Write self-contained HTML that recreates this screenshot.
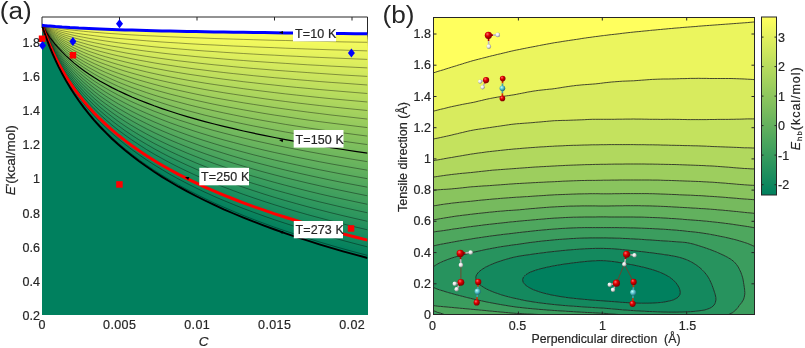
<!DOCTYPE html>
<html><head><meta charset="utf-8"><style>
html,body{margin:0;padding:0;background:#fff;width:805px;height:348px;overflow:hidden;position:relative}
text{font-family:"Liberation Sans",sans-serif;stroke:#262626;stroke-width:0.2px}
</style></head><body>
<svg width="805" height="348" viewBox="0 0 805 348" style="position:absolute;left:0;top:0;will-change:transform">
<rect width="805" height="348" fill="#fff"/>
<defs><clipPath id="ca"><rect x="42" y="17.0" width="325.5" height="297.6"/></clipPath>
<clipPath id="cb"><rect x="433" y="17" width="322" height="298"/></clipPath></defs>
<path d="M42.0 28 L42.0 17.0 L367.5 17.0 L367.5 314.6" fill="none" stroke="#262626" stroke-width="1"/>
<line x1="119.5" y1="17.0" x2="119.5" y2="20.5" stroke="#262626" stroke-width="1"/>
<line x1="197" y1="17.0" x2="197" y2="20.5" stroke="#262626" stroke-width="1"/>
<line x1="274.5" y1="17.0" x2="274.5" y2="20.5" stroke="#262626" stroke-width="1"/>
<line x1="352" y1="17.0" x2="352" y2="20.5" stroke="#262626" stroke-width="1"/>
<g clip-path="url(#ca)">
<path d="M42 25.3 L42.3 26.3 L43.1 28.7 L44.3 32.3 L45.9 36.7 L47.8 41.9 L50 47.6 L52.6 53.8 L55.4 60.2 L58.6 66.9 L62.1 73.6 L65.8 80.4 L69.9 87.3 L74.2 94 L78.8 100.7 L83.7 107.4 L88.8 113.9 L94.2 120.3 L99.8 126.5 L105.8 132.7 L111.9 138.7 L118.3 144.5 L125 150.2 L131.9 155.8 L139.1 161.3 L146.5 166.6 L154.1 171.8 L162 176.9 L170.1 181.8 L178.5 186.7 L187.1 191.4 L195.9 196 L204.9 200.5 L214.2 204.9 L223.7 209.3 L233.5 213.5 L243.4 217.6 L253.6 221.7 L264 225.6 L274.6 229.5 L285.5 233.3 L296.6 237.1 L307.8 240.7 L319.3 244.3 L331.1 247.8 L343 251.3 L355.1 254.6 L367.5 258 L372.5 319.6 L42 319.6 Z" fill="#00805e"/>
<path d="M42 25.3 L42.3 25.3 L43.1 25.4 L44.3 25.6 L45.9 25.7 L47.8 25.9 L50 26.1 L52.6 26.3 L55.4 26.6 L58.6 26.8 L62.1 27.1 L65.8 27.3 L69.9 27.6 L74.2 27.8 L78.8 28.1 L83.7 28.3 L88.8 28.5 L94.2 28.8 L99.8 29 L105.8 29.2 L111.9 29.5 L118.3 29.7 L125 29.9 L131.9 30.1 L139.1 30.3 L146.5 30.5 L154.1 30.7 L162 30.9 L170.1 31 L178.5 31.2 L187.1 31.4 L195.9 31.6 L204.9 31.7 L214.2 31.9 L223.7 32 L233.5 32.2 L243.4 32.3 L253.6 32.5 L264 32.6 L274.6 32.8 L285.5 32.9 L296.6 33.1 L307.8 33.2 L319.3 33.3 L331.1 33.5 L343 33.6 L355.1 33.7 L367.5 33.8 L372.5 319.6 L40 319.6 L40 25.3Z" fill="#feff5e"/>
<path d="M42 25.3 L42.3 25.3 L43.1 25.5 L44.3 25.6 L45.9 25.8 L47.8 26 L50 26.3 L52.6 26.6 L55.4 26.8 L58.6 27.1 L62.1 27.4 L65.8 27.7 L69.9 28 L74.2 28.3 L78.8 28.6 L83.7 28.9 L88.8 29.2 L94.2 29.5 L99.8 29.7 L105.8 30 L111.9 30.3 L118.3 30.5 L125 30.8 L131.9 31 L139.1 31.3 L146.5 31.5 L154.1 31.7 L162 32 L170.1 32.2 L178.5 32.4 L187.1 32.6 L195.9 32.8 L204.9 33 L214.2 33.2 L223.7 33.4 L233.5 33.6 L243.4 33.8 L253.6 33.9 L264 34.1 L274.6 34.3 L285.5 34.4 L296.6 34.6 L307.8 34.8 L319.3 34.9 L331.1 35.1 L343 35.2 L355.1 35.4 L367.5 35.5 L372.5 319.6 L40 319.6 L40 25.3Z" fill="#fcfe5e"/>
<path d="M42 25.3 L42.3 25.4 L43.1 25.5 L44.3 25.7 L45.9 25.9 L47.8 26.2 L50 26.4 L52.6 26.8 L55.4 27.1 L58.6 27.4 L62.1 27.8 L65.8 28.1 L69.9 28.5 L74.2 28.8 L78.8 29.2 L83.7 29.5 L88.8 29.8 L94.2 30.2 L99.8 30.5 L105.8 30.8 L111.9 31.1 L118.3 31.4 L125 31.7 L131.9 32 L139.1 32.3 L146.5 32.5 L154.1 32.8 L162 33.1 L170.1 33.3 L178.5 33.6 L187.1 33.8 L195.9 34.1 L204.9 34.3 L214.2 34.5 L223.7 34.7 L233.5 35 L243.4 35.2 L253.6 35.4 L264 35.6 L274.6 35.8 L285.5 36 L296.6 36.2 L307.8 36.3 L319.3 36.5 L331.1 36.7 L343 36.9 L355.1 37.1 L367.5 37.2 L372.5 319.6 L40 319.6 L40 25.3Z" fill="#fafd5e"/>
<path d="M42 25.3 L42.3 25.4 L43.1 25.5 L44.3 25.7 L45.9 26 L47.8 26.3 L50 26.6 L52.6 27 L55.4 27.3 L58.6 27.7 L62.1 28.1 L65.8 28.5 L69.9 28.9 L74.2 29.3 L78.8 29.7 L83.7 30.1 L88.8 30.5 L94.2 30.9 L99.8 31.2 L105.8 31.6 L111.9 31.9 L118.3 32.3 L125 32.6 L131.9 32.9 L139.1 33.3 L146.5 33.6 L154.1 33.9 L162 34.2 L170.1 34.5 L178.5 34.8 L187.1 35 L195.9 35.3 L204.9 35.6 L214.2 35.8 L223.7 36.1 L233.5 36.3 L243.4 36.6 L253.6 36.8 L264 37 L274.6 37.3 L285.5 37.5 L296.6 37.7 L307.8 37.9 L319.3 38.1 L331.1 38.3 L343 38.5 L355.1 38.7 L367.5 38.9 L372.5 319.6 L40 319.6 L40 25.3Z" fill="#f8fc5e"/>
<path d="M42 25.3 L42.3 25.4 L43.1 25.5 L44.3 25.8 L45.9 26.1 L47.8 26.4 L50 26.8 L52.6 27.2 L55.4 27.6 L58.6 28 L62.1 28.5 L65.8 28.9 L69.9 29.4 L74.2 29.8 L78.8 30.3 L83.7 30.7 L88.8 31.1 L94.2 31.6 L99.8 32 L105.8 32.4 L111.9 32.8 L118.3 33.2 L125 33.5 L131.9 33.9 L139.1 34.3 L146.5 34.6 L154.1 35 L162 35.3 L170.1 35.6 L178.5 35.9 L187.1 36.3 L195.9 36.6 L204.9 36.9 L214.2 37.1 L223.7 37.4 L233.5 37.7 L243.4 38 L253.6 38.2 L264 38.5 L274.6 38.8 L285.5 39 L296.6 39.3 L307.8 39.5 L319.3 39.7 L331.1 40 L343 40.2 L355.1 40.4 L367.5 40.6 L372.5 319.6 L40 319.6 L40 25.3Z" fill="#f6fb5e"/>
<path d="M42 25.3 L42.3 25.4 L43.1 25.6 L44.3 25.8 L45.9 26.1 L47.8 26.5 L50 26.9 L52.6 27.4 L55.4 27.9 L58.6 28.3 L62.1 28.8 L65.8 29.3 L69.9 29.8 L74.2 30.3 L78.8 30.8 L83.7 31.3 L88.8 31.8 L94.2 32.3 L99.8 32.7 L105.8 33.2 L111.9 33.6 L118.3 34 L125 34.5 L131.9 34.9 L139.1 35.3 L146.5 35.7 L154.1 36 L162 36.4 L170.1 36.8 L178.5 37.1 L187.1 37.5 L195.9 37.8 L204.9 38.1 L214.2 38.5 L223.7 38.8 L233.5 39.1 L243.4 39.4 L253.6 39.7 L264 40 L274.6 40.3 L285.5 40.5 L296.6 40.8 L307.8 41.1 L319.3 41.3 L331.1 41.6 L343 41.9 L355.1 42.1 L367.5 42.3 L372.5 319.6 L40 319.6 L40 25.3Z" fill="#f4fa5e"/>
<path d="M42 25.3 L42.3 25.4 L43.1 25.6 L44.3 25.9 L45.9 26.2 L47.8 26.6 L50 27.1 L52.6 27.6 L55.4 28.1 L58.6 28.6 L62.1 29.2 L65.8 29.7 L69.9 30.3 L74.2 30.8 L78.8 31.4 L83.7 31.9 L88.8 32.4 L94.2 33 L99.8 33.5 L105.8 34 L111.9 34.4 L118.3 34.9 L125 35.4 L131.9 35.8 L139.1 36.3 L146.5 36.7 L154.1 37.1 L162 37.5 L170.1 37.9 L178.5 38.3 L187.1 38.7 L195.9 39.1 L204.9 39.4 L214.2 39.8 L223.7 40.1 L233.5 40.5 L243.4 40.8 L253.6 41.1 L264 41.4 L274.6 41.8 L285.5 42.1 L296.6 42.4 L307.8 42.7 L319.3 42.9 L331.1 43.2 L343 43.5 L355.1 43.8 L367.5 44.1 L372.5 319.6 L40 319.6 L40 25.3Z" fill="#f2f95e"/>
<path d="M42 25.3 L42.3 25.4 L43.1 25.6 L44.3 25.9 L45.9 26.3 L47.8 26.8 L50 27.3 L52.6 27.8 L55.4 28.4 L58.6 29 L62.1 29.5 L65.8 30.1 L69.9 30.7 L74.2 31.3 L78.8 31.9 L83.7 32.5 L88.8 33.1 L94.2 33.6 L99.8 34.2 L105.8 34.7 L111.9 35.3 L118.3 35.8 L125 36.3 L131.9 36.8 L139.1 37.3 L146.5 37.7 L154.1 38.2 L162 38.6 L170.1 39.1 L178.5 39.5 L187.1 39.9 L195.9 40.3 L204.9 40.7 L214.2 41.1 L223.7 41.5 L233.5 41.8 L243.4 42.2 L253.6 42.6 L264 42.9 L274.6 43.3 L285.5 43.6 L296.6 43.9 L307.8 44.2 L319.3 44.6 L331.1 44.9 L343 45.2 L355.1 45.5 L367.5 45.8 L372.5 319.6 L40 319.6 L40 25.3Z" fill="#f0f85e"/>
<path d="M42 25.3 L42.3 25.4 L43.1 25.6 L44.3 26 L45.9 26.4 L47.8 26.9 L50 27.4 L52.6 28 L55.4 28.6 L58.6 29.3 L62.1 29.9 L65.8 30.6 L69.9 31.2 L74.2 31.8 L78.8 32.5 L83.7 33.1 L88.8 33.7 L94.2 34.3 L99.8 34.9 L105.8 35.5 L111.9 36.1 L118.3 36.7 L125 37.2 L131.9 37.7 L139.1 38.2 L146.5 38.8 L154.1 39.3 L162 39.7 L170.1 40.2 L178.5 40.7 L187.1 41.1 L195.9 41.6 L204.9 42 L214.2 42.4 L223.7 42.8 L233.5 43.2 L243.4 43.6 L253.6 44 L264 44.4 L274.6 44.7 L285.5 45.1 L296.6 45.5 L307.8 45.8 L319.3 46.2 L331.1 46.5 L343 46.8 L355.1 47.1 L367.5 47.5 L372.5 319.6 L40 319.6 L40 25.3Z" fill="#eff75e"/>
<path d="M42 25.3 L42.3 25.4 L43.1 25.7 L44.3 26 L45.9 26.5 L47.8 27 L50 27.6 L52.6 28.2 L55.4 28.9 L58.6 29.6 L62.1 30.3 L65.8 31 L69.9 31.7 L74.2 32.4 L78.8 33 L83.7 33.7 L88.8 34.4 L94.2 35 L99.8 35.7 L105.8 36.3 L111.9 36.9 L118.3 37.5 L125 38.1 L131.9 38.7 L139.1 39.2 L146.5 39.8 L154.1 40.3 L162 40.8 L170.1 41.4 L178.5 41.9 L187.1 42.3 L195.9 42.8 L204.9 43.3 L214.2 43.7 L223.7 44.2 L233.5 44.6 L243.4 45 L253.6 45.4 L264 45.8 L274.6 46.2 L285.5 46.6 L296.6 47 L307.8 47.4 L319.3 47.8 L331.1 48.1 L343 48.5 L355.1 48.8 L367.5 49.2 L372.5 319.6 L40 319.6 L40 25.3Z" fill="#edf65e"/>
<path d="M42 25.3 L42.3 25.4 L43.1 25.7 L44.3 26.1 L45.9 26.6 L47.8 27.1 L50 27.8 L52.6 28.4 L55.4 29.1 L58.6 29.9 L62.1 30.6 L65.8 31.4 L69.9 32.1 L74.2 32.9 L78.8 33.6 L83.7 34.3 L88.8 35 L94.2 35.7 L99.8 36.4 L105.8 37.1 L111.9 37.8 L118.3 38.4 L125 39 L131.9 39.6 L139.1 40.2 L146.5 40.8 L154.1 41.4 L162 42 L170.1 42.5 L178.5 43 L187.1 43.6 L195.9 44.1 L204.9 44.6 L214.2 45 L223.7 45.5 L233.5 46 L243.4 46.4 L253.6 46.9 L264 47.3 L274.6 47.7 L285.5 48.2 L296.6 48.6 L307.8 49 L319.3 49.4 L331.1 49.8 L343 50.1 L355.1 50.5 L367.5 50.9 L372.5 319.6 L40 319.6 L40 25.3Z" fill="#ebf55e"/>
<path d="M42 25.3 L42.3 25.4 L43.1 25.7 L44.3 26.1 L45.9 26.6 L47.8 27.2 L50 27.9 L52.6 28.6 L55.4 29.4 L58.6 30.2 L62.1 31 L65.8 31.8 L69.9 32.6 L74.2 33.4 L78.8 34.1 L83.7 34.9 L88.8 35.7 L94.2 36.4 L99.8 37.2 L105.8 37.9 L111.9 38.6 L118.3 39.3 L125 39.9 L131.9 40.6 L139.1 41.2 L146.5 41.9 L154.1 42.5 L162 43.1 L170.1 43.6 L178.5 44.2 L187.1 44.8 L195.9 45.3 L204.9 45.8 L214.2 46.4 L223.7 46.9 L233.5 47.4 L243.4 47.8 L253.6 48.3 L264 48.8 L274.6 49.2 L285.5 49.7 L296.6 50.1 L307.8 50.5 L319.3 51 L331.1 51.4 L343 51.8 L355.1 52.2 L367.5 52.6 L372.5 319.6 L40 319.6 L40 25.3Z" fill="#e9f45e"/>
<path d="M42 25.3 L42.3 25.4 L43.1 25.7 L44.3 26.2 L45.9 26.7 L47.8 27.4 L50 28.1 L52.6 28.8 L55.4 29.6 L58.6 30.5 L62.1 31.3 L65.8 32.2 L69.9 33 L74.2 33.9 L78.8 34.7 L83.7 35.5 L88.8 36.3 L94.2 37.1 L99.8 37.9 L105.8 38.7 L111.9 39.4 L118.3 40.1 L125 40.9 L131.9 41.6 L139.1 42.2 L146.5 42.9 L154.1 43.5 L162 44.2 L170.1 44.8 L178.5 45.4 L187.1 46 L195.9 46.6 L204.9 47.1 L214.2 47.7 L223.7 48.2 L233.5 48.7 L243.4 49.3 L253.6 49.8 L264 50.3 L274.6 50.7 L285.5 51.2 L296.6 51.7 L307.8 52.1 L319.3 52.6 L331.1 53 L343 53.4 L355.1 53.9 L367.5 54.3 L372.5 319.6 L40 319.6 L40 25.3Z" fill="#e7f35e"/>
<path d="M42 25.3 L42.3 25.4 L43.1 25.8 L44.3 26.2 L45.9 26.8 L47.8 27.5 L50 28.2 L52.6 29.1 L55.4 29.9 L58.6 30.8 L62.1 31.7 L65.8 32.6 L69.9 33.5 L74.2 34.4 L78.8 35.2 L83.7 36.1 L88.8 37 L94.2 37.8 L99.8 38.6 L105.8 39.5 L111.9 40.2 L118.3 41 L125 41.8 L131.9 42.5 L139.1 43.2 L146.5 43.9 L154.1 44.6 L162 45.3 L170.1 45.9 L178.5 46.6 L187.1 47.2 L195.9 47.8 L204.9 48.4 L214.2 49 L223.7 49.6 L233.5 50.1 L243.4 50.7 L253.6 51.2 L264 51.7 L274.6 52.2 L285.5 52.7 L296.6 53.2 L307.8 53.7 L319.3 54.2 L331.1 54.6 L343 55.1 L355.1 55.5 L367.5 56 L372.5 319.6 L40 319.6 L40 25.3Z" fill="#e5f25e"/>
<path d="M42 25.3 L42.3 25.4 L43.1 25.8 L44.3 26.3 L45.9 26.9 L47.8 27.6 L50 28.4 L52.6 29.3 L55.4 30.2 L58.6 31.1 L62.1 32 L65.8 33 L69.9 33.9 L74.2 34.9 L78.8 35.8 L83.7 36.7 L88.8 37.6 L94.2 38.5 L99.8 39.4 L105.8 40.2 L111.9 41.1 L118.3 41.9 L125 42.7 L131.9 43.5 L139.1 44.2 L146.5 45 L154.1 45.7 L162 46.4 L170.1 47.1 L178.5 47.8 L187.1 48.4 L195.9 49.1 L204.9 49.7 L214.2 50.3 L223.7 50.9 L233.5 51.5 L243.4 52.1 L253.6 52.6 L264 53.2 L274.6 53.7 L285.5 54.3 L296.6 54.8 L307.8 55.3 L319.3 55.8 L331.1 56.3 L343 56.8 L355.1 57.2 L367.5 57.7 L372.5 319.6 L40 319.6 L40 25.3Z" fill="#e3f15e"/>
<path d="M42 25.3 L42.3 25.4 L43.1 25.8 L44.3 26.3 L45.9 27 L47.8 27.7 L50 28.6 L52.6 29.5 L55.4 30.4 L58.6 31.4 L62.1 32.4 L65.8 33.4 L69.9 34.4 L74.2 35.4 L78.8 36.4 L83.7 37.3 L88.8 38.3 L94.2 39.2 L99.8 40.1 L105.8 41 L111.9 41.9 L118.3 42.8 L125 43.6 L131.9 44.4 L139.1 45.2 L146.5 46 L154.1 46.8 L162 47.5 L170.1 48.2 L178.5 48.9 L187.1 49.6 L195.9 50.3 L204.9 51 L214.2 51.6 L223.7 52.3 L233.5 52.9 L243.4 53.5 L253.6 54.1 L264 54.7 L274.6 55.2 L285.5 55.8 L296.6 56.3 L307.8 56.9 L319.3 57.4 L331.1 57.9 L343 58.4 L355.1 58.9 L367.5 59.4 L372.5 319.6 L40 319.6 L40 25.3Z" fill="#e1f05e"/>
<path d="M42 25.3 L42.3 25.5 L43.1 25.8 L44.3 26.4 L45.9 27.1 L47.8 27.9 L50 28.7 L52.6 29.7 L55.4 30.7 L58.6 31.7 L62.1 32.7 L65.8 33.8 L69.9 34.8 L74.2 35.9 L78.8 36.9 L83.7 37.9 L88.8 38.9 L94.2 39.9 L99.8 40.9 L105.8 41.8 L111.9 42.7 L118.3 43.6 L125 44.5 L131.9 45.4 L139.1 46.2 L146.5 47 L154.1 47.8 L162 48.6 L170.1 49.4 L178.5 50.1 L187.1 50.9 L195.9 51.6 L204.9 52.3 L214.2 52.9 L223.7 53.6 L233.5 54.3 L243.4 54.9 L253.6 55.5 L264 56.1 L274.6 56.7 L285.5 57.3 L296.6 57.9 L307.8 58.4 L319.3 59 L331.1 59.5 L343 60.1 L355.1 60.6 L367.5 61.1 L372.5 319.6 L40 319.6 L40 25.3Z" fill="#dfef5e"/>
<path d="M42 25.3 L42.3 25.5 L43.1 25.9 L44.3 26.4 L45.9 27.1 L47.8 28 L50 28.9 L52.6 29.9 L55.4 30.9 L58.6 32 L62.1 33.1 L65.8 34.2 L69.9 35.3 L74.2 36.4 L78.8 37.5 L83.7 38.5 L88.8 39.6 L94.2 40.6 L99.8 41.6 L105.8 42.6 L111.9 43.6 L118.3 44.5 L125 45.4 L131.9 46.3 L139.1 47.2 L146.5 48.1 L154.1 48.9 L162 49.7 L170.1 50.5 L178.5 51.3 L187.1 52.1 L195.9 52.8 L204.9 53.5 L214.2 54.3 L223.7 55 L233.5 55.6 L243.4 56.3 L253.6 57 L264 57.6 L274.6 58.2 L285.5 58.8 L296.6 59.4 L307.8 60 L319.3 60.6 L331.1 61.2 L343 61.7 L355.1 62.3 L367.5 62.8 L372.5 319.6 L40 319.6 L40 25.3Z" fill="#ddee5e"/>
<path d="M42 25.3 L42.3 25.5 L43.1 25.9 L44.3 26.5 L45.9 27.2 L47.8 28.1 L50 29.1 L52.6 30.1 L55.4 31.2 L58.6 32.3 L62.1 33.4 L65.8 34.6 L69.9 35.7 L74.2 36.9 L78.8 38 L83.7 39.1 L88.8 40.2 L94.2 41.3 L99.8 42.4 L105.8 43.4 L111.9 44.4 L118.3 45.4 L125 46.4 L131.9 47.3 L139.1 48.2 L146.5 49.1 L154.1 50 L162 50.8 L170.1 51.7 L178.5 52.5 L187.1 53.3 L195.9 54.1 L204.9 54.8 L214.2 55.6 L223.7 56.3 L233.5 57 L243.4 57.7 L253.6 58.4 L264 59.1 L274.6 59.7 L285.5 60.4 L296.6 61 L307.8 61.6 L319.3 62.2 L331.1 62.8 L343 63.4 L355.1 63.9 L367.5 64.5 L372.5 319.6 L40 319.6 L40 25.3Z" fill="#dbed5e"/>
<path d="M42 25.3 L42.3 25.5 L43.1 25.9 L44.3 26.5 L45.9 27.3 L47.8 28.2 L50 29.2 L52.6 30.3 L55.4 31.4 L58.6 32.6 L62.1 33.8 L65.8 35 L69.9 36.2 L74.2 37.4 L78.8 38.6 L83.7 39.7 L88.8 40.9 L94.2 42 L99.8 43.1 L105.8 44.2 L111.9 45.2 L118.3 46.3 L125 47.3 L131.9 48.2 L139.1 49.2 L146.5 50.1 L154.1 51.1 L162 51.9 L170.1 52.8 L178.5 53.7 L187.1 54.5 L195.9 55.3 L204.9 56.1 L214.2 56.9 L223.7 57.6 L233.5 58.4 L243.4 59.1 L253.6 59.8 L264 60.5 L274.6 61.2 L285.5 61.9 L296.6 62.5 L307.8 63.2 L319.3 63.8 L331.1 64.4 L343 65 L355.1 65.6 L367.5 66.2 L372.5 319.6 L40 319.6 L40 25.3Z" fill="#d9ec5e"/>
<path d="M42 25.3 L42.3 25.5 L43.1 25.9 L44.3 26.6 L45.9 27.4 L47.8 28.3 L50 29.4 L52.6 30.5 L55.4 31.7 L58.6 32.9 L62.1 34.2 L65.8 35.4 L69.9 36.6 L74.2 37.9 L78.8 39.1 L83.7 40.3 L88.8 41.5 L94.2 42.7 L99.8 43.8 L105.8 45 L111.9 46.1 L118.3 47.1 L125 48.2 L131.9 49.2 L139.1 50.2 L146.5 51.2 L154.1 52.1 L162 53.1 L170.1 54 L178.5 54.9 L187.1 55.7 L195.9 56.6 L204.9 57.4 L214.2 58.2 L223.7 59 L233.5 59.8 L243.4 60.5 L253.6 61.3 L264 62 L274.6 62.7 L285.5 63.4 L296.6 64.1 L307.8 64.8 L319.3 65.4 L331.1 66.1 L343 66.7 L355.1 67.3 L367.5 67.9 L372.5 319.6 L40 319.6 L40 25.3Z" fill="#d7eb5e"/>
<path d="M42 25.3 L42.3 25.5 L43.1 26 L44.3 26.6 L45.9 27.5 L47.8 28.5 L50 29.6 L52.6 30.7 L55.4 32 L58.6 33.2 L62.1 34.5 L65.8 35.8 L69.9 37.1 L74.2 38.4 L78.8 39.7 L83.7 40.9 L88.8 42.2 L94.2 43.4 L99.8 44.6 L105.8 45.7 L111.9 46.9 L118.3 48 L125 49.1 L131.9 50.2 L139.1 51.2 L146.5 52.2 L154.1 53.2 L162 54.2 L170.1 55.1 L178.5 56 L187.1 56.9 L195.9 57.8 L204.9 58.7 L214.2 59.5 L223.7 60.3 L233.5 61.1 L243.4 61.9 L253.6 62.7 L264 63.5 L274.6 64.2 L285.5 64.9 L296.6 65.6 L307.8 66.3 L319.3 67 L331.1 67.7 L343 68.3 L355.1 69 L367.5 69.6 L372.5 319.6 L40 319.6 L40 25.3Z" fill="#d5ea5e"/>
<path d="M42 25.3 L42.3 25.5 L43.1 26 L44.3 26.7 L45.9 27.6 L47.8 28.6 L50 29.7 L52.6 30.9 L55.4 32.2 L58.6 33.5 L62.1 34.9 L65.8 36.2 L69.9 37.6 L74.2 38.9 L78.8 40.2 L83.7 41.5 L88.8 42.8 L94.2 44.1 L99.8 45.3 L105.8 46.5 L111.9 47.7 L118.3 48.9 L125 50 L131.9 51.1 L139.1 52.2 L146.5 53.2 L154.1 54.3 L162 55.3 L170.1 56.3 L178.5 57.2 L187.1 58.2 L195.9 59.1 L204.9 60 L214.2 60.8 L223.7 61.7 L233.5 62.5 L243.4 63.3 L253.6 64.1 L264 64.9 L274.6 65.7 L285.5 66.4 L296.6 67.2 L307.8 67.9 L319.3 68.6 L331.1 69.3 L343 70 L355.1 70.7 L367.5 71.3 L372.5 319.6 L40 319.6 L40 25.3Z" fill="#d3e95e"/>
<path d="M42 25.3 L42.3 25.5 L43.1 26 L44.3 26.7 L45.9 27.6 L47.8 28.7 L50 29.9 L52.6 31.1 L55.4 32.5 L58.6 33.8 L62.1 35.2 L65.8 36.6 L69.9 38 L74.2 39.4 L78.8 40.8 L83.7 42.1 L88.8 43.5 L94.2 44.8 L99.8 46.1 L105.8 47.3 L111.9 48.6 L118.3 49.8 L125 50.9 L131.9 52.1 L139.1 53.2 L146.5 54.3 L154.1 55.3 L162 56.4 L170.1 57.4 L178.5 58.4 L187.1 59.4 L195.9 60.3 L204.9 61.2 L214.2 62.2 L223.7 63 L233.5 63.9 L243.4 64.8 L253.6 65.6 L264 66.4 L274.6 67.2 L285.5 68 L296.6 68.7 L307.8 69.5 L319.3 70.2 L331.1 70.9 L343 71.7 L355.1 72.3 L367.5 73 L372.5 319.6 L40 319.6 L40 25.3Z" fill="#d1e85e"/>
<path d="M42 25.3 L42.3 25.5 L43.1 26 L44.3 26.8 L45.9 27.7 L47.8 28.8 L50 30 L52.6 31.3 L55.4 32.7 L58.6 34.1 L62.1 35.6 L65.8 37 L69.9 38.5 L74.2 39.9 L78.8 41.3 L83.7 42.7 L88.8 44.1 L94.2 45.5 L99.8 46.8 L105.8 48.1 L111.9 49.4 L118.3 50.6 L125 51.8 L131.9 53 L139.1 54.2 L146.5 55.3 L154.1 56.4 L162 57.5 L170.1 58.6 L178.5 59.6 L187.1 60.6 L195.9 61.6 L204.9 62.5 L214.2 63.5 L223.7 64.4 L233.5 65.3 L243.4 66.2 L253.6 67 L264 67.9 L274.6 68.7 L285.5 69.5 L296.6 70.3 L307.8 71.1 L319.3 71.8 L331.1 72.6 L343 73.3 L355.1 74 L367.5 74.7 L372.5 319.6 L40 319.6 L40 25.3Z" fill="#cfe75e"/>
<path d="M42 25.3 L42.3 25.5 L43.1 26.1 L44.3 26.8 L45.9 27.8 L47.8 28.9 L50 30.2 L52.6 31.6 L55.4 33 L58.6 34.4 L62.1 35.9 L65.8 37.4 L69.9 38.9 L74.2 40.4 L78.8 41.9 L83.7 43.3 L88.8 44.8 L94.2 46.2 L99.8 47.5 L105.8 48.9 L111.9 50.2 L118.3 51.5 L125 52.8 L131.9 54 L139.1 55.2 L146.5 56.4 L154.1 57.5 L162 58.6 L170.1 59.7 L178.5 60.8 L187.1 61.8 L195.9 62.8 L204.9 63.8 L214.2 64.8 L223.7 65.7 L233.5 66.7 L243.4 67.6 L253.6 68.5 L264 69.3 L274.6 70.2 L285.5 71 L296.6 71.8 L307.8 72.6 L319.3 73.4 L331.1 74.2 L343 75 L355.1 75.7 L367.5 76.4 L372.5 319.6 L40 319.6 L40 25.3Z" fill="#cee65e"/>
<path d="M42 25.3 L42.3 25.5 L43.1 26.1 L44.3 26.9 L45.9 27.9 L47.8 29.1 L50 30.4 L52.6 31.8 L55.4 33.2 L58.6 34.7 L62.1 36.3 L65.8 37.8 L69.9 39.4 L74.2 40.9 L78.8 42.4 L83.7 43.9 L88.8 45.4 L94.2 46.9 L99.8 48.3 L105.8 49.7 L111.9 51 L118.3 52.4 L125 53.7 L131.9 54.9 L139.1 56.2 L146.5 57.4 L154.1 58.6 L162 59.7 L170.1 60.8 L178.5 61.9 L187.1 63 L195.9 64.1 L204.9 65.1 L214.2 66.1 L223.7 67.1 L233.5 68 L243.4 69 L253.6 69.9 L264 70.8 L274.6 71.7 L285.5 72.5 L296.6 73.4 L307.8 74.2 L319.3 75 L331.1 75.8 L343 76.6 L355.1 77.4 L367.5 78.1 L372.5 319.6 L40 319.6 L40 25.3Z" fill="#cce55e"/>
<path d="M42 25.3 L42.3 25.5 L43.1 26.1 L44.3 26.9 L45.9 28 L47.8 29.2 L50 30.5 L52.6 32 L55.4 33.5 L58.6 35 L62.1 36.6 L65.8 38.2 L69.9 39.8 L74.2 41.4 L78.8 43 L83.7 44.5 L88.8 46.1 L94.2 47.6 L99.8 49 L105.8 50.5 L111.9 51.9 L118.3 53.2 L125 54.6 L131.9 55.9 L139.1 57.2 L146.5 58.4 L154.1 59.6 L162 60.8 L170.1 62 L178.5 63.1 L187.1 64.2 L195.9 65.3 L204.9 66.4 L214.2 67.4 L223.7 68.4 L233.5 69.4 L243.4 70.4 L253.6 71.3 L264 72.3 L274.6 73.2 L285.5 74.1 L296.6 74.9 L307.8 75.8 L319.3 76.6 L331.1 77.5 L343 78.3 L355.1 79.1 L367.5 79.8 L372.5 319.6 L40 319.6 L40 25.3Z" fill="#cae45e"/>
<path d="M42 25.3 L42.3 25.5 L43.1 26.1 L44.3 27 L45.9 28.1 L47.8 29.3 L50 30.7 L52.6 32.2 L55.4 33.7 L58.6 35.3 L62.1 37 L65.8 38.6 L69.9 40.3 L74.2 41.9 L78.8 43.5 L83.7 45.1 L88.8 46.7 L94.2 48.3 L99.8 49.8 L105.8 51.3 L111.9 52.7 L118.3 54.1 L125 55.5 L131.9 56.9 L139.1 58.2 L146.5 59.5 L154.1 60.7 L162 61.9 L170.1 63.1 L178.5 64.3 L187.1 65.5 L195.9 66.6 L204.9 67.7 L214.2 68.7 L223.7 69.8 L233.5 70.8 L243.4 71.8 L253.6 72.8 L264 73.7 L274.6 74.7 L285.5 75.6 L296.6 76.5 L307.8 77.4 L319.3 78.2 L331.1 79.1 L343 79.9 L355.1 80.7 L367.5 81.6 L372.5 319.6 L40 319.6 L40 25.3Z" fill="#c8e35e"/>
<path d="M42 25.3 L42.3 25.5 L43.1 26.2 L44.3 27 L45.9 28.1 L47.8 29.4 L50 30.9 L52.6 32.4 L55.4 34 L58.6 35.7 L62.1 37.3 L65.8 39 L69.9 40.7 L74.2 42.4 L78.8 44.1 L83.7 45.7 L88.8 47.4 L94.2 49 L99.8 50.5 L105.8 52 L111.9 53.5 L118.3 55 L125 56.4 L131.9 57.8 L139.1 59.2 L146.5 60.5 L154.1 61.8 L162 63.1 L170.1 64.3 L178.5 65.5 L187.1 66.7 L195.9 67.8 L204.9 68.9 L214.2 70 L223.7 71.1 L233.5 72.2 L243.4 73.2 L253.6 74.2 L264 75.2 L274.6 76.2 L285.5 77.1 L296.6 78 L307.8 79 L319.3 79.8 L331.1 80.7 L343 81.6 L355.1 82.4 L367.5 83.3 L372.5 319.6 L40 319.6 L40 25.3Z" fill="#c6e25e"/>
<path d="M42 25.3 L42.3 25.6 L43.1 26.2 L44.3 27.1 L45.9 28.2 L47.8 29.6 L50 31 L52.6 32.6 L55.4 34.3 L58.6 36 L62.1 37.7 L65.8 39.4 L69.9 41.2 L74.2 42.9 L78.8 44.6 L83.7 46.3 L88.8 48 L94.2 49.7 L99.8 51.3 L105.8 52.8 L111.9 54.4 L118.3 55.9 L125 57.3 L131.9 58.8 L139.1 60.2 L146.5 61.5 L154.1 62.9 L162 64.2 L170.1 65.4 L178.5 66.7 L187.1 67.9 L195.9 69.1 L204.9 70.2 L214.2 71.4 L223.7 72.5 L233.5 73.6 L243.4 74.6 L253.6 75.7 L264 76.7 L274.6 77.7 L285.5 78.6 L296.6 79.6 L307.8 80.5 L319.3 81.5 L331.1 82.4 L343 83.2 L355.1 84.1 L367.5 85 L372.5 319.6 L40 319.6 L40 25.3Z" fill="#c4e15e"/>
<path d="M42 25.3 L42.3 25.6 L43.1 26.2 L44.3 27.1 L45.9 28.3 L47.8 29.7 L50 31.2 L52.6 32.8 L55.4 34.5 L58.6 36.3 L62.1 38 L65.8 39.8 L69.9 41.6 L74.2 43.4 L78.8 45.2 L83.7 46.9 L88.8 48.7 L94.2 50.3 L99.8 52 L105.8 53.6 L111.9 55.2 L118.3 56.7 L125 58.2 L131.9 59.7 L139.1 61.2 L146.5 62.6 L154.1 63.9 L162 65.3 L170.1 66.6 L178.5 67.9 L187.1 69.1 L195.9 70.3 L204.9 71.5 L214.2 72.7 L223.7 73.8 L233.5 74.9 L243.4 76 L253.6 77.1 L264 78.1 L274.6 79.2 L285.5 80.2 L296.6 81.1 L307.8 82.1 L319.3 83.1 L331.1 84 L343 84.9 L355.1 85.8 L367.5 86.7 L372.5 319.6 L40 319.6 L40 25.3Z" fill="#c2e05e"/>
<path d="M42 25.3 L42.3 25.6 L43.1 26.2 L44.3 27.2 L45.9 28.4 L47.8 29.8 L50 31.4 L52.6 33 L55.4 34.8 L58.6 36.6 L62.1 38.4 L65.8 40.2 L69.9 42.1 L74.2 43.9 L78.8 45.8 L83.7 47.5 L88.8 49.3 L94.2 51 L99.8 52.7 L105.8 54.4 L111.9 56 L118.3 57.6 L125 59.2 L131.9 60.7 L139.1 62.2 L146.5 63.6 L154.1 65 L162 66.4 L170.1 67.7 L178.5 69 L187.1 70.3 L195.9 71.6 L204.9 72.8 L214.2 74 L223.7 75.2 L233.5 76.3 L243.4 77.4 L253.6 78.5 L264 79.6 L274.6 80.7 L285.5 81.7 L296.6 82.7 L307.8 83.7 L319.3 84.7 L331.1 85.6 L343 86.5 L355.1 87.5 L367.5 88.4 L372.5 319.6 L40 319.6 L40 25.3Z" fill="#c0df5e"/>
<path d="M42 25.3 L42.3 25.6 L43.1 26.3 L44.3 27.2 L45.9 28.5 L47.8 29.9 L50 31.5 L52.6 33.2 L55.4 35 L58.6 36.9 L62.1 38.8 L65.8 40.7 L69.9 42.5 L74.2 44.4 L78.8 46.3 L83.7 48.1 L88.8 50 L94.2 51.7 L99.8 53.5 L105.8 55.2 L111.9 56.9 L118.3 58.5 L125 60.1 L131.9 61.6 L139.1 63.2 L146.5 64.6 L154.1 66.1 L162 67.5 L170.1 68.9 L178.5 70.2 L187.1 71.5 L195.9 72.8 L204.9 74.1 L214.2 75.3 L223.7 76.5 L233.5 77.7 L243.4 78.8 L253.6 80 L264 81.1 L274.6 82.2 L285.5 83.2 L296.6 84.2 L307.8 85.3 L319.3 86.3 L331.1 87.2 L343 88.2 L355.1 89.1 L367.5 90.1 L372.5 319.6 L40 319.6 L40 25.3Z" fill="#bedf5e"/>
<path d="M42 25.3 L42.3 25.6 L43.1 26.3 L44.3 27.3 L45.9 28.6 L47.8 30 L50 31.7 L52.6 33.4 L55.4 35.3 L58.6 37.2 L62.1 39.1 L65.8 41.1 L69.9 43 L74.2 44.9 L78.8 46.9 L83.7 48.7 L88.8 50.6 L94.2 52.4 L99.8 54.2 L105.8 56 L111.9 57.7 L118.3 59.4 L125 61 L131.9 62.6 L139.1 64.1 L146.5 65.7 L154.1 67.2 L162 68.6 L170.1 70 L178.5 71.4 L187.1 72.8 L195.9 74.1 L204.9 75.4 L214.2 76.6 L223.7 77.9 L233.5 79.1 L243.4 80.3 L253.6 81.4 L264 82.5 L274.6 83.6 L285.5 84.7 L296.6 85.8 L307.8 86.8 L319.3 87.9 L331.1 88.9 L343 89.9 L355.1 90.8 L367.5 91.8 L372.5 319.6 L40 319.6 L40 25.3Z" fill="#bcde5e"/>
<path d="M42 25.3 L42.3 25.6 L43.1 26.3 L44.3 27.3 L45.9 28.6 L47.8 30.2 L50 31.8 L52.6 33.6 L55.4 35.5 L58.6 37.5 L62.1 39.5 L65.8 41.5 L69.9 43.5 L74.2 45.4 L78.8 47.4 L83.7 49.3 L88.8 51.3 L94.2 53.1 L99.8 55 L105.8 56.8 L111.9 58.5 L118.3 60.2 L125 61.9 L131.9 63.5 L139.1 65.1 L146.5 66.7 L154.1 68.2 L162 69.7 L170.1 71.2 L178.5 72.6 L187.1 74 L195.9 75.3 L204.9 76.6 L214.2 77.9 L223.7 79.2 L233.5 80.4 L243.4 81.7 L253.6 82.8 L264 84 L274.6 85.1 L285.5 86.3 L296.6 87.4 L307.8 88.4 L319.3 89.5 L331.1 90.5 L343 91.5 L355.1 92.5 L367.5 93.5 L372.5 319.6 L40 319.6 L40 25.3Z" fill="#badd5e"/>
<path d="M42 25.3 L42.3 25.6 L43.1 26.3 L44.3 27.4 L45.9 28.7 L47.8 30.3 L50 32 L52.6 33.9 L55.4 35.8 L58.6 37.8 L62.1 39.8 L65.8 41.9 L69.9 43.9 L74.2 45.9 L78.8 48 L83.7 50 L88.8 51.9 L94.2 53.8 L99.8 55.7 L105.8 57.5 L111.9 59.3 L118.3 61.1 L125 62.8 L131.9 64.5 L139.1 66.1 L146.5 67.7 L154.1 69.3 L162 70.8 L170.1 72.3 L178.5 73.8 L187.1 75.2 L195.9 76.6 L204.9 77.9 L214.2 79.3 L223.7 80.6 L233.5 81.8 L243.4 83.1 L253.6 84.3 L264 85.5 L274.6 86.6 L285.5 87.8 L296.6 88.9 L307.8 90 L319.3 91.1 L331.1 92.1 L343 93.2 L355.1 94.2 L367.5 95.2 L372.5 319.6 L40 319.6 L40 25.3Z" fill="#b8dc5e"/>
<path d="M42 25.3 L42.3 25.6 L43.1 26.4 L44.3 27.4 L45.9 28.8 L47.8 30.4 L50 32.2 L52.6 34.1 L55.4 36 L58.6 38.1 L62.1 40.2 L65.8 42.3 L69.9 44.4 L74.2 46.5 L78.8 48.5 L83.7 50.6 L88.8 52.6 L94.2 54.5 L99.8 56.4 L105.8 58.3 L111.9 60.2 L118.3 62 L125 63.7 L131.9 65.5 L139.1 67.1 L146.5 68.8 L154.1 70.4 L162 71.9 L170.1 73.5 L178.5 75 L187.1 76.4 L195.9 77.8 L204.9 79.2 L214.2 80.6 L223.7 81.9 L233.5 83.2 L243.4 84.5 L253.6 85.7 L264 86.9 L274.6 88.1 L285.5 89.3 L296.6 90.5 L307.8 91.6 L319.3 92.7 L331.1 93.8 L343 94.8 L355.1 95.9 L367.5 96.9 L372.5 319.6 L40 319.6 L40 25.3Z" fill="#b6db5e"/>
<path d="M42 25.3 L42.3 25.6 L43.1 26.4 L44.3 27.5 L45.9 28.9 L47.8 30.5 L50 32.3 L52.6 34.3 L55.4 36.3 L58.6 38.4 L62.1 40.5 L65.8 42.7 L69.9 44.8 L74.2 47 L78.8 49.1 L83.7 51.2 L88.8 53.2 L94.2 55.2 L99.8 57.2 L105.8 59.1 L111.9 61 L118.3 62.9 L125 64.7 L131.9 66.4 L139.1 68.1 L146.5 69.8 L154.1 71.4 L162 73 L170.1 74.6 L178.5 76.1 L187.1 77.6 L195.9 79.1 L204.9 80.5 L214.2 81.9 L223.7 83.3 L233.5 84.6 L243.4 85.9 L253.6 87.2 L264 88.4 L274.6 89.6 L285.5 90.8 L296.6 92 L307.8 93.2 L319.3 94.3 L331.1 95.4 L343 96.5 L355.1 97.5 L367.5 98.6 L372.5 319.6 L40 319.6 L40 25.3Z" fill="#b4da5e"/>
<path d="M42 25.3 L42.3 25.6 L43.1 26.4 L44.3 27.5 L45.9 29 L47.8 30.6 L50 32.5 L52.6 34.5 L55.4 36.6 L58.6 38.7 L62.1 40.9 L65.8 43.1 L69.9 45.3 L74.2 47.5 L78.8 49.6 L83.7 51.8 L88.8 53.9 L94.2 55.9 L99.8 57.9 L105.8 59.9 L111.9 61.8 L118.3 63.7 L125 65.6 L131.9 67.4 L139.1 69.1 L146.5 70.8 L154.1 72.5 L162 74.2 L170.1 75.8 L178.5 77.3 L187.1 78.8 L195.9 80.3 L204.9 81.8 L214.2 83.2 L223.7 84.6 L233.5 86 L243.4 87.3 L253.6 88.6 L264 89.9 L274.6 91.1 L285.5 92.4 L296.6 93.6 L307.8 94.7 L319.3 95.9 L331.1 97 L343 98.1 L355.1 99.2 L367.5 100.3 L372.5 319.6 L40 319.6 L40 25.3Z" fill="#b2d95e"/>
<path d="M42 25.3 L42.3 25.6 L43.1 26.4 L44.3 27.6 L45.9 29.1 L47.8 30.8 L50 32.7 L52.6 34.7 L55.4 36.8 L58.6 39 L62.1 41.2 L65.8 43.5 L69.9 45.7 L74.2 48 L78.8 50.2 L83.7 52.4 L88.8 54.5 L94.2 56.6 L99.8 58.7 L105.8 60.7 L111.9 62.7 L118.3 64.6 L125 66.5 L131.9 68.3 L139.1 70.1 L146.5 71.9 L154.1 73.6 L162 75.3 L170.1 76.9 L178.5 78.5 L187.1 80.1 L195.9 81.6 L204.9 83.1 L214.2 84.5 L223.7 85.9 L233.5 87.3 L243.4 88.7 L253.6 90 L264 91.3 L274.6 92.6 L285.5 93.9 L296.6 95.1 L307.8 96.3 L319.3 97.5 L331.1 98.7 L343 99.8 L355.1 100.9 L367.5 102 L372.5 319.6 L40 319.6 L40 25.3Z" fill="#b0d85e"/>
<path d="M42 25.3 L42.3 25.6 L43.1 26.5 L44.3 27.6 L45.9 29.1 L47.8 30.9 L50 32.8 L52.6 34.9 L55.4 37.1 L58.6 39.3 L62.1 41.6 L65.8 43.9 L69.9 46.2 L74.2 48.5 L78.8 50.7 L83.7 53 L88.8 55.2 L94.2 57.3 L99.8 59.4 L105.8 61.5 L111.9 63.5 L118.3 65.5 L125 67.4 L131.9 69.3 L139.1 71.1 L146.5 72.9 L154.1 74.7 L162 76.4 L170.1 78 L178.5 79.7 L187.1 81.3 L195.9 82.8 L204.9 84.4 L214.2 85.8 L223.7 87.3 L233.5 88.7 L243.4 90.1 L253.6 91.5 L264 92.8 L274.6 94.1 L285.5 95.4 L296.6 96.7 L307.8 97.9 L319.3 99.1 L331.1 100.3 L343 101.4 L355.1 102.6 L367.5 103.7 L372.5 319.6 L40 319.6 L40 25.3Z" fill="#afd75e"/>
<path d="M42 25.3 L42.3 25.6 L43.1 26.5 L44.3 27.7 L45.9 29.2 L47.8 31 L50 33 L52.6 35.1 L55.4 37.3 L58.6 39.6 L62.1 41.9 L65.8 44.3 L69.9 46.6 L74.2 49 L78.8 51.3 L83.7 53.6 L88.8 55.8 L94.2 58 L99.8 60.2 L105.8 62.3 L111.9 64.3 L118.3 66.3 L125 68.3 L131.9 70.2 L139.1 72.1 L146.5 74 L154.1 75.7 L162 77.5 L170.1 79.2 L178.5 80.9 L187.1 82.5 L195.9 84.1 L204.9 85.6 L214.2 87.2 L223.7 88.6 L233.5 90.1 L243.4 91.5 L253.6 92.9 L264 94.3 L274.6 95.6 L285.5 96.9 L296.6 98.2 L307.8 99.5 L319.3 100.7 L331.1 101.9 L343 103.1 L355.1 104.3 L367.5 105.4 L372.5 319.6 L40 319.6 L40 25.3Z" fill="#add65e"/>
<path d="M42 25.3 L42.3 25.7 L43.1 26.5 L44.3 27.8 L45.9 29.3 L47.8 31.1 L50 33.1 L52.6 35.3 L55.4 37.6 L58.6 39.9 L62.1 42.3 L65.8 44.7 L69.9 47.1 L74.2 49.5 L78.8 51.8 L83.7 54.2 L88.8 56.4 L94.2 58.7 L99.8 60.9 L105.8 63.1 L111.9 65.2 L118.3 67.2 L125 69.2 L131.9 71.2 L139.1 73.1 L146.5 75 L154.1 76.8 L162 78.6 L170.1 80.3 L178.5 82 L187.1 83.7 L195.9 85.3 L204.9 86.9 L214.2 88.5 L223.7 90 L233.5 91.5 L243.4 92.9 L253.6 94.4 L264 95.7 L274.6 97.1 L285.5 98.5 L296.6 99.8 L307.8 101 L319.3 102.3 L331.1 103.5 L343 104.8 L355.1 105.9 L367.5 107.1 L372.5 319.6 L40 319.6 L40 25.3Z" fill="#abd55e"/>
<path d="M42 25.3 L42.3 25.7 L43.1 26.5 L44.3 27.8 L45.9 29.4 L47.8 31.3 L50 33.3 L52.6 35.5 L55.4 37.8 L58.6 40.2 L62.1 42.6 L65.8 45.1 L69.9 47.5 L74.2 50 L78.8 52.4 L83.7 54.8 L88.8 57.1 L94.2 59.4 L99.8 61.6 L105.8 63.8 L111.9 66 L118.3 68.1 L125 70.1 L131.9 72.2 L139.1 74.1 L146.5 76 L154.1 77.9 L162 79.7 L170.1 81.5 L178.5 83.2 L187.1 84.9 L195.9 86.6 L204.9 88.2 L214.2 89.8 L223.7 91.3 L233.5 92.9 L243.4 94.3 L253.6 95.8 L264 97.2 L274.6 98.6 L285.5 100 L296.6 101.3 L307.8 102.6 L319.3 103.9 L331.1 105.2 L343 106.4 L355.1 107.6 L367.5 108.8 L372.5 319.6 L40 319.6 L40 25.3Z" fill="#a9d45e"/>
<path d="M42 25.3 L42.3 25.7 L43.1 26.6 L44.3 27.9 L45.9 29.5 L47.8 31.4 L50 33.5 L52.6 35.7 L55.4 38.1 L58.6 40.5 L62.1 43 L65.8 45.5 L69.9 48 L74.2 50.5 L78.8 52.9 L83.7 55.4 L88.8 57.7 L94.2 60.1 L99.8 62.4 L105.8 64.6 L111.9 66.8 L118.3 69 L125 71.1 L131.9 73.1 L139.1 75.1 L146.5 77.1 L154.1 79 L162 80.8 L170.1 82.6 L178.5 84.4 L187.1 86.1 L195.9 87.8 L204.9 89.5 L214.2 91.1 L223.7 92.7 L233.5 94.2 L243.4 95.7 L253.6 97.2 L264 98.7 L274.6 100.1 L285.5 101.5 L296.6 102.9 L307.8 104.2 L319.3 105.5 L331.1 106.8 L343 108.1 L355.1 109.3 L367.5 110.5 L372.5 319.6 L40 319.6 L40 25.3Z" fill="#a7d35e"/>
<path d="M42 25.3 L42.3 25.7 L43.1 26.6 L44.3 27.9 L45.9 29.6 L47.8 31.5 L50 33.6 L52.6 35.9 L55.4 38.3 L58.6 40.8 L62.1 43.4 L65.8 45.9 L69.9 48.4 L74.2 51 L78.8 53.5 L83.7 56 L88.8 58.4 L94.2 60.8 L99.8 63.1 L105.8 65.4 L111.9 67.7 L118.3 69.8 L125 72 L131.9 74.1 L139.1 76.1 L146.5 78.1 L154.1 80 L162 81.9 L170.1 83.8 L178.5 85.6 L187.1 87.4 L195.9 89.1 L204.9 90.8 L214.2 92.4 L223.7 94 L233.5 95.6 L243.4 97.2 L253.6 98.7 L264 100.2 L274.6 101.6 L285.5 103 L296.6 104.4 L307.8 105.8 L319.3 107.1 L331.1 108.4 L343 109.7 L355.1 111 L367.5 112.2 L372.5 319.6 L40 319.6 L40 25.3Z" fill="#a5d25e"/>
<path d="M42 25.3 L42.3 25.7 L43.1 26.6 L44.3 28 L45.9 29.7 L47.8 31.6 L50 33.8 L52.6 36.1 L55.4 38.6 L58.6 41.1 L62.1 43.7 L65.8 46.3 L69.9 48.9 L74.2 51.5 L78.8 54 L83.7 56.6 L88.8 59 L94.2 61.5 L99.8 63.9 L105.8 66.2 L111.9 68.5 L118.3 70.7 L125 72.9 L131.9 75 L139.1 77.1 L146.5 79.1 L154.1 81.1 L162 83 L170.1 84.9 L178.5 86.8 L187.1 88.6 L195.9 90.3 L204.9 92.1 L214.2 93.7 L223.7 95.4 L233.5 97 L243.4 98.6 L253.6 100.1 L264 101.6 L274.6 103.1 L285.5 104.5 L296.6 106 L307.8 107.4 L319.3 108.7 L331.1 110.1 L343 111.4 L355.1 112.7 L367.5 113.9 L372.5 319.6 L40 319.6 L40 25.3Z" fill="#a3d15e"/>
<path d="M42 25.3 L42.3 25.7 L43.1 26.6 L44.3 28 L45.9 29.7 L47.8 31.7 L50 34 L52.6 36.4 L55.4 38.9 L58.6 41.4 L62.1 44.1 L65.8 46.7 L69.9 49.4 L74.2 52 L78.8 54.6 L83.7 57.2 L88.8 59.7 L94.2 62.2 L99.8 64.6 L105.8 67 L111.9 69.3 L118.3 71.6 L125 73.8 L131.9 76 L139.1 78.1 L146.5 80.2 L154.1 82.2 L162 84.2 L170.1 86.1 L178.5 88 L187.1 89.8 L195.9 91.6 L204.9 93.3 L214.2 95.1 L223.7 96.7 L233.5 98.4 L243.4 100 L253.6 101.5 L264 103.1 L274.6 104.6 L285.5 106.1 L296.6 107.5 L307.8 108.9 L319.3 110.3 L331.1 111.7 L343 113 L355.1 114.4 L367.5 115.6 L372.5 319.6 L40 319.6 L40 25.3Z" fill="#a1d05e"/>
<path d="M42 25.3 L42.3 25.7 L43.1 26.7 L44.3 28.1 L45.9 29.8 L47.8 31.9 L50 34.1 L52.6 36.6 L55.4 39.1 L58.6 41.7 L62.1 44.4 L65.8 47.1 L69.9 49.8 L74.2 52.5 L78.8 55.1 L83.7 57.8 L88.8 60.3 L94.2 62.9 L99.8 65.3 L105.8 67.8 L111.9 70.1 L118.3 72.5 L125 74.7 L131.9 76.9 L139.1 79.1 L146.5 81.2 L154.1 83.3 L162 85.3 L170.1 87.2 L178.5 89.1 L187.1 91 L195.9 92.8 L204.9 94.6 L214.2 96.4 L223.7 98.1 L233.5 99.7 L243.4 101.4 L253.6 103 L264 104.6 L274.6 106.1 L285.5 107.6 L296.6 109.1 L307.8 110.5 L319.3 111.9 L331.1 113.3 L343 114.7 L355.1 116 L367.5 117.3 L372.5 319.6 L40 319.6 L40 25.3Z" fill="#9fcf5e"/>
<path d="M42 25.3 L42.3 25.7 L43.1 26.7 L44.3 28.1 L45.9 29.9 L47.8 32 L50 34.3 L52.6 36.8 L55.4 39.4 L58.6 42 L62.1 44.8 L65.8 47.5 L69.9 50.3 L74.2 53 L78.8 55.7 L83.7 58.4 L88.8 61 L94.2 63.6 L99.8 66.1 L105.8 68.6 L111.9 71 L118.3 73.3 L125 75.6 L131.9 77.9 L139.1 80.1 L146.5 82.2 L154.1 84.3 L162 86.4 L170.1 88.4 L178.5 90.3 L187.1 92.2 L195.9 94.1 L204.9 95.9 L214.2 97.7 L223.7 99.4 L233.5 101.1 L243.4 102.8 L253.6 104.4 L264 106 L274.6 107.6 L285.5 109.1 L296.6 110.6 L307.8 112.1 L319.3 113.5 L331.1 115 L343 116.3 L355.1 117.7 L367.5 119.1 L372.5 319.6 L40 319.6 L40 25.3Z" fill="#9dce5e"/>
<path d="M42 25.3 L42.3 25.7 L43.1 26.7 L44.3 28.2 L45.9 30 L47.8 32.1 L50 34.5 L52.6 37 L55.4 39.6 L58.6 42.3 L62.1 45.1 L65.8 47.9 L69.9 50.7 L74.2 53.5 L78.8 56.3 L83.7 59 L88.8 61.6 L94.2 64.3 L99.8 66.8 L105.8 69.3 L111.9 71.8 L118.3 74.2 L125 76.6 L131.9 78.8 L139.1 81.1 L146.5 83.3 L154.1 85.4 L162 87.5 L170.1 89.5 L178.5 91.5 L187.1 93.4 L195.9 95.3 L204.9 97.2 L214.2 99 L223.7 100.8 L233.5 102.5 L243.4 104.2 L253.6 105.9 L264 107.5 L274.6 109.1 L285.5 110.6 L296.6 112.2 L307.8 113.7 L319.3 115.1 L331.1 116.6 L343 118 L355.1 119.4 L367.5 120.8 L372.5 319.6 L40 319.6 L40 25.3Z" fill="#9bcd5e"/>
<path d="M42 25.3 L42.3 25.7 L43.1 26.7 L44.3 28.2 L45.9 30.1 L47.8 32.2 L50 34.6 L52.6 37.2 L55.4 39.9 L58.6 42.7 L62.1 45.5 L65.8 48.3 L69.9 51.2 L74.2 54 L78.8 56.8 L83.7 59.6 L88.8 62.3 L94.2 65 L99.8 67.6 L105.8 70.1 L111.9 72.6 L118.3 75.1 L125 77.5 L131.9 79.8 L139.1 82.1 L146.5 84.3 L154.1 86.5 L162 88.6 L170.1 90.7 L178.5 92.7 L187.1 94.7 L195.9 96.6 L204.9 98.5 L214.2 100.3 L223.7 102.1 L233.5 103.9 L243.4 105.6 L253.6 107.3 L264 109 L274.6 110.6 L285.5 112.2 L296.6 113.7 L307.8 115.3 L319.3 116.7 L331.1 118.2 L343 119.7 L355.1 121.1 L367.5 122.5 L372.5 319.6 L40 319.6 L40 25.3Z" fill="#99cc5e"/>
<path d="M42 25.3 L42.3 25.7 L43.1 26.8 L44.3 28.3 L45.9 30.2 L47.8 32.3 L50 34.8 L52.6 37.4 L55.4 40.1 L58.6 43 L62.1 45.8 L65.8 48.7 L69.9 51.6 L74.2 54.5 L78.8 57.4 L83.7 60.2 L88.8 62.9 L94.2 65.7 L99.8 68.3 L105.8 70.9 L111.9 73.5 L118.3 76 L125 78.4 L131.9 80.8 L139.1 83.1 L146.5 85.3 L154.1 87.5 L162 89.7 L170.1 91.8 L178.5 93.9 L187.1 95.9 L195.9 97.8 L204.9 99.8 L214.2 101.6 L223.7 103.5 L233.5 105.3 L243.4 107 L253.6 108.7 L264 110.4 L274.6 112.1 L285.5 113.7 L296.6 115.3 L307.8 116.8 L319.3 118.4 L331.1 119.8 L343 121.3 L355.1 122.8 L367.5 124.2 L372.5 319.6 L40 319.6 L40 25.3Z" fill="#97cb5e"/>
<path d="M42 25.3 L42.3 25.7 L43.1 26.8 L44.3 28.3 L45.9 30.2 L47.8 32.5 L50 34.9 L52.6 37.6 L55.4 40.4 L58.6 43.3 L62.1 46.2 L65.8 49.1 L69.9 52.1 L74.2 55 L78.8 57.9 L83.7 60.8 L88.8 63.6 L94.2 66.3 L99.8 69.1 L105.8 71.7 L111.9 74.3 L118.3 76.8 L125 79.3 L131.9 81.7 L139.1 84.1 L146.5 86.4 L154.1 88.6 L162 90.8 L170.1 93 L178.5 95 L187.1 97.1 L195.9 99.1 L204.9 101 L214.2 102.9 L223.7 104.8 L233.5 106.6 L243.4 108.4 L253.6 110.2 L264 111.9 L274.6 113.6 L285.5 115.2 L296.6 116.8 L307.8 118.4 L319.3 120 L331.1 121.5 L343 123 L355.1 124.4 L367.5 125.9 L372.5 319.6 L40 319.6 L40 25.3Z" fill="#95ca5e"/>
<path d="M42 25.3 L42.3 25.7 L43.1 26.8 L44.3 28.4 L45.9 30.3 L47.8 32.6 L50 35.1 L52.6 37.8 L55.4 40.6 L58.6 43.6 L62.1 46.5 L65.8 49.5 L69.9 52.5 L74.2 55.5 L78.8 58.5 L83.7 61.4 L88.8 64.2 L94.2 67 L99.8 69.8 L105.8 72.5 L111.9 75.1 L118.3 77.7 L125 80.2 L131.9 82.7 L139.1 85.1 L146.5 87.4 L154.1 89.7 L162 91.9 L170.1 94.1 L178.5 96.2 L187.1 98.3 L195.9 100.3 L204.9 102.3 L214.2 104.3 L223.7 106.2 L233.5 108 L243.4 109.8 L253.6 111.6 L264 113.4 L274.6 115.1 L285.5 116.7 L296.6 118.4 L307.8 120 L319.3 121.6 L331.1 123.1 L343 124.6 L355.1 126.1 L367.5 127.6 L372.5 319.6 L40 319.6 L40 25.3Z" fill="#93c95e"/>
<path d="M42 25.3 L42.3 25.7 L43.1 26.8 L44.3 28.4 L45.9 30.4 L47.8 32.7 L50 35.3 L52.6 38 L55.4 40.9 L58.6 43.9 L62.1 46.9 L65.8 49.9 L69.9 53 L74.2 56 L78.8 59 L83.7 62 L88.8 64.9 L94.2 67.7 L99.8 70.5 L105.8 73.3 L111.9 76 L118.3 78.6 L125 81.1 L131.9 83.6 L139.1 86.1 L146.5 88.4 L154.1 90.8 L162 93 L170.1 95.2 L178.5 97.4 L187.1 99.5 L195.9 101.6 L204.9 103.6 L214.2 105.6 L223.7 107.5 L233.5 109.4 L243.4 111.2 L253.6 113.1 L264 114.8 L274.6 116.6 L285.5 118.3 L296.6 119.9 L307.8 121.6 L319.3 123.2 L331.1 124.7 L343 126.3 L355.1 127.8 L367.5 129.3 L372.5 319.6 L40 319.6 L40 25.3Z" fill="#91c85e"/>
<path d="M42 25.3 L42.3 25.8 L43.1 26.9 L44.3 28.5 L45.9 30.5 L47.8 32.8 L50 35.4 L52.6 38.2 L55.4 41.2 L58.6 44.2 L62.1 47.2 L65.8 50.3 L69.9 53.4 L74.2 56.5 L78.8 59.6 L83.7 62.6 L88.8 65.5 L94.2 68.4 L99.8 71.3 L105.8 74.1 L111.9 76.8 L118.3 79.4 L125 82 L131.9 84.6 L139.1 87.1 L146.5 89.5 L154.1 91.8 L162 94.1 L170.1 96.4 L178.5 98.6 L187.1 100.7 L195.9 102.8 L204.9 104.9 L214.2 106.9 L223.7 108.9 L233.5 110.8 L243.4 112.7 L253.6 114.5 L264 116.3 L274.6 118.1 L285.5 119.8 L296.6 121.5 L307.8 123.1 L319.3 124.8 L331.1 126.4 L343 127.9 L355.1 129.5 L367.5 131 L372.5 319.6 L40 319.6 L40 25.3Z" fill="#8fc75e"/>
<path d="M42 25.3 L42.3 25.8 L43.1 26.9 L44.3 28.5 L45.9 30.6 L47.8 33 L50 35.6 L52.6 38.4 L55.4 41.4 L58.6 44.5 L62.1 47.6 L65.8 50.7 L69.9 53.9 L74.2 57 L78.8 60.1 L83.7 63.2 L88.8 66.2 L94.2 69.1 L99.8 72 L105.8 74.9 L111.9 77.6 L118.3 80.3 L125 83 L131.9 85.5 L139.1 88.1 L146.5 90.5 L154.1 92.9 L162 95.3 L170.1 97.5 L178.5 99.8 L187.1 102 L195.9 104.1 L204.9 106.2 L214.2 108.2 L223.7 110.2 L233.5 112.2 L243.4 114.1 L253.6 115.9 L264 117.8 L274.6 119.6 L285.5 121.3 L296.6 123 L307.8 124.7 L319.3 126.4 L331.1 128 L343 129.6 L355.1 131.2 L367.5 132.7 L372.5 319.6 L40 319.6 L40 25.3Z" fill="#8ec65e"/>
<path d="M42 25.3 L42.3 25.8 L43.1 26.9 L44.3 28.6 L45.9 30.7 L47.8 33.1 L50 35.8 L52.6 38.6 L55.4 41.7 L58.6 44.8 L62.1 48 L65.8 51.2 L69.9 54.3 L74.2 57.5 L78.8 60.7 L83.7 63.8 L88.8 66.8 L94.2 69.8 L99.8 72.8 L105.8 75.6 L111.9 78.4 L118.3 81.2 L125 83.9 L131.9 86.5 L139.1 89.1 L146.5 91.5 L154.1 94 L162 96.4 L170.1 98.7 L178.5 101 L187.1 103.2 L195.9 105.3 L204.9 107.5 L214.2 109.5 L223.7 111.6 L233.5 113.5 L243.4 115.5 L253.6 117.4 L264 119.2 L274.6 121.1 L285.5 122.8 L296.6 124.6 L307.8 126.3 L319.3 128 L331.1 129.6 L343 131.2 L355.1 132.8 L367.5 134.4 L372.5 319.6 L40 319.6 L40 25.3Z" fill="#8cc55e"/>
<path d="M42 25.3 L42.3 25.8 L43.1 26.9 L44.3 28.6 L45.9 30.7 L47.8 33.2 L50 35.9 L52.6 38.9 L55.4 41.9 L58.6 45.1 L62.1 48.3 L65.8 51.6 L69.9 54.8 L74.2 58 L78.8 61.2 L83.7 64.4 L88.8 67.5 L94.2 70.5 L99.8 73.5 L105.8 76.4 L111.9 79.3 L118.3 82.1 L125 84.8 L131.9 87.5 L139.1 90 L146.5 92.6 L154.1 95.1 L162 97.5 L170.1 99.8 L178.5 102.1 L187.1 104.4 L195.9 106.6 L204.9 108.7 L214.2 110.8 L223.7 112.9 L233.5 114.9 L243.4 116.9 L253.6 118.8 L264 120.7 L274.6 122.5 L285.5 124.4 L296.6 126.1 L307.8 127.9 L319.3 129.6 L331.1 131.3 L343 132.9 L355.1 134.5 L367.5 136.1 L372.5 319.6 L40 319.6 L40 25.3Z" fill="#8ac45e"/>
<path d="M42 25.3 L42.3 25.8 L43.1 27 L44.3 28.7 L45.9 30.8 L47.8 33.3 L50 36.1 L52.6 39.1 L55.4 42.2 L58.6 45.4 L62.1 48.7 L65.8 52 L69.9 55.3 L74.2 58.5 L78.8 61.8 L83.7 65 L88.8 68.1 L94.2 71.2 L99.8 74.2 L105.8 77.2 L111.9 80.1 L118.3 82.9 L125 85.7 L131.9 88.4 L139.1 91 L146.5 93.6 L154.1 96.1 L162 98.6 L170.1 101 L178.5 103.3 L187.1 105.6 L195.9 107.8 L204.9 110 L214.2 112.2 L223.7 114.3 L233.5 116.3 L243.4 118.3 L253.6 120.3 L264 122.2 L274.6 124 L285.5 125.9 L296.6 127.7 L307.8 129.5 L319.3 131.2 L331.1 132.9 L343 134.6 L355.1 136.2 L367.5 137.8 L372.5 319.6 L40 319.6 L40 25.3Z" fill="#88c35e"/>
<path d="M42 25.3 L42.3 25.8 L43.1 27 L44.3 28.7 L45.9 30.9 L47.8 33.4 L50 36.3 L52.6 39.3 L55.4 42.4 L58.6 45.7 L62.1 49 L65.8 52.4 L69.9 55.7 L74.2 59 L78.8 62.3 L83.7 65.6 L88.8 68.8 L94.2 71.9 L99.8 75 L105.8 78 L111.9 80.9 L118.3 83.8 L125 86.6 L131.9 89.4 L139.1 92 L146.5 94.7 L154.1 97.2 L162 99.7 L170.1 102.1 L178.5 104.5 L187.1 106.8 L195.9 109.1 L204.9 111.3 L214.2 113.5 L223.7 115.6 L233.5 117.7 L243.4 119.7 L253.6 121.7 L264 123.6 L274.6 125.5 L285.5 127.4 L296.6 129.2 L307.8 131 L319.3 132.8 L331.1 134.5 L343 136.2 L355.1 137.9 L367.5 139.5 L372.5 319.6 L40 319.6 L40 25.3Z" fill="#86c25e"/>
<path d="M42 25.3 L42.3 25.8 L43.1 27 L44.3 28.8 L45.9 31 L47.8 33.6 L50 36.4 L52.6 39.5 L55.4 42.7 L58.6 46 L62.1 49.4 L65.8 52.8 L69.9 56.2 L74.2 59.5 L78.8 62.9 L83.7 66.2 L88.8 69.4 L94.2 72.6 L99.8 75.7 L105.8 78.8 L111.9 81.8 L118.3 84.7 L125 87.5 L131.9 90.3 L139.1 93 L146.5 95.7 L154.1 98.3 L162 100.8 L170.1 103.3 L178.5 105.7 L187.1 108 L195.9 110.3 L204.9 112.6 L214.2 114.8 L223.7 116.9 L233.5 119.1 L243.4 121.1 L253.6 123.1 L264 125.1 L274.6 127 L285.5 128.9 L296.6 130.8 L307.8 132.6 L319.3 134.4 L331.1 136.1 L343 137.9 L355.1 139.6 L367.5 141.2 L372.5 319.6 L40 319.6 L40 25.3Z" fill="#84c15e"/>
<path d="M42 25.3 L42.3 25.8 L43.1 27 L44.3 28.8 L45.9 31.1 L47.8 33.7 L50 36.6 L52.6 39.7 L55.4 42.9 L58.6 46.3 L62.1 49.7 L65.8 53.2 L69.9 56.6 L74.2 60 L78.8 63.4 L83.7 66.8 L88.8 70.1 L94.2 73.3 L99.8 76.5 L105.8 79.6 L111.9 82.6 L118.3 85.6 L125 88.5 L131.9 91.3 L139.1 94 L146.5 96.7 L154.1 99.4 L162 101.9 L170.1 104.4 L178.5 106.9 L187.1 109.3 L195.9 111.6 L204.9 113.9 L214.2 116.1 L223.7 118.3 L233.5 120.4 L243.4 122.5 L253.6 124.6 L264 126.6 L274.6 128.5 L285.5 130.5 L296.6 132.3 L307.8 134.2 L319.3 136 L331.1 137.8 L343 139.5 L355.1 141.2 L367.5 142.9 L372.5 319.6 L40 319.6 L40 25.3Z" fill="#82c05e"/>
<path d="M42 25.3 L42.3 25.8 L43.1 27.1 L44.3 28.9 L45.9 31.2 L47.8 33.8 L50 36.7 L52.6 39.9 L55.4 43.2 L58.6 46.6 L62.1 50.1 L65.8 53.6 L69.9 57.1 L74.2 60.6 L78.8 64 L83.7 67.4 L88.8 70.7 L94.2 74 L99.8 77.2 L105.8 80.4 L111.9 83.4 L118.3 86.4 L125 89.4 L131.9 92.2 L139.1 95 L146.5 97.8 L154.1 100.4 L162 103 L170.1 105.6 L178.5 108.1 L187.1 110.5 L195.9 112.8 L204.9 115.2 L214.2 117.4 L223.7 119.6 L233.5 121.8 L243.4 123.9 L253.6 126 L264 128 L274.6 130 L285.5 132 L296.6 133.9 L307.8 135.8 L319.3 137.6 L331.1 139.4 L343 141.2 L355.1 142.9 L367.5 144.6 L372.5 319.6 L40 319.6 L40 25.3Z" fill="#80bf5e"/>
<path d="M42 25.3 L42.3 25.8 L43.1 27.1 L44.3 28.9 L45.9 31.2 L47.8 33.9 L50 36.9 L52.6 40.1 L55.4 43.5 L58.6 46.9 L62.1 50.4 L65.8 54 L69.9 57.5 L74.2 61.1 L78.8 64.5 L83.7 68 L88.8 71.4 L94.2 74.7 L99.8 78 L105.8 81.1 L111.9 84.3 L118.3 87.3 L125 90.3 L131.9 93.2 L139.1 96 L146.5 98.8 L154.1 101.5 L162 104.1 L170.1 106.7 L178.5 109.2 L187.1 111.7 L195.9 114.1 L204.9 116.4 L214.2 118.7 L223.7 121 L233.5 123.2 L243.4 125.3 L253.6 127.4 L264 129.5 L274.6 131.5 L285.5 133.5 L296.6 135.4 L307.8 137.3 L319.3 139.2 L331.1 141 L343 142.8 L355.1 144.6 L367.5 146.3 L372.5 319.6 L40 319.6 L40 25.3Z" fill="#7ebf5e"/>
<path d="M42 25.3 L42.3 25.8 L43.1 27.1 L44.3 29 L45.9 31.3 L47.8 34.1 L50 37.1 L52.6 40.3 L55.4 43.7 L58.6 47.2 L62.1 50.8 L65.8 54.4 L69.9 58 L74.2 61.6 L78.8 65.1 L83.7 68.6 L88.8 72 L94.2 75.4 L99.8 78.7 L105.8 81.9 L111.9 85.1 L118.3 88.2 L125 91.2 L131.9 94.1 L139.1 97 L146.5 99.8 L154.1 102.6 L162 105.2 L170.1 107.9 L178.5 110.4 L187.1 112.9 L195.9 115.3 L204.9 117.7 L214.2 120.1 L223.7 122.3 L233.5 124.6 L243.4 126.7 L253.6 128.9 L264 131 L274.6 133 L285.5 135 L296.6 137 L307.8 138.9 L319.3 140.8 L331.1 142.7 L343 144.5 L355.1 146.3 L367.5 148 L372.5 319.6 L40 319.6 L40 25.3Z" fill="#7cbe5e"/>
<path d="M42 25.3 L42.3 25.8 L43.1 27.1 L44.3 29 L45.9 31.4 L47.8 34.2 L50 37.2 L52.6 40.5 L55.4 44 L58.6 47.5 L62.1 51.1 L65.8 54.8 L69.9 58.4 L74.2 62.1 L78.8 65.6 L83.7 69.2 L88.8 72.7 L94.2 76.1 L99.8 79.4 L105.8 82.7 L111.9 85.9 L118.3 89.1 L125 92.1 L131.9 95.1 L139.1 98 L146.5 100.9 L154.1 103.6 L162 106.4 L170.1 109 L178.5 111.6 L187.1 114.1 L195.9 116.6 L204.9 119 L214.2 121.4 L223.7 123.7 L233.5 125.9 L243.4 128.2 L253.6 130.3 L264 132.4 L274.6 134.5 L285.5 136.6 L296.6 138.5 L307.8 140.5 L319.3 142.4 L331.1 144.3 L343 146.1 L355.1 148 L367.5 149.7 L372.5 319.6 L40 319.6 L40 25.3Z" fill="#7abd5e"/>
<path d="M42 25.3 L42.3 25.8 L43.1 27.2 L44.3 29.1 L45.9 31.5 L47.8 34.3 L50 37.4 L52.6 40.7 L55.4 44.2 L58.6 47.8 L62.1 51.5 L65.8 55.2 L69.9 58.9 L74.2 62.6 L78.8 66.2 L83.7 69.8 L88.8 73.3 L94.2 76.8 L99.8 80.2 L105.8 83.5 L111.9 86.8 L118.3 89.9 L125 93 L131.9 96.1 L139.1 99 L146.5 101.9 L154.1 104.7 L162 107.5 L170.1 110.2 L178.5 112.8 L187.1 115.3 L195.9 117.8 L204.9 120.3 L214.2 122.7 L223.7 125 L233.5 127.3 L243.4 129.6 L253.6 131.8 L264 133.9 L274.6 136 L285.5 138.1 L296.6 140.1 L307.8 142.1 L319.3 144 L331.1 145.9 L343 147.8 L355.1 149.6 L367.5 151.4 L372.5 319.6 L40 319.6 L40 25.3Z" fill="#78bc5e"/>
<path d="M42 25.3 L42.3 25.8 L43.1 27.2 L44.3 29.1 L45.9 31.6 L47.8 34.4 L50 37.6 L52.6 40.9 L55.4 44.5 L58.6 48.1 L62.1 51.9 L65.8 55.6 L69.9 59.3 L74.2 63.1 L78.8 66.8 L83.7 70.4 L88.8 74 L94.2 77.5 L99.8 80.9 L105.8 84.3 L111.9 87.6 L118.3 90.8 L125 93.9 L131.9 97 L139.1 100 L146.5 102.9 L154.1 105.8 L162 108.6 L170.1 111.3 L178.5 114 L187.1 116.6 L195.9 119.1 L204.9 121.6 L214.2 124 L223.7 126.4 L233.5 128.7 L243.4 131 L253.6 133.2 L264 135.4 L274.6 137.5 L285.5 139.6 L296.6 141.6 L307.8 143.7 L319.3 145.6 L331.1 147.6 L343 149.5 L355.1 151.3 L367.5 153.1 L372.5 319.6 L40 319.6 L40 25.3Z" fill="#76bb5e"/>
<path d="M42 25.3 L42.3 25.9 L43.1 27.2 L44.3 29.2 L45.9 31.7 L47.8 34.5 L50 37.7 L52.6 41.1 L55.4 44.7 L58.6 48.4 L62.1 52.2 L65.8 56 L69.9 59.8 L74.2 63.6 L78.8 67.3 L83.7 71 L88.8 74.6 L94.2 78.2 L99.8 81.7 L105.8 85.1 L111.9 88.4 L118.3 91.7 L125 94.9 L131.9 98 L139.1 101 L146.5 104 L154.1 106.9 L162 109.7 L170.1 112.4 L178.5 115.1 L187.1 117.8 L195.9 120.3 L204.9 122.9 L214.2 125.3 L223.7 127.7 L233.5 130.1 L243.4 132.4 L253.6 134.6 L264 136.8 L274.6 139 L285.5 141.1 L296.6 143.2 L307.8 145.2 L319.3 147.2 L331.1 149.2 L343 151.1 L355.1 153 L367.5 154.8 L372.5 319.6 L40 319.6 L40 25.3Z" fill="#74ba5e"/>
<path d="M42 25.3 L42.3 25.9 L43.1 27.2 L44.3 29.2 L45.9 31.7 L47.8 34.7 L50 37.9 L52.6 41.4 L55.4 45 L58.6 48.7 L62.1 52.6 L65.8 56.4 L69.9 60.3 L74.2 64.1 L78.8 67.9 L83.7 71.6 L88.8 75.3 L94.2 78.9 L99.8 82.4 L105.8 85.9 L111.9 89.2 L118.3 92.5 L125 95.8 L131.9 98.9 L139.1 102 L146.5 105 L154.1 107.9 L162 110.8 L170.1 113.6 L178.5 116.3 L187.1 119 L195.9 121.6 L204.9 124.1 L214.2 126.6 L223.7 129.1 L233.5 131.5 L243.4 133.8 L253.6 136.1 L264 138.3 L274.6 140.5 L285.5 142.6 L296.6 144.7 L307.8 146.8 L319.3 148.8 L331.1 150.8 L343 152.8 L355.1 154.7 L367.5 156.6 L372.5 319.6 L40 319.6 L40 25.3Z" fill="#72b95e"/>
<path d="M42 25.3 L42.3 25.9 L43.1 27.3 L44.3 29.3 L45.9 31.8 L47.8 34.8 L50 38.1 L52.6 41.6 L55.4 45.3 L58.6 49 L62.1 52.9 L65.8 56.8 L69.9 60.7 L74.2 64.6 L78.8 68.4 L83.7 72.2 L88.8 75.9 L94.2 79.6 L99.8 83.1 L105.8 86.6 L111.9 90.1 L118.3 93.4 L125 96.7 L131.9 99.9 L139.1 103 L146.5 106 L154.1 109 L162 111.9 L170.1 114.7 L178.5 117.5 L187.1 120.2 L195.9 122.9 L204.9 125.4 L214.2 128 L223.7 130.4 L233.5 132.8 L243.4 135.2 L253.6 137.5 L264 139.8 L274.6 142 L285.5 144.2 L296.6 146.3 L307.8 148.4 L319.3 150.4 L331.1 152.4 L343 154.4 L355.1 156.4 L367.5 158.3 L372.5 319.6 L40 319.6 L40 25.3Z" fill="#70b85e"/>
<path d="M42 25.3 L42.3 25.9 L43.1 27.3 L44.3 29.3 L45.9 31.9 L47.8 34.9 L50 38.2 L52.6 41.8 L55.4 45.5 L58.6 49.4 L62.1 53.3 L65.8 57.2 L69.9 61.2 L74.2 65.1 L78.8 69 L83.7 72.8 L88.8 76.6 L94.2 80.3 L99.8 83.9 L105.8 87.4 L111.9 90.9 L118.3 94.3 L125 97.6 L131.9 100.8 L139.1 104 L146.5 107.1 L154.1 110.1 L162 113 L170.1 115.9 L178.5 118.7 L187.1 121.4 L195.9 124.1 L204.9 126.7 L214.2 129.3 L223.7 131.8 L233.5 134.2 L243.4 136.6 L253.6 139 L264 141.2 L274.6 143.5 L285.5 145.7 L296.6 147.9 L307.8 150 L319.3 152 L331.1 154.1 L343 156.1 L355.1 158 L367.5 160 L372.5 319.6 L40 319.6 L40 25.3Z" fill="#6fb75e"/>
<path d="M42 25.3 L42.3 25.9 L43.1 27.3 L44.3 29.4 L45.9 32 L47.8 35 L50 38.4 L52.6 42 L55.4 45.8 L58.6 49.7 L62.1 53.6 L65.8 57.6 L69.9 61.6 L74.2 65.6 L78.8 69.5 L83.7 73.4 L88.8 77.2 L94.2 81 L99.8 84.6 L105.8 88.2 L111.9 91.7 L118.3 95.2 L125 98.5 L131.9 101.8 L139.1 105 L146.5 108.1 L154.1 111.2 L162 114.1 L170.1 117 L178.5 119.9 L187.1 122.6 L195.9 125.4 L204.9 128 L214.2 130.6 L223.7 133.1 L233.5 135.6 L243.4 138 L253.6 140.4 L264 142.7 L274.6 145 L285.5 147.2 L296.6 149.4 L307.8 151.5 L319.3 153.6 L331.1 155.7 L343 157.7 L355.1 159.7 L367.5 161.7 L372.5 319.6 L40 319.6 L40 25.3Z" fill="#6db65e"/>
<path d="M42 25.3 L42.3 25.9 L43.1 27.3 L44.3 29.4 L45.9 32.1 L47.8 35.1 L50 38.5 L52.6 42.2 L55.4 46 L58.6 50 L62.1 54 L65.8 58 L69.9 62.1 L74.2 66.1 L78.8 70.1 L83.7 74 L88.8 77.9 L94.2 81.7 L99.8 85.4 L105.8 89 L111.9 92.6 L118.3 96 L125 99.4 L131.9 102.7 L139.1 106 L146.5 109.1 L154.1 112.2 L162 115.2 L170.1 118.2 L178.5 121.1 L187.1 123.9 L195.9 126.6 L204.9 129.3 L214.2 131.9 L223.7 134.5 L233.5 137 L243.4 139.4 L253.6 141.8 L264 144.2 L274.6 146.5 L285.5 148.7 L296.6 151 L307.8 153.1 L319.3 155.3 L331.1 157.3 L343 159.4 L355.1 161.4 L367.5 163.4 L372.5 319.6 L40 319.6 L40 25.3Z" fill="#6bb55e"/>
<path d="M42 25.3 L42.3 25.9 L43.1 27.4 L44.3 29.5 L45.9 32.2 L47.8 35.3 L50 38.7 L52.6 42.4 L55.4 46.3 L58.6 50.3 L62.1 54.3 L65.8 58.4 L69.9 62.5 L74.2 66.6 L78.8 70.6 L83.7 74.6 L88.8 78.5 L94.2 82.4 L99.8 86.1 L105.8 89.8 L111.9 93.4 L118.3 96.9 L125 100.3 L131.9 103.7 L139.1 107 L146.5 110.2 L154.1 113.3 L162 116.4 L170.1 119.3 L178.5 122.2 L187.1 125.1 L195.9 127.9 L204.9 130.6 L214.2 133.2 L223.7 135.8 L233.5 138.4 L243.4 140.8 L253.6 143.3 L264 145.6 L274.6 148 L285.5 150.3 L296.6 152.5 L307.8 154.7 L319.3 156.9 L331.1 159 L343 161 L355.1 163.1 L367.5 165.1 L372.5 319.6 L40 319.6 L40 25.3Z" fill="#69b45e"/>
<path d="M42 25.3 L42.3 25.9 L43.1 27.4 L44.3 29.5 L45.9 32.2 L47.8 35.4 L50 38.9 L52.6 42.6 L55.4 46.5 L58.6 50.6 L62.1 54.7 L65.8 58.8 L69.9 63 L74.2 67.1 L78.8 71.2 L83.7 75.2 L88.8 79.2 L94.2 83 L99.8 86.9 L105.8 90.6 L111.9 94.2 L118.3 97.8 L125 101.3 L131.9 104.7 L139.1 108 L146.5 111.2 L154.1 114.4 L162 117.5 L170.1 120.5 L178.5 123.4 L187.1 126.3 L195.9 129.1 L204.9 131.9 L214.2 134.5 L223.7 137.2 L233.5 139.7 L243.4 142.2 L253.6 144.7 L264 147.1 L274.6 149.5 L285.5 151.8 L296.6 154.1 L307.8 156.3 L319.3 158.5 L331.1 160.6 L343 162.7 L355.1 164.8 L367.5 166.8 L372.5 319.6 L40 319.6 L40 25.3Z" fill="#67b35e"/>
<path d="M42 25.3 L42.3 25.9 L43.1 27.4 L44.3 29.6 L45.9 32.3 L47.8 35.5 L50 39 L52.6 42.8 L55.4 46.8 L58.6 50.9 L62.1 55 L65.8 59.2 L69.9 63.4 L74.2 67.6 L78.8 71.7 L83.7 75.8 L88.8 79.8 L94.2 83.7 L99.8 87.6 L105.8 91.4 L111.9 95.1 L118.3 98.7 L125 102.2 L131.9 105.6 L139.1 109 L146.5 112.3 L154.1 115.4 L162 118.6 L170.1 121.6 L178.5 124.6 L187.1 127.5 L195.9 130.4 L204.9 133.1 L214.2 135.9 L223.7 138.5 L233.5 141.1 L243.4 143.7 L253.6 146.1 L264 148.6 L274.6 151 L285.5 153.3 L296.6 155.6 L307.8 157.9 L319.3 160.1 L331.1 162.2 L343 164.4 L355.1 166.4 L367.5 168.5 L372.5 319.6 L40 319.6 L40 25.3Z" fill="#65b25e"/>
<path d="M42 25.3 L42.3 25.9 L43.1 27.4 L44.3 29.6 L45.9 32.4 L47.8 35.6 L50 39.2 L52.6 43 L55.4 47 L58.6 51.2 L62.1 55.4 L65.8 59.6 L69.9 63.9 L74.2 68.1 L78.8 72.3 L83.7 76.4 L88.8 80.5 L94.2 84.4 L99.8 88.3 L105.8 92.2 L111.9 95.9 L118.3 99.5 L125 103.1 L131.9 106.6 L139.1 110 L146.5 113.3 L154.1 116.5 L162 119.7 L170.1 122.8 L178.5 125.8 L187.1 128.7 L195.9 131.6 L204.9 134.4 L214.2 137.2 L223.7 139.9 L233.5 142.5 L243.4 145.1 L253.6 147.6 L264 150.1 L274.6 152.5 L285.5 154.8 L296.6 157.2 L307.8 159.4 L319.3 161.7 L331.1 163.9 L343 166 L355.1 168.1 L367.5 170.2 L372.5 319.6 L40 319.6 L40 25.3Z" fill="#63b15e"/>
<path d="M42 25.3 L42.3 25.9 L43.1 27.5 L44.3 29.7 L45.9 32.5 L47.8 35.8 L50 39.4 L52.6 43.2 L55.4 47.3 L58.6 51.5 L62.1 55.7 L65.8 60 L69.9 64.3 L74.2 68.6 L78.8 72.8 L83.7 77 L88.8 81.1 L94.2 85.1 L99.8 89.1 L105.8 92.9 L111.9 96.7 L118.3 100.4 L125 104 L131.9 107.5 L139.1 111 L146.5 114.3 L154.1 117.6 L162 120.8 L170.1 123.9 L178.5 127 L187.1 129.9 L195.9 132.9 L204.9 135.7 L214.2 138.5 L223.7 141.2 L233.5 143.9 L243.4 146.5 L253.6 149 L264 151.5 L274.6 154 L285.5 156.4 L296.6 158.7 L307.8 161 L319.3 163.3 L331.1 165.5 L343 167.7 L355.1 169.8 L367.5 171.9 L372.5 319.6 L40 319.6 L40 25.3Z" fill="#61b05e"/>
<path d="M42 25.3 L42.3 25.9 L43.1 27.5 L44.3 29.7 L45.9 32.6 L47.8 35.9 L50 39.5 L52.6 43.4 L55.4 47.6 L58.6 51.8 L62.1 56.1 L65.8 60.4 L69.9 64.8 L74.2 69.1 L78.8 73.4 L83.7 77.6 L88.8 81.8 L94.2 85.8 L99.8 89.8 L105.8 93.7 L111.9 97.5 L118.3 101.3 L125 104.9 L131.9 108.5 L139.1 112 L146.5 115.4 L154.1 118.7 L162 121.9 L170.1 125.1 L178.5 128.1 L187.1 131.2 L195.9 134.1 L204.9 137 L214.2 139.8 L223.7 142.6 L233.5 145.2 L243.4 147.9 L253.6 150.5 L264 153 L274.6 155.5 L285.5 157.9 L296.6 160.3 L307.8 162.6 L319.3 164.9 L331.1 167.1 L343 169.3 L355.1 171.5 L367.5 173.6 L372.5 319.6 L40 319.6 L40 25.3Z" fill="#5faf5e"/>
<path d="M42 25.3 L42.3 25.9 L43.1 27.5 L44.3 29.8 L45.9 32.7 L47.8 36 L50 39.7 L52.6 43.7 L55.4 47.8 L58.6 52.1 L62.1 56.5 L65.8 60.8 L69.9 65.2 L74.2 69.6 L78.8 73.9 L83.7 78.2 L88.8 82.4 L94.2 86.5 L99.8 90.6 L105.8 94.5 L111.9 98.4 L118.3 102.2 L125 105.8 L131.9 109.4 L139.1 113 L146.5 116.4 L154.1 119.7 L162 123 L170.1 126.2 L178.5 129.3 L187.1 132.4 L195.9 135.4 L204.9 138.3 L214.2 141.1 L223.7 143.9 L233.5 146.6 L243.4 149.3 L253.6 151.9 L264 154.5 L274.6 157 L285.5 159.4 L296.6 161.8 L307.8 164.2 L319.3 166.5 L331.1 168.7 L343 171 L355.1 173.2 L367.5 175.3 L372.5 319.6 L40 319.6 L40 25.3Z" fill="#5dae5e"/>
<path d="M42 25.3 L42.3 25.9 L43.1 27.5 L44.3 29.8 L45.9 32.7 L47.8 36.1 L50 39.9 L52.6 43.9 L55.4 48.1 L58.6 52.4 L62.1 56.8 L65.8 61.3 L69.9 65.7 L74.2 70.1 L78.8 74.5 L83.7 78.8 L88.8 83.1 L94.2 87.2 L99.8 91.3 L105.8 95.3 L111.9 99.2 L118.3 103 L125 106.8 L131.9 110.4 L139.1 114 L146.5 117.4 L154.1 120.8 L162 124.1 L170.1 127.4 L178.5 130.5 L187.1 133.6 L195.9 136.6 L204.9 139.6 L214.2 142.4 L223.7 145.2 L233.5 148 L243.4 150.7 L253.6 153.3 L264 155.9 L274.6 158.5 L285.5 160.9 L296.6 163.4 L307.8 165.7 L319.3 168.1 L331.1 170.4 L343 172.6 L355.1 174.8 L367.5 177 L372.5 319.6 L40 319.6 L40 25.3Z" fill="#5bad5e"/>
<path d="M42 25.3 L42.3 26 L43.1 27.6 L44.3 29.9 L45.9 32.8 L47.8 36.2 L50 40 L52.6 44.1 L55.4 48.3 L58.6 52.7 L62.1 57.2 L65.8 61.7 L69.9 66.2 L74.2 70.6 L78.8 75 L83.7 79.4 L88.8 83.7 L94.2 87.9 L99.8 92 L105.8 96.1 L111.9 100 L118.3 103.9 L125 107.7 L131.9 111.4 L139.1 115 L146.5 118.5 L154.1 121.9 L162 125.2 L170.1 128.5 L178.5 131.7 L187.1 134.8 L195.9 137.9 L204.9 140.8 L214.2 143.7 L223.7 146.6 L233.5 149.4 L243.4 152.1 L253.6 154.8 L264 157.4 L274.6 160 L285.5 162.5 L296.6 164.9 L307.8 167.3 L319.3 169.7 L331.1 172 L343 174.3 L355.1 176.5 L367.5 178.7 L372.5 319.6 L40 319.6 L40 25.3Z" fill="#59ac5e"/>
<path d="M42 25.3 L42.3 26 L43.1 27.6 L44.3 29.9 L45.9 32.9 L47.8 36.4 L50 40.2 L52.6 44.3 L55.4 48.6 L58.6 53 L62.1 57.5 L65.8 62.1 L69.9 66.6 L74.2 71.1 L78.8 75.6 L83.7 80 L88.8 84.4 L94.2 88.6 L99.8 92.8 L105.8 96.9 L111.9 100.9 L118.3 104.8 L125 108.6 L131.9 112.3 L139.1 115.9 L146.5 119.5 L154.1 123 L162 126.3 L170.1 129.6 L178.5 132.9 L187.1 136 L195.9 139.1 L204.9 142.1 L214.2 145.1 L223.7 147.9 L233.5 150.8 L243.4 153.5 L253.6 156.2 L264 158.9 L274.6 161.4 L285.5 164 L296.6 166.5 L307.8 168.9 L319.3 171.3 L331.1 173.6 L343 175.9 L355.1 178.2 L367.5 180.4 L372.5 319.6 L40 319.6 L40 25.3Z" fill="#57ab5e"/>
<path d="M42 25.3 L42.3 26 L43.1 27.6 L44.3 30 L45.9 33 L47.8 36.5 L50 40.3 L52.6 44.5 L55.4 48.8 L58.6 53.3 L62.1 57.9 L65.8 62.5 L69.9 67.1 L74.2 71.6 L78.8 76.2 L83.7 80.6 L88.8 85 L94.2 89.3 L99.8 93.5 L105.8 97.7 L111.9 101.7 L118.3 105.6 L125 109.5 L131.9 113.3 L139.1 116.9 L146.5 120.5 L154.1 124 L162 127.5 L170.1 130.8 L178.5 134.1 L187.1 137.2 L195.9 140.4 L204.9 143.4 L214.2 146.4 L223.7 149.3 L233.5 152.1 L243.4 154.9 L253.6 157.7 L264 160.3 L274.6 162.9 L285.5 165.5 L296.6 168 L307.8 170.5 L319.3 172.9 L331.1 175.3 L343 177.6 L355.1 179.9 L367.5 182.1 L372.5 319.6 L40 319.6 L40 25.3Z" fill="#55aa5e"/>
<path d="M42 25.3 L42.3 26 L43.1 27.6 L44.3 30 L45.9 33.1 L47.8 36.6 L50 40.5 L52.6 44.7 L55.4 49.1 L58.6 53.6 L62.1 58.2 L65.8 62.9 L69.9 67.5 L74.2 72.1 L78.8 76.7 L83.7 81.2 L88.8 85.6 L94.2 90 L99.8 94.3 L105.8 98.4 L111.9 102.5 L118.3 106.5 L125 110.4 L131.9 114.2 L139.1 117.9 L146.5 121.6 L154.1 125.1 L162 128.6 L170.1 131.9 L178.5 135.2 L187.1 138.5 L195.9 141.6 L204.9 144.7 L214.2 147.7 L223.7 150.6 L233.5 153.5 L243.4 156.3 L253.6 159.1 L264 161.8 L274.6 164.4 L285.5 167 L296.6 169.6 L307.8 172.1 L319.3 174.5 L331.1 176.9 L343 179.2 L355.1 181.6 L367.5 183.8 L372.5 319.6 L40 319.6 L40 25.3Z" fill="#53a95e"/>
<path d="M42 25.3 L42.3 26 L43.1 27.7 L44.3 30.1 L45.9 33.2 L47.8 36.7 L50 40.7 L52.6 44.9 L55.4 49.3 L58.6 53.9 L62.1 58.6 L65.8 63.3 L69.9 68 L74.2 72.6 L78.8 77.3 L83.7 81.8 L88.8 86.3 L94.2 90.7 L99.8 95 L105.8 99.2 L111.9 103.4 L118.3 107.4 L125 111.3 L131.9 115.2 L139.1 118.9 L146.5 122.6 L154.1 126.2 L162 129.7 L170.1 133.1 L178.5 136.4 L187.1 139.7 L195.9 142.9 L204.9 146 L214.2 149 L223.7 152 L233.5 154.9 L243.4 157.7 L253.6 160.5 L264 163.3 L274.6 165.9 L285.5 168.6 L296.6 171.1 L307.8 173.6 L319.3 176.1 L331.1 178.5 L343 180.9 L355.1 183.2 L367.5 185.5 L372.5 319.6 L40 319.6 L40 25.3Z" fill="#51a85e"/>
<path d="M42 25.3 L42.3 26 L43.1 27.7 L44.3 30.2 L45.9 33.2 L47.8 36.8 L50 40.8 L52.6 45.1 L55.4 49.6 L58.6 54.2 L62.1 58.9 L65.8 63.7 L69.9 68.4 L74.2 73.1 L78.8 77.8 L83.7 82.4 L88.8 86.9 L94.2 91.4 L99.8 95.8 L105.8 100 L111.9 104.2 L118.3 108.3 L125 112.2 L131.9 116.1 L139.1 119.9 L146.5 123.6 L154.1 127.3 L162 130.8 L170.1 134.2 L178.5 137.6 L187.1 140.9 L195.9 144.1 L204.9 147.3 L214.2 150.3 L223.7 153.3 L233.5 156.3 L243.4 159.2 L253.6 162 L264 164.7 L274.6 167.4 L285.5 170.1 L296.6 172.7 L307.8 175.2 L319.3 177.7 L331.1 180.2 L343 182.6 L355.1 184.9 L367.5 187.2 L372.5 319.6 L40 319.6 L40 25.3Z" fill="#50a75e"/>
<path d="M42 25.3 L42.3 26 L43.1 27.7 L44.3 30.2 L45.9 33.3 L47.8 37 L50 41 L52.6 45.3 L55.4 49.9 L58.6 54.5 L62.1 59.3 L65.8 64.1 L69.9 68.9 L74.2 73.6 L78.8 78.4 L83.7 83 L88.8 87.6 L94.2 92.1 L99.8 96.5 L105.8 100.8 L111.9 105 L118.3 109.1 L125 113.2 L131.9 117.1 L139.1 120.9 L146.5 124.7 L154.1 128.3 L162 131.9 L170.1 135.4 L178.5 138.8 L187.1 142.1 L195.9 145.4 L204.9 148.5 L214.2 151.6 L223.7 154.7 L233.5 157.7 L243.4 160.6 L253.6 163.4 L264 166.2 L274.6 168.9 L285.5 171.6 L296.6 174.2 L307.8 176.8 L319.3 179.3 L331.1 181.8 L343 184.2 L355.1 186.6 L367.5 188.9 L372.5 319.6 L40 319.6 L40 25.3Z" fill="#4ea65e"/>
<path d="M42 25.3 L42.3 26 L43.1 27.7 L44.3 30.3 L45.9 33.4 L47.8 37.1 L50 41.2 L52.6 45.5 L55.4 50.1 L58.6 54.8 L62.1 59.6 L65.8 64.5 L69.9 69.3 L74.2 74.1 L78.8 78.9 L83.7 83.6 L88.8 88.2 L94.2 92.8 L99.8 97.2 L105.8 101.6 L111.9 105.9 L118.3 110 L125 114.1 L131.9 118 L139.1 121.9 L146.5 125.7 L154.1 129.4 L162 133 L170.1 136.5 L178.5 140 L187.1 143.3 L195.9 146.6 L204.9 149.8 L214.2 153 L223.7 156 L233.5 159 L243.4 162 L253.6 164.8 L264 167.7 L274.6 170.4 L285.5 173.1 L296.6 175.8 L307.8 178.4 L319.3 180.9 L331.1 183.4 L343 185.9 L355.1 188.3 L367.5 190.6 L372.5 319.6 L40 319.6 L40 25.3Z" fill="#4ca55e"/>
<path d="M42 25.3 L42.3 26 L43.1 27.8 L44.3 30.3 L45.9 33.5 L47.8 37.2 L50 41.3 L52.6 45.7 L55.4 50.4 L58.6 55.1 L62.1 60 L65.8 64.9 L69.9 69.8 L74.2 74.7 L78.8 79.5 L83.7 84.2 L88.8 88.9 L94.2 93.5 L99.8 98 L105.8 102.4 L111.9 106.7 L118.3 110.9 L125 115 L131.9 119 L139.1 122.9 L146.5 126.7 L154.1 130.5 L162 134.1 L170.1 137.7 L178.5 141.2 L187.1 144.5 L195.9 147.9 L204.9 151.1 L214.2 154.3 L223.7 157.4 L233.5 160.4 L243.4 163.4 L253.6 166.3 L264 169.1 L274.6 171.9 L285.5 174.7 L296.6 177.3 L307.8 180 L319.3 182.5 L331.1 185 L343 187.5 L355.1 190 L367.5 192.3 L372.5 319.6 L40 319.6 L40 25.3Z" fill="#4aa45e"/>
<path d="M42 25.3 L42.3 26 L43.1 27.8 L44.3 30.4 L45.9 33.6 L47.8 37.3 L50 41.5 L52.6 45.9 L55.4 50.6 L58.6 55.4 L62.1 60.3 L65.8 65.3 L69.9 70.2 L74.2 75.2 L78.8 80 L83.7 84.8 L88.8 89.5 L94.2 94.2 L99.8 98.7 L105.8 103.2 L111.9 107.5 L118.3 111.8 L125 115.9 L131.9 120 L139.1 123.9 L146.5 127.8 L154.1 131.5 L162 135.2 L170.1 138.8 L178.5 142.3 L187.1 145.8 L195.9 149.1 L204.9 152.4 L214.2 155.6 L223.7 158.7 L233.5 161.8 L243.4 164.8 L253.6 167.7 L264 170.6 L274.6 173.4 L285.5 176.2 L296.6 178.9 L307.8 181.5 L319.3 184.1 L331.1 186.7 L343 189.2 L355.1 191.6 L367.5 194.1 L372.5 319.6 L40 319.6 L40 25.3Z" fill="#48a35e"/>
<path d="M42 25.3 L42.3 26 L43.1 27.8 L44.3 30.4 L45.9 33.7 L47.8 37.5 L50 41.7 L52.6 46.2 L55.4 50.9 L58.6 55.7 L62.1 60.7 L65.8 65.7 L69.9 70.7 L74.2 75.7 L78.8 80.6 L83.7 85.4 L88.8 90.2 L94.2 94.9 L99.8 99.5 L105.8 104 L111.9 108.3 L118.3 112.6 L125 116.8 L131.9 120.9 L139.1 124.9 L146.5 128.8 L154.1 132.6 L162 136.3 L170.1 140 L178.5 143.5 L187.1 147 L195.9 150.4 L204.9 153.7 L214.2 156.9 L223.7 160.1 L233.5 163.2 L243.4 166.2 L253.6 169.2 L264 172.1 L274.6 174.9 L285.5 177.7 L296.6 180.4 L307.8 183.1 L319.3 185.7 L331.1 188.3 L343 190.8 L355.1 193.3 L367.5 195.8 L372.5 319.6 L40 319.6 L40 25.3Z" fill="#46a25e"/>
<path d="M42 25.3 L42.3 26 L43.1 27.8 L44.3 30.5 L45.9 33.8 L47.8 37.6 L50 41.8 L52.6 46.4 L55.4 51.1 L58.6 56.1 L62.1 61.1 L65.8 66.1 L69.9 71.1 L74.2 76.2 L78.8 81.1 L83.7 86 L88.8 90.8 L94.2 95.6 L99.8 100.2 L105.8 104.7 L111.9 109.2 L118.3 113.5 L125 117.7 L131.9 121.9 L139.1 125.9 L146.5 129.8 L154.1 133.7 L162 137.4 L170.1 141.1 L178.5 144.7 L187.1 148.2 L195.9 151.6 L204.9 155 L214.2 158.2 L223.7 161.4 L233.5 164.5 L243.4 167.6 L253.6 170.6 L264 173.5 L274.6 176.4 L285.5 179.2 L296.6 182 L307.8 184.7 L319.3 187.3 L331.1 189.9 L343 192.5 L355.1 195 L367.5 197.5 L372.5 319.6 L40 319.6 L40 25.3Z" fill="#44a15e"/>
<path d="M42 25.3 L42.3 26 L43.1 27.9 L44.3 30.5 L45.9 33.8 L47.8 37.7 L50 42 L52.6 46.6 L55.4 51.4 L58.6 56.4 L62.1 61.4 L65.8 66.5 L69.9 71.6 L74.2 76.7 L78.8 81.7 L83.7 86.6 L88.8 91.5 L94.2 96.3 L99.8 100.9 L105.8 105.5 L111.9 110 L118.3 114.4 L125 118.7 L131.9 122.8 L139.1 126.9 L146.5 130.9 L154.1 134.8 L162 138.6 L170.1 142.3 L178.5 145.9 L187.1 149.4 L195.9 152.9 L204.9 156.2 L214.2 159.5 L223.7 162.8 L233.5 165.9 L243.4 169 L253.6 172 L264 175 L274.6 177.9 L285.5 180.7 L296.6 183.5 L307.8 186.3 L319.3 188.9 L331.1 191.6 L343 194.1 L355.1 196.7 L367.5 199.2 L372.5 319.6 L40 319.6 L40 25.3Z" fill="#42a05e"/>
<path d="M42 25.3 L42.3 26.1 L43.1 27.9 L44.3 30.6 L45.9 33.9 L47.8 37.8 L50 42.1 L52.6 46.8 L55.4 51.6 L58.6 56.7 L62.1 61.8 L65.8 66.9 L69.9 72.1 L74.2 77.2 L78.8 82.2 L83.7 87.2 L88.8 92.1 L94.2 97 L99.8 101.7 L105.8 106.3 L111.9 110.8 L118.3 115.3 L125 119.6 L131.9 123.8 L139.1 127.9 L146.5 131.9 L154.1 135.8 L162 139.7 L170.1 143.4 L178.5 147.1 L187.1 150.6 L195.9 154.1 L204.9 157.5 L214.2 160.9 L223.7 164.1 L233.5 167.3 L243.4 170.4 L253.6 173.5 L264 176.5 L274.6 179.4 L285.5 182.3 L296.6 185.1 L307.8 187.8 L319.3 190.5 L331.1 193.2 L343 195.8 L355.1 198.4 L367.5 200.9 L372.5 319.6 L40 319.6 L40 25.3Z" fill="#409f5e"/>
<path d="M42 25.3 L42.3 26.1 L43.1 27.9 L44.3 30.6 L45.9 34 L47.8 37.9 L50 42.3 L52.6 47 L55.4 51.9 L58.6 57 L62.1 62.1 L65.8 67.3 L69.9 72.5 L74.2 77.7 L78.8 82.8 L83.7 87.8 L88.8 92.8 L94.2 97.7 L99.8 102.4 L105.8 107.1 L111.9 111.7 L118.3 116.1 L125 120.5 L131.9 124.7 L139.1 128.9 L146.5 133 L154.1 136.9 L162 140.8 L170.1 144.6 L178.5 148.2 L187.1 151.8 L195.9 155.4 L204.9 158.8 L214.2 162.2 L223.7 165.5 L233.5 168.7 L243.4 171.8 L253.6 174.9 L264 177.9 L274.6 180.9 L285.5 183.8 L296.6 186.6 L307.8 189.4 L319.3 192.2 L331.1 194.8 L343 197.5 L355.1 200 L367.5 202.6 L372.5 319.6 L40 319.6 L40 25.3Z" fill="#3e9f5e"/>
<path d="M42 25.3 L42.3 26.1 L43.1 27.9 L44.3 30.7 L45.9 34.1 L47.8 38.1 L50 42.5 L52.6 47.2 L55.4 52.2 L58.6 57.3 L62.1 62.5 L65.8 67.7 L69.9 73 L74.2 78.2 L78.8 83.3 L83.7 88.4 L88.8 93.4 L94.2 98.4 L99.8 103.2 L105.8 107.9 L111.9 112.5 L118.3 117 L125 121.4 L131.9 125.7 L139.1 129.9 L146.5 134 L154.1 138 L162 141.9 L170.1 145.7 L178.5 149.4 L187.1 153.1 L195.9 156.6 L204.9 160.1 L214.2 163.5 L223.7 166.8 L233.5 170.1 L243.4 173.2 L253.6 176.4 L264 179.4 L274.6 182.4 L285.5 185.3 L296.6 188.2 L307.8 191 L319.3 193.8 L331.1 196.5 L343 199.1 L355.1 201.7 L367.5 204.3 L372.5 319.6 L40 319.6 L40 25.3Z" fill="#3c9e5e"/>
<path d="M42 25.3 L42.3 26.1 L43.1 28 L44.3 30.7 L45.9 34.2 L47.8 38.2 L50 42.6 L52.6 47.4 L55.4 52.4 L58.6 57.6 L62.1 62.8 L65.8 68.1 L69.9 73.4 L74.2 78.7 L78.8 83.9 L83.7 89 L88.8 94.1 L94.2 99 L99.8 103.9 L105.8 108.7 L111.9 113.3 L118.3 117.9 L125 122.3 L131.9 126.7 L139.1 130.9 L146.5 135 L154.1 139.1 L162 143 L170.1 146.8 L178.5 150.6 L187.1 154.3 L195.9 157.9 L204.9 161.4 L214.2 164.8 L223.7 168.2 L233.5 171.4 L243.4 174.7 L253.6 177.8 L264 180.9 L274.6 183.9 L285.5 186.8 L296.6 189.7 L307.8 192.6 L319.3 195.4 L331.1 198.1 L343 200.8 L355.1 203.4 L367.5 206 L372.5 319.6 L40 319.6 L40 25.3Z" fill="#3a9d5e"/>
<path d="M42 25.3 L42.3 26.1 L43.1 28 L44.3 30.8 L45.9 34.3 L47.8 38.3 L50 42.8 L52.6 47.6 L55.4 52.7 L58.6 57.9 L62.1 63.2 L65.8 68.5 L69.9 73.9 L74.2 79.2 L78.8 84.4 L83.7 89.6 L88.8 94.7 L94.2 99.7 L99.8 104.7 L105.8 109.5 L111.9 114.2 L118.3 118.7 L125 123.2 L131.9 127.6 L139.1 131.9 L146.5 136.1 L154.1 140.1 L162 144.1 L170.1 148 L178.5 151.8 L187.1 155.5 L195.9 159.1 L204.9 162.7 L214.2 166.1 L223.7 169.5 L233.5 172.8 L243.4 176.1 L253.6 179.2 L264 182.3 L274.6 185.4 L285.5 188.4 L296.6 191.3 L307.8 194.2 L319.3 197 L331.1 199.7 L343 202.4 L355.1 205.1 L367.5 207.7 L372.5 319.6 L40 319.6 L40 25.3Z" fill="#389c5e"/>
<path d="M42 25.3 L42.3 26.1 L43.1 28 L44.3 30.8 L45.9 34.3 L47.8 38.4 L50 43 L52.6 47.8 L55.4 52.9 L58.6 58.2 L62.1 63.5 L65.8 68.9 L69.9 74.3 L74.2 79.7 L78.8 85 L83.7 90.2 L88.8 95.4 L94.2 100.4 L99.8 105.4 L105.8 110.2 L111.9 115 L118.3 119.6 L125 124.1 L131.9 128.6 L139.1 132.9 L146.5 137.1 L154.1 141.2 L162 145.2 L170.1 149.1 L178.5 153 L187.1 156.7 L195.9 160.4 L204.9 163.9 L214.2 167.4 L223.7 170.9 L233.5 174.2 L243.4 177.5 L253.6 180.7 L264 183.8 L274.6 186.9 L285.5 189.9 L296.6 192.8 L307.8 195.7 L319.3 198.6 L331.1 201.4 L343 204.1 L355.1 206.8 L367.5 209.4 L372.5 319.6 L40 319.6 L40 25.3Z" fill="#369b5e"/>
<path d="M42 25.3 L42.3 26.1 L43.1 28 L44.3 30.9 L45.9 34.4 L47.8 38.5 L50 43.1 L52.6 48 L55.4 53.2 L58.6 58.5 L62.1 63.9 L65.8 69.3 L69.9 74.8 L74.2 80.2 L78.8 85.5 L83.7 90.8 L88.8 96 L94.2 101.1 L99.8 106.1 L105.8 111 L111.9 115.8 L118.3 120.5 L125 125.1 L131.9 129.5 L139.1 133.9 L146.5 138.1 L154.1 142.3 L162 146.3 L170.1 150.3 L178.5 154.2 L187.1 157.9 L195.9 161.6 L204.9 165.2 L214.2 168.8 L223.7 172.2 L233.5 175.6 L243.4 178.9 L253.6 182.1 L264 185.3 L274.6 188.4 L285.5 191.4 L296.6 194.4 L307.8 197.3 L319.3 200.2 L331.1 203 L343 205.7 L355.1 208.4 L367.5 211.1 L372.5 319.6 L40 319.6 L40 25.3Z" fill="#349a5e"/>
<path d="M42 25.3 L42.3 26.1 L43.1 28.1 L44.3 30.9 L45.9 34.5 L47.8 38.7 L50 43.3 L52.6 48.2 L55.4 53.4 L58.6 58.8 L62.1 64.2 L65.8 69.7 L69.9 75.2 L74.2 80.7 L78.8 86.1 L83.7 91.4 L88.8 96.7 L94.2 101.8 L99.8 106.9 L105.8 111.8 L111.9 116.6 L118.3 121.4 L125 126 L131.9 130.5 L139.1 134.9 L146.5 139.2 L154.1 143.4 L162 147.4 L170.1 151.4 L178.5 155.3 L187.1 159.1 L195.9 162.9 L204.9 166.5 L214.2 170.1 L223.7 173.6 L233.5 177 L243.4 180.3 L253.6 183.6 L264 186.7 L274.6 189.9 L285.5 192.9 L296.6 195.9 L307.8 198.9 L319.3 201.8 L331.1 204.6 L343 207.4 L355.1 210.1 L367.5 212.8 L372.5 319.6 L40 319.6 L40 25.3Z" fill="#32995e"/>
<path d="M42 25.3 L42.3 26.1 L43.1 28.1 L44.3 31 L45.9 34.6 L47.8 38.8 L50 43.5 L52.6 48.4 L55.4 53.7 L58.6 59.1 L62.1 64.6 L65.8 70.1 L69.9 75.7 L74.2 81.2 L78.8 86.7 L83.7 92 L88.8 97.3 L94.2 102.5 L99.8 107.6 L105.8 112.6 L111.9 117.5 L118.3 122.2 L125 126.9 L131.9 131.4 L139.1 135.9 L146.5 140.2 L154.1 144.4 L162 148.6 L170.1 152.6 L178.5 156.5 L187.1 160.4 L195.9 164.1 L204.9 167.8 L214.2 171.4 L223.7 174.9 L233.5 178.3 L243.4 181.7 L253.6 185 L264 188.2 L274.6 191.4 L285.5 194.5 L296.6 197.5 L307.8 200.5 L319.3 203.4 L331.1 206.2 L343 209 L355.1 211.8 L367.5 214.5 L372.5 319.6 L40 319.6 L40 25.3Z" fill="#30985e"/>
<path d="M42 25.3 L42.3 26.1 L43.1 28.1 L44.3 31 L45.9 34.7 L47.8 38.9 L50 43.6 L52.6 48.7 L55.4 53.9 L58.6 59.4 L62.1 64.9 L65.8 70.5 L69.9 76.1 L74.2 81.7 L78.8 87.2 L83.7 92.6 L88.8 98 L94.2 103.2 L99.8 108.4 L105.8 113.4 L111.9 118.3 L118.3 123.1 L125 127.8 L131.9 132.4 L139.1 136.9 L146.5 141.2 L154.1 145.5 L162 149.7 L170.1 153.7 L178.5 157.7 L187.1 161.6 L195.9 165.4 L204.9 169.1 L214.2 172.7 L223.7 176.2 L233.5 179.7 L243.4 183.1 L253.6 186.4 L264 189.7 L274.6 192.9 L285.5 196 L296.6 199 L307.8 202 L319.3 205 L331.1 207.9 L343 210.7 L355.1 213.5 L367.5 216.2 L372.5 319.6 L40 319.6 L40 25.3Z" fill="#2f975e"/>
<path d="M42 25.3 L42.3 26.1 L43.1 28.1 L44.3 31.1 L45.9 34.8 L47.8 39 L50 43.8 L52.6 48.9 L55.4 54.2 L58.6 59.7 L62.1 65.3 L65.8 70.9 L69.9 76.6 L74.2 82.2 L78.8 87.8 L83.7 93.2 L88.8 98.6 L94.2 103.9 L99.8 109.1 L105.8 114.2 L111.9 119.1 L118.3 124 L125 128.7 L131.9 133.3 L139.1 137.9 L146.5 142.3 L154.1 146.6 L162 150.8 L170.1 154.9 L178.5 158.9 L187.1 162.8 L195.9 166.6 L204.9 170.4 L214.2 174 L223.7 177.6 L233.5 181.1 L243.4 184.5 L253.6 187.9 L264 191.1 L274.6 194.4 L285.5 197.5 L296.6 200.6 L307.8 203.6 L319.3 206.6 L331.1 209.5 L343 212.4 L355.1 215.2 L367.5 217.9 L372.5 319.6 L40 319.6 L40 25.3Z" fill="#2d965e"/>
<path d="M42 25.3 L42.3 26.1 L43.1 28.2 L44.3 31.1 L45.9 34.8 L47.8 39.2 L50 43.9 L52.6 49.1 L55.4 54.5 L58.6 60 L62.1 65.7 L65.8 71.4 L69.9 77 L74.2 82.7 L78.8 88.3 L83.7 93.8 L88.8 99.3 L94.2 104.6 L99.8 109.8 L105.8 115 L111.9 120 L118.3 124.9 L125 129.6 L131.9 134.3 L139.1 138.9 L146.5 143.3 L154.1 147.6 L162 151.9 L170.1 156 L178.5 160.1 L187.1 164 L195.9 167.9 L204.9 171.6 L214.2 175.3 L223.7 178.9 L233.5 182.5 L243.4 185.9 L253.6 189.3 L264 192.6 L274.6 195.9 L285.5 199 L296.6 202.1 L307.8 205.2 L319.3 208.2 L331.1 211.1 L343 214 L355.1 216.8 L367.5 219.6 L372.5 319.6 L40 319.6 L40 25.3Z" fill="#2b955e"/>
<path d="M42 25.3 L42.3 26.1 L43.1 28.2 L44.3 31.2 L45.9 34.9 L47.8 39.3 L50 44.1 L52.6 49.3 L55.4 54.7 L58.6 60.3 L62.1 66 L65.8 71.8 L69.9 77.5 L74.2 83.2 L78.8 88.9 L83.7 94.4 L88.8 99.9 L94.2 105.3 L99.8 110.6 L105.8 115.7 L111.9 120.8 L118.3 125.7 L125 130.6 L131.9 135.3 L139.1 139.9 L146.5 144.3 L154.1 148.7 L162 153 L170.1 157.2 L178.5 161.2 L187.1 165.2 L195.9 169.1 L204.9 172.9 L214.2 176.7 L223.7 180.3 L233.5 183.8 L243.4 187.3 L253.6 190.7 L264 194.1 L274.6 197.4 L285.5 200.6 L296.6 203.7 L307.8 206.8 L319.3 209.8 L331.1 212.8 L343 215.7 L355.1 218.5 L367.5 221.3 L372.5 319.6 L40 319.6 L40 25.3Z" fill="#29945e"/>
<path d="M42 25.3 L42.3 26.1 L43.1 28.2 L44.3 31.2 L45.9 35 L47.8 39.4 L50 44.3 L52.6 49.5 L55.4 55 L58.6 60.6 L62.1 66.4 L65.8 72.2 L69.9 78 L74.2 83.7 L78.8 89.4 L83.7 95 L88.8 100.6 L94.2 106 L99.8 111.3 L105.8 116.5 L111.9 121.6 L118.3 126.6 L125 131.5 L131.9 136.2 L139.1 140.8 L146.5 145.4 L154.1 149.8 L162 154.1 L170.1 158.3 L178.5 162.4 L187.1 166.4 L195.9 170.4 L204.9 174.2 L214.2 178 L223.7 181.6 L233.5 185.2 L243.4 188.7 L253.6 192.2 L264 195.6 L274.6 198.8 L285.5 202.1 L296.6 205.3 L307.8 208.4 L319.3 211.4 L331.1 214.4 L343 217.3 L355.1 220.2 L367.5 223 L372.5 319.6 L40 319.6 L40 25.3Z" fill="#27935e"/>
<path d="M42 25.3 L42.3 26.2 L43.1 28.2 L44.3 31.3 L45.9 35.1 L47.8 39.5 L50 44.4 L52.6 49.7 L55.4 55.2 L58.6 60.9 L62.1 66.7 L65.8 72.6 L69.9 78.4 L74.2 84.2 L78.8 90 L83.7 95.6 L88.8 101.2 L94.2 106.7 L99.8 112.1 L105.8 117.3 L111.9 122.5 L118.3 127.5 L125 132.4 L131.9 137.2 L139.1 141.8 L146.5 146.4 L154.1 150.9 L162 155.2 L170.1 159.5 L178.5 163.6 L187.1 167.7 L195.9 171.6 L204.9 175.5 L214.2 179.3 L223.7 183 L233.5 186.6 L243.4 190.2 L253.6 193.6 L264 197 L274.6 200.3 L285.5 203.6 L296.6 206.8 L307.8 209.9 L319.3 213 L331.1 216 L343 219 L355.1 221.9 L367.5 224.7 L372.5 319.6 L40 319.6 L40 25.3Z" fill="#25925e"/>
<path d="M42 25.3 L42.3 26.2 L43.1 28.3 L44.3 31.3 L45.9 35.2 L47.8 39.6 L50 44.6 L52.6 49.9 L55.4 55.5 L58.6 61.2 L62.1 67.1 L65.8 73 L69.9 78.9 L74.2 84.7 L78.8 90.5 L83.7 96.2 L88.8 101.9 L94.2 107.4 L99.8 112.8 L105.8 118.1 L111.9 123.3 L118.3 128.4 L125 133.3 L131.9 138.1 L139.1 142.8 L146.5 147.4 L154.1 151.9 L162 156.3 L170.1 160.6 L178.5 164.8 L187.1 168.9 L195.9 172.9 L204.9 176.8 L214.2 180.6 L223.7 184.3 L233.5 188 L243.4 191.6 L253.6 195.1 L264 198.5 L274.6 201.8 L285.5 205.1 L296.6 208.4 L307.8 211.5 L319.3 214.6 L331.1 217.7 L343 220.6 L355.1 223.6 L367.5 226.4 L372.5 319.6 L40 319.6 L40 25.3Z" fill="#23915e"/>
<path d="M42 25.3 L42.3 26.2 L43.1 28.3 L44.3 31.4 L45.9 35.3 L47.8 39.8 L50 44.8 L52.6 50.1 L55.4 55.7 L58.6 61.5 L62.1 67.4 L65.8 73.4 L69.9 79.3 L74.2 85.2 L78.8 91.1 L83.7 96.8 L88.8 102.5 L94.2 108.1 L99.8 113.6 L105.8 118.9 L111.9 124.1 L118.3 129.2 L125 134.2 L131.9 139.1 L139.1 143.8 L146.5 148.5 L154.1 153 L162 157.4 L170.1 161.8 L178.5 166 L187.1 170.1 L195.9 174.1 L204.9 178.1 L214.2 181.9 L223.7 185.7 L233.5 189.4 L243.4 193 L253.6 196.5 L264 200 L274.6 203.3 L285.5 206.7 L296.6 209.9 L307.8 213.1 L319.3 216.2 L331.1 219.3 L343 222.3 L355.1 225.2 L367.5 228.1 L372.5 319.6 L40 319.6 L40 25.3Z" fill="#21905e"/>
<path d="M42 25.3 L42.3 26.2 L43.1 28.3 L44.3 31.4 L45.9 35.3 L47.8 39.9 L50 44.9 L52.6 50.3 L55.4 56 L58.6 61.8 L62.1 67.8 L65.8 73.8 L69.9 79.8 L74.2 85.7 L78.8 91.6 L83.7 97.4 L88.8 103.2 L94.2 108.8 L99.8 114.3 L105.8 119.7 L111.9 125 L118.3 130.1 L125 135.1 L131.9 140 L139.1 144.8 L146.5 149.5 L154.1 154.1 L162 158.5 L170.1 162.9 L178.5 167.2 L187.1 171.3 L195.9 175.4 L204.9 179.3 L214.2 183.2 L223.7 187 L233.5 190.7 L243.4 194.4 L253.6 197.9 L264 201.4 L274.6 204.8 L285.5 208.2 L296.6 211.5 L307.8 214.7 L319.3 217.8 L331.1 220.9 L343 223.9 L355.1 226.9 L367.5 229.8 L372.5 319.6 L40 319.6 L40 25.3Z" fill="#1f8f5e"/>
<path d="M42 25.3 L42.3 26.2 L43.1 28.3 L44.3 31.5 L45.9 35.4 L47.8 40 L50 45.1 L52.6 50.5 L55.4 56.2 L58.6 62.1 L62.1 68.1 L65.8 74.2 L69.9 80.2 L74.2 86.2 L78.8 92.2 L83.7 98 L88.8 103.8 L94.2 109.5 L99.8 115 L105.8 120.5 L111.9 125.8 L118.3 131 L125 136 L131.9 141 L139.1 145.8 L146.5 150.5 L154.1 155.2 L162 159.7 L170.1 164 L178.5 168.3 L187.1 172.5 L195.9 176.6 L204.9 180.6 L214.2 184.5 L223.7 188.4 L233.5 192.1 L243.4 195.8 L253.6 199.4 L264 202.9 L274.6 206.3 L285.5 209.7 L296.6 213 L307.8 216.2 L319.3 219.4 L331.1 222.5 L343 225.6 L355.1 228.6 L367.5 231.6 L372.5 319.6 L40 319.6 L40 25.3Z" fill="#1d8e5e"/>
<path d="M42 25.3 L42.3 26.2 L43.1 28.4 L44.3 31.5 L45.9 35.5 L47.8 40.1 L50 45.2 L52.6 50.7 L55.4 56.5 L58.6 62.4 L62.1 68.5 L65.8 74.6 L69.9 80.7 L74.2 86.7 L78.8 92.7 L83.7 98.6 L88.8 104.5 L94.2 110.2 L99.8 115.8 L105.8 121.3 L111.9 126.6 L118.3 131.8 L125 137 L131.9 142 L139.1 146.8 L146.5 151.6 L154.1 156.2 L162 160.8 L170.1 165.2 L178.5 169.5 L187.1 173.7 L195.9 177.9 L204.9 181.9 L214.2 185.9 L223.7 189.7 L233.5 193.5 L243.4 197.2 L253.6 200.8 L264 204.4 L274.6 207.8 L285.5 211.2 L296.6 214.6 L307.8 217.8 L319.3 221 L331.1 224.2 L343 227.3 L355.1 230.3 L367.5 233.3 L372.5 319.6 L40 319.6 L40 25.3Z" fill="#1b8d5e"/>
<path d="M42 25.3 L42.3 26.2 L43.1 28.4 L44.3 31.6 L45.9 35.6 L47.8 40.2 L50 45.4 L52.6 51 L55.4 56.8 L58.6 62.7 L62.1 68.8 L65.8 75 L69.9 81.1 L74.2 87.2 L78.8 93.3 L83.7 99.3 L88.8 105.1 L94.2 110.9 L99.8 116.5 L105.8 122 L111.9 127.4 L118.3 132.7 L125 137.9 L131.9 142.9 L139.1 147.8 L146.5 152.6 L154.1 157.3 L162 161.9 L170.1 166.3 L178.5 170.7 L187.1 175 L195.9 179.1 L204.9 183.2 L214.2 187.2 L223.7 191.1 L233.5 194.9 L243.4 198.6 L253.6 202.3 L264 205.8 L274.6 209.3 L285.5 212.7 L296.6 216.1 L307.8 219.4 L319.3 222.6 L331.1 225.8 L343 228.9 L355.1 232 L367.5 235 L372.5 319.6 L40 319.6 L40 25.3Z" fill="#198c5e"/>
<path d="M42 25.3 L42.3 26.2 L43.1 28.4 L44.3 31.6 L45.9 35.7 L47.8 40.4 L50 45.6 L52.6 51.2 L55.4 57 L58.6 63.1 L62.1 69.2 L65.8 75.4 L69.9 81.6 L74.2 87.7 L78.8 93.8 L83.7 99.9 L88.8 105.8 L94.2 111.6 L99.8 117.3 L105.8 122.8 L111.9 128.3 L118.3 133.6 L125 138.8 L131.9 143.9 L139.1 148.8 L146.5 153.7 L154.1 158.4 L162 163 L170.1 167.5 L178.5 171.9 L187.1 176.2 L195.9 180.4 L204.9 184.5 L214.2 188.5 L223.7 192.4 L233.5 196.3 L243.4 200 L253.6 203.7 L264 207.3 L274.6 210.8 L285.5 214.3 L296.6 217.7 L307.8 221 L319.3 224.2 L331.1 227.4 L343 230.6 L355.1 233.6 L367.5 236.7 L372.5 319.6 L40 319.6 L40 25.3Z" fill="#178b5e"/>
<path d="M42 25.3 L42.3 26.2 L43.1 28.4 L44.3 31.7 L45.9 35.8 L47.8 40.5 L50 45.7 L52.6 51.4 L55.4 57.3 L58.6 63.4 L62.1 69.6 L65.8 75.8 L69.9 82 L74.2 88.2 L78.8 94.4 L83.7 100.5 L88.8 106.4 L94.2 112.3 L99.8 118 L105.8 123.6 L111.9 129.1 L118.3 134.5 L125 139.7 L131.9 144.8 L139.1 149.8 L146.5 154.7 L154.1 159.5 L162 164.1 L170.1 168.6 L178.5 173.1 L187.1 177.4 L195.9 181.6 L204.9 185.8 L214.2 189.8 L223.7 193.8 L233.5 197.6 L243.4 201.4 L253.6 205.1 L264 208.8 L274.6 212.3 L285.5 215.8 L296.6 219.2 L307.8 222.6 L319.3 225.8 L331.1 229.1 L343 232.2 L355.1 235.3 L367.5 238.4 L372.5 319.6 L40 319.6 L40 25.3Z" fill="#158a5e"/>
<path d="M42 25.3 L42.3 26.2 L43.1 28.5 L44.3 31.7 L45.9 35.8 L47.8 40.6 L50 45.9 L52.6 51.6 L55.4 57.5 L58.6 63.7 L62.1 69.9 L65.8 76.2 L69.9 82.5 L74.2 88.8 L78.8 94.9 L83.7 101.1 L88.8 107.1 L94.2 113 L99.8 118.7 L105.8 124.4 L111.9 129.9 L118.3 135.3 L125 140.6 L131.9 145.8 L139.1 150.8 L146.5 155.7 L154.1 160.5 L162 165.2 L170.1 169.8 L178.5 174.3 L187.1 178.6 L195.9 182.9 L204.9 187.1 L214.2 191.1 L223.7 195.1 L233.5 199 L243.4 202.8 L253.6 206.6 L264 210.2 L274.6 213.8 L285.5 217.3 L296.6 220.8 L307.8 224.1 L319.3 227.4 L331.1 230.7 L343 233.9 L355.1 237 L367.5 240.1 L372.5 319.6 L40 319.6 L40 25.3Z" fill="#13895e"/>
<path d="M42 25.3 L42.3 26.2 L43.1 28.5 L44.3 31.8 L45.9 35.9 L47.8 40.7 L50 46.1 L52.6 51.8 L55.4 57.8 L58.6 64 L62.1 70.3 L65.8 76.6 L69.9 82.9 L74.2 89.3 L78.8 95.5 L83.7 101.7 L88.8 107.7 L94.2 113.7 L99.8 119.5 L105.8 125.2 L111.9 130.8 L118.3 136.2 L125 141.5 L131.9 146.7 L139.1 151.8 L146.5 156.8 L154.1 161.6 L162 166.3 L170.1 170.9 L178.5 175.4 L187.1 179.8 L195.9 184.1 L204.9 188.3 L214.2 192.4 L223.7 196.5 L233.5 200.4 L243.4 204.2 L253.6 208 L264 211.7 L274.6 215.3 L285.5 218.8 L296.6 222.3 L307.8 225.7 L319.3 229.1 L331.1 232.3 L343 235.5 L355.1 238.7 L367.5 241.8 L372.5 319.6 L40 319.6 L40 25.3Z" fill="#11885e"/>
<path d="M42 25.3 L42.3 26.2 L43.1 28.5 L44.3 31.8 L45.9 36 L47.8 40.9 L50 46.2 L52.6 52 L55.4 58 L58.6 64.3 L62.1 70.6 L65.8 77 L69.9 83.4 L74.2 89.8 L78.8 96.1 L83.7 102.3 L88.8 108.4 L94.2 114.4 L99.8 120.2 L105.8 126 L111.9 131.6 L118.3 137.1 L125 142.5 L131.9 147.7 L139.1 152.8 L146.5 157.8 L154.1 162.7 L162 167.4 L170.1 172.1 L178.5 176.6 L187.1 181.1 L195.9 185.4 L204.9 189.6 L214.2 193.8 L223.7 197.8 L233.5 201.8 L243.4 205.6 L253.6 209.4 L264 213.2 L274.6 216.8 L285.5 220.4 L296.6 223.9 L307.8 227.3 L319.3 230.7 L331.1 234 L343 237.2 L355.1 240.4 L367.5 243.5 L372.5 319.6 L40 319.6 L40 25.3Z" fill="#10875e"/>
<path d="M42 25.3 L42.3 26.2 L43.1 28.5 L44.3 31.9 L45.9 36.1 L47.8 41 L50 46.4 L52.6 52.2 L55.4 58.3 L58.6 64.6 L62.1 71 L65.8 77.4 L69.9 83.9 L74.2 90.3 L78.8 96.6 L83.7 102.9 L88.8 109 L94.2 115.1 L99.8 121 L105.8 126.8 L111.9 132.4 L118.3 138 L125 143.4 L131.9 148.6 L139.1 153.8 L146.5 158.8 L154.1 163.7 L162 168.5 L170.1 173.2 L178.5 177.8 L187.1 182.3 L195.9 186.6 L204.9 190.9 L214.2 195.1 L223.7 199.2 L233.5 203.2 L243.4 207.1 L253.6 210.9 L264 214.6 L274.6 218.3 L285.5 221.9 L296.6 225.4 L307.8 228.9 L319.3 232.3 L331.1 235.6 L343 238.8 L355.1 242 L367.5 245.2 L372.5 319.6 L40 319.6 L40 25.3Z" fill="#0e865e"/>
<path d="M42 25.3 L42.3 26.2 L43.1 28.6 L44.3 31.9 L45.9 36.2 L47.8 41.1 L50 46.6 L52.6 52.4 L55.4 58.6 L58.6 64.9 L62.1 71.3 L65.8 77.8 L69.9 84.3 L74.2 90.8 L78.8 97.2 L83.7 103.5 L88.8 109.7 L94.2 115.7 L99.8 121.7 L105.8 127.5 L111.9 133.3 L118.3 138.8 L125 144.3 L131.9 149.6 L139.1 154.8 L146.5 159.9 L154.1 164.8 L162 169.6 L170.1 174.4 L178.5 179 L187.1 183.5 L195.9 187.9 L204.9 192.2 L214.2 196.4 L223.7 200.5 L233.5 204.5 L243.4 208.5 L253.6 212.3 L264 216.1 L274.6 219.8 L285.5 223.4 L296.6 227 L307.8 230.4 L319.3 233.9 L331.1 237.2 L343 240.5 L355.1 243.7 L367.5 246.9 L372.5 319.6 L40 319.6 L40 25.3Z" fill="#0c855e"/>
<path d="M42 25.3 L42.3 26.3 L43.1 28.6 L44.3 32 L45.9 36.3 L47.8 41.2 L50 46.7 L52.6 52.6 L55.4 58.8 L58.6 65.2 L62.1 71.7 L65.8 78.2 L69.9 84.8 L74.2 91.3 L78.8 97.7 L83.7 104.1 L88.8 110.3 L94.2 116.4 L99.8 122.5 L105.8 128.3 L111.9 134.1 L118.3 139.7 L125 145.2 L131.9 150.6 L139.1 155.8 L146.5 160.9 L154.1 165.9 L162 170.8 L170.1 175.5 L178.5 180.2 L187.1 184.7 L195.9 189.1 L204.9 193.5 L214.2 197.7 L223.7 201.9 L233.5 205.9 L243.4 209.9 L253.6 213.8 L264 217.6 L274.6 221.3 L285.5 224.9 L296.6 228.5 L307.8 232 L319.3 235.5 L331.1 238.8 L343 242.2 L355.1 245.4 L367.5 248.6 L372.5 319.6 L40 319.6 L40 25.3Z" fill="#0a845e"/>
<path d="M42 25.3 L42.3 26.3 L43.1 28.6 L44.3 32 L45.9 36.3 L47.8 41.3 L50 46.9 L52.6 52.8 L55.4 59.1 L58.6 65.5 L62.1 72 L65.8 78.6 L69.9 85.2 L74.2 91.8 L78.8 98.3 L83.7 104.7 L88.8 111 L94.2 117.1 L99.8 123.2 L105.8 129.1 L111.9 134.9 L118.3 140.6 L125 146.1 L131.9 151.5 L139.1 156.8 L146.5 161.9 L154.1 167 L162 171.9 L170.1 176.7 L178.5 181.3 L187.1 185.9 L195.9 190.4 L204.9 194.8 L214.2 199 L223.7 203.2 L233.5 207.3 L243.4 211.3 L253.6 215.2 L264 219 L274.6 222.8 L285.5 226.5 L296.6 230.1 L307.8 233.6 L319.3 237.1 L331.1 240.5 L343 243.8 L355.1 247.1 L367.5 250.3 L372.5 319.6 L40 319.6 L40 25.3Z" fill="#08835e"/>
<path d="M42 25.3 L42.3 26.3 L43.1 28.6 L44.3 32.1 L45.9 36.4 L47.8 41.5 L50 47 L52.6 53 L55.4 59.3 L58.6 65.8 L62.1 72.4 L65.8 79 L69.9 85.7 L74.2 92.3 L78.8 98.8 L83.7 105.3 L88.8 111.6 L94.2 117.8 L99.8 123.9 L105.8 129.9 L111.9 135.7 L118.3 141.5 L125 147 L131.9 152.5 L139.1 157.8 L146.5 163 L154.1 168 L162 173 L170.1 177.8 L178.5 182.5 L187.1 187.1 L195.9 191.6 L204.9 196 L214.2 200.3 L223.7 204.5 L233.5 208.7 L243.4 212.7 L253.6 216.6 L264 220.5 L274.6 224.3 L285.5 228 L296.6 231.6 L307.8 235.2 L319.3 238.7 L331.1 242.1 L343 245.5 L355.1 248.8 L367.5 252 L372.5 319.6 L40 319.6 L40 25.3Z" fill="#06825e"/>
<path d="M42 25.3 L42.3 26.3 L43.1 28.7 L44.3 32.1 L45.9 36.5 L47.8 41.6 L50 47.2 L52.6 53.2 L55.4 59.6 L58.6 66.1 L62.1 72.7 L65.8 79.4 L69.9 86.1 L74.2 92.8 L78.8 99.4 L83.7 105.9 L88.8 112.3 L94.2 118.5 L99.8 124.7 L105.8 130.7 L111.9 136.6 L118.3 142.3 L125 147.9 L131.9 153.4 L139.1 158.8 L146.5 164 L154.1 169.1 L162 174.1 L170.1 179 L178.5 183.7 L187.1 188.4 L195.9 192.9 L204.9 197.3 L214.2 201.7 L223.7 205.9 L233.5 210 L243.4 214.1 L253.6 218.1 L264 222 L274.6 225.8 L285.5 229.5 L296.6 233.2 L307.8 236.8 L319.3 240.3 L331.1 243.7 L343 247.1 L355.1 250.4 L367.5 253.7 L372.5 319.6 L40 319.6 L40 25.3Z" fill="#04815e"/>
<path d="M42 25.3 L42.3 26.3 L43.1 28.7 L44.3 32.2 L45.9 36.6 L47.8 41.7 L50 47.4 L52.6 53.5 L55.4 59.8 L58.6 66.4 L62.1 73.1 L65.8 79.8 L69.9 86.6 L74.2 93.3 L78.8 99.9 L83.7 106.5 L88.8 112.9 L94.2 119.2 L99.8 125.4 L105.8 131.5 L111.9 137.4 L118.3 143.2 L125 148.9 L131.9 154.4 L139.1 159.8 L146.5 165 L154.1 170.2 L162 175.2 L170.1 180.1 L178.5 184.9 L187.1 189.6 L195.9 194.1 L204.9 198.6 L214.2 203 L223.7 207.2 L233.5 211.4 L243.4 215.5 L253.6 219.5 L264 223.4 L274.6 227.3 L285.5 231 L296.6 234.7 L307.8 238.3 L319.3 241.9 L331.1 245.4 L343 248.8 L355.1 252.1 L367.5 255.4 L372.5 319.6 L40 319.6 L40 25.3Z" fill="#01805e"/>
<path d="M42 25.3 L42.3 26.3 L43.1 28.7 L44.3 32.3 L45.9 36.7 L47.8 41.9 L50 47.6 L52.6 53.8 L55.4 60.2 L58.6 66.9 L62.1 73.6 L65.8 80.4 L69.9 87.3 L74.2 94 L78.8 100.7 L83.7 107.4 L88.8 113.9 L94.2 120.3 L99.8 126.5 L105.8 132.7 L111.9 138.7 L118.3 144.5 L125 150.2 L131.9 155.8 L139.1 161.3 L146.5 166.6 L154.1 171.8 L162 176.9 L170.1 181.8 L178.5 186.7 L187.1 191.4 L195.9 196 L204.9 200.5 L214.2 204.9 L223.7 209.3 L233.5 213.5 L243.4 217.6 L253.6 221.7 L264 225.6 L274.6 229.5 L285.5 233.3 L296.6 237.1 L307.8 240.7 L319.3 244.3 L331.1 247.8 L343 251.3 L355.1 254.6 L367.5 258 L372.5 319.6 L40.0 319.6 L40.0 25.3Z" fill="#00805e"/>
<path d="M42 25.3 L42.3 25.4 L43.1 25.6 L44.3 25.8 L45.9 26.1 L47.8 26.5 L50 26.9 L52.6 27.4 L55.4 27.9 L58.6 28.3 L62.1 28.8 L65.8 29.3 L69.9 29.8 L74.2 30.3 L78.8 30.8 L83.7 31.3 L88.8 31.8 L94.2 32.3 L99.8 32.7 L105.8 33.2 L111.9 33.6 L118.3 34 L125 34.5 L131.9 34.9 L139.1 35.3 L146.5 35.7 L154.1 36 L162 36.4 L170.1 36.8 L178.5 37.1 L187.1 37.5 L195.9 37.8 L204.9 38.1 L214.2 38.5 L223.7 38.8 L233.5 39.1 L243.4 39.4 L253.6 39.7 L264 40 L274.6 40.3 L285.5 40.5 L296.6 40.8 L307.8 41.1 L319.3 41.3 L331.1 41.6 L343 41.9 L355.1 42.1 L367.5 42.3" fill="none" stroke="#000" stroke-width="0.55" stroke-opacity="0.7"/>
<path d="M42 25.3 L42.3 25.4 L43.1 25.7 L44.3 26.1 L45.9 26.6 L47.8 27.1 L50 27.8 L52.6 28.4 L55.4 29.1 L58.6 29.9 L62.1 30.6 L65.8 31.4 L69.9 32.1 L74.2 32.9 L78.8 33.6 L83.7 34.3 L88.8 35 L94.2 35.7 L99.8 36.4 L105.8 37.1 L111.9 37.8 L118.3 38.4 L125 39 L131.9 39.6 L139.1 40.2 L146.5 40.8 L154.1 41.4 L162 42 L170.1 42.5 L178.5 43 L187.1 43.6 L195.9 44.1 L204.9 44.6 L214.2 45 L223.7 45.5 L233.5 46 L243.4 46.4 L253.6 46.9 L264 47.3 L274.6 47.7 L285.5 48.2 L296.6 48.6 L307.8 49 L319.3 49.4 L331.1 49.8 L343 50.1 L355.1 50.5 L367.5 50.9" fill="none" stroke="#000" stroke-width="0.55" stroke-opacity="0.7"/>
<path d="M42 25.3 L42.3 25.4 L43.1 25.8 L44.3 26.3 L45.9 27 L47.8 27.7 L50 28.6 L52.6 29.5 L55.4 30.4 L58.6 31.4 L62.1 32.4 L65.8 33.4 L69.9 34.4 L74.2 35.4 L78.8 36.4 L83.7 37.3 L88.8 38.3 L94.2 39.2 L99.8 40.1 L105.8 41 L111.9 41.9 L118.3 42.8 L125 43.6 L131.9 44.4 L139.1 45.2 L146.5 46 L154.1 46.8 L162 47.5 L170.1 48.2 L178.5 48.9 L187.1 49.6 L195.9 50.3 L204.9 51 L214.2 51.6 L223.7 52.3 L233.5 52.9 L243.4 53.5 L253.6 54.1 L264 54.7 L274.6 55.2 L285.5 55.8 L296.6 56.3 L307.8 56.9 L319.3 57.4 L331.1 57.9 L343 58.4 L355.1 58.9 L367.5 59.4" fill="none" stroke="#000" stroke-width="0.55" stroke-opacity="0.7"/>
<path d="M42 25.3 L42.3 25.5 L43.1 25.9 L44.3 26.6 L45.9 27.4 L47.8 28.3 L50 29.4 L52.6 30.5 L55.4 31.7 L58.6 32.9 L62.1 34.2 L65.8 35.4 L69.9 36.6 L74.2 37.9 L78.8 39.1 L83.7 40.3 L88.8 41.5 L94.2 42.7 L99.8 43.8 L105.8 45 L111.9 46.1 L118.3 47.1 L125 48.2 L131.9 49.2 L139.1 50.2 L146.5 51.2 L154.1 52.1 L162 53.1 L170.1 54 L178.5 54.9 L187.1 55.7 L195.9 56.6 L204.9 57.4 L214.2 58.2 L223.7 59 L233.5 59.8 L243.4 60.5 L253.6 61.3 L264 62 L274.6 62.7 L285.5 63.4 L296.6 64.1 L307.8 64.8 L319.3 65.4 L331.1 66.1 L343 66.7 L355.1 67.3 L367.5 67.9" fill="none" stroke="#000" stroke-width="0.55" stroke-opacity="0.7"/>
<path d="M42 25.3 L42.3 25.5 L43.1 26.1 L44.3 26.8 L45.9 27.8 L47.8 28.9 L50 30.2 L52.6 31.6 L55.4 33 L58.6 34.4 L62.1 35.9 L65.8 37.4 L69.9 38.9 L74.2 40.4 L78.8 41.9 L83.7 43.3 L88.8 44.8 L94.2 46.2 L99.8 47.5 L105.8 48.9 L111.9 50.2 L118.3 51.5 L125 52.8 L131.9 54 L139.1 55.2 L146.5 56.4 L154.1 57.5 L162 58.6 L170.1 59.7 L178.5 60.8 L187.1 61.8 L195.9 62.8 L204.9 63.8 L214.2 64.8 L223.7 65.7 L233.5 66.7 L243.4 67.6 L253.6 68.5 L264 69.3 L274.6 70.2 L285.5 71 L296.6 71.8 L307.8 72.6 L319.3 73.4 L331.1 74.2 L343 75 L355.1 75.7 L367.5 76.4" fill="none" stroke="#000" stroke-width="0.55" stroke-opacity="0.7"/>
<path d="M42 25.3 L42.3 25.6 L43.1 26.2 L44.3 27.1 L45.9 28.2 L47.8 29.6 L50 31 L52.6 32.6 L55.4 34.3 L58.6 36 L62.1 37.7 L65.8 39.4 L69.9 41.2 L74.2 42.9 L78.8 44.6 L83.7 46.3 L88.8 48 L94.2 49.7 L99.8 51.3 L105.8 52.8 L111.9 54.4 L118.3 55.9 L125 57.3 L131.9 58.8 L139.1 60.2 L146.5 61.5 L154.1 62.9 L162 64.2 L170.1 65.4 L178.5 66.7 L187.1 67.9 L195.9 69.1 L204.9 70.2 L214.2 71.4 L223.7 72.5 L233.5 73.6 L243.4 74.6 L253.6 75.7 L264 76.7 L274.6 77.7 L285.5 78.6 L296.6 79.6 L307.8 80.5 L319.3 81.5 L331.1 82.4 L343 83.2 L355.1 84.1 L367.5 85" fill="none" stroke="#000" stroke-width="0.55" stroke-opacity="0.7"/>
<path d="M42 25.3 L42.3 25.6 L43.1 26.3 L44.3 27.3 L45.9 28.6 L47.8 30.2 L50 31.8 L52.6 33.6 L55.4 35.5 L58.6 37.5 L62.1 39.5 L65.8 41.5 L69.9 43.5 L74.2 45.4 L78.8 47.4 L83.7 49.3 L88.8 51.3 L94.2 53.1 L99.8 55 L105.8 56.8 L111.9 58.5 L118.3 60.2 L125 61.9 L131.9 63.5 L139.1 65.1 L146.5 66.7 L154.1 68.2 L162 69.7 L170.1 71.2 L178.5 72.6 L187.1 74 L195.9 75.3 L204.9 76.6 L214.2 77.9 L223.7 79.2 L233.5 80.4 L243.4 81.7 L253.6 82.8 L264 84 L274.6 85.1 L285.5 86.3 L296.6 87.4 L307.8 88.4 L319.3 89.5 L331.1 90.5 L343 91.5 L355.1 92.5 L367.5 93.5" fill="none" stroke="#000" stroke-width="0.55" stroke-opacity="0.7"/>
<path d="M42 25.3 L42.3 25.6 L43.1 26.4 L44.3 27.6 L45.9 29.1 L47.8 30.8 L50 32.7 L52.6 34.7 L55.4 36.8 L58.6 39 L62.1 41.2 L65.8 43.5 L69.9 45.7 L74.2 48 L78.8 50.2 L83.7 52.4 L88.8 54.5 L94.2 56.6 L99.8 58.7 L105.8 60.7 L111.9 62.7 L118.3 64.6 L125 66.5 L131.9 68.3 L139.1 70.1 L146.5 71.9 L154.1 73.6 L162 75.3 L170.1 76.9 L178.5 78.5 L187.1 80.1 L195.9 81.6 L204.9 83.1 L214.2 84.5 L223.7 85.9 L233.5 87.3 L243.4 88.7 L253.6 90 L264 91.3 L274.6 92.6 L285.5 93.9 L296.6 95.1 L307.8 96.3 L319.3 97.5 L331.1 98.7 L343 99.8 L355.1 100.9 L367.5 102" fill="none" stroke="#000" stroke-width="0.55" stroke-opacity="0.7"/>
<path d="M42 25.3 L42.3 25.7 L43.1 26.6 L44.3 27.9 L45.9 29.5 L47.8 31.4 L50 33.5 L52.6 35.7 L55.4 38.1 L58.6 40.5 L62.1 43 L65.8 45.5 L69.9 48 L74.2 50.5 L78.8 52.9 L83.7 55.4 L88.8 57.7 L94.2 60.1 L99.8 62.4 L105.8 64.6 L111.9 66.8 L118.3 69 L125 71.1 L131.9 73.1 L139.1 75.1 L146.5 77.1 L154.1 79 L162 80.8 L170.1 82.6 L178.5 84.4 L187.1 86.1 L195.9 87.8 L204.9 89.5 L214.2 91.1 L223.7 92.7 L233.5 94.2 L243.4 95.7 L253.6 97.2 L264 98.7 L274.6 100.1 L285.5 101.5 L296.6 102.9 L307.8 104.2 L319.3 105.5 L331.1 106.8 L343 108.1 L355.1 109.3 L367.5 110.5" fill="none" stroke="#000" stroke-width="0.55" stroke-opacity="0.7"/>
<path d="M42 25.3 L42.3 25.7 L43.1 26.7 L44.3 28.1 L45.9 29.9 L47.8 32 L50 34.3 L52.6 36.8 L55.4 39.4 L58.6 42 L62.1 44.8 L65.8 47.5 L69.9 50.3 L74.2 53 L78.8 55.7 L83.7 58.4 L88.8 61 L94.2 63.6 L99.8 66.1 L105.8 68.6 L111.9 71 L118.3 73.3 L125 75.6 L131.9 77.9 L139.1 80.1 L146.5 82.2 L154.1 84.3 L162 86.4 L170.1 88.4 L178.5 90.3 L187.1 92.2 L195.9 94.1 L204.9 95.9 L214.2 97.7 L223.7 99.4 L233.5 101.1 L243.4 102.8 L253.6 104.4 L264 106 L274.6 107.6 L285.5 109.1 L296.6 110.6 L307.8 112.1 L319.3 113.5 L331.1 115 L343 116.3 L355.1 117.7 L367.5 119.1" fill="none" stroke="#000" stroke-width="0.55" stroke-opacity="0.7"/>
<path d="M42 25.3 L42.3 25.7 L43.1 26.8 L44.3 28.4 L45.9 30.3 L47.8 32.6 L50 35.1 L52.6 37.8 L55.4 40.6 L58.6 43.6 L62.1 46.5 L65.8 49.5 L69.9 52.5 L74.2 55.5 L78.8 58.5 L83.7 61.4 L88.8 64.2 L94.2 67 L99.8 69.8 L105.8 72.5 L111.9 75.1 L118.3 77.7 L125 80.2 L131.9 82.7 L139.1 85.1 L146.5 87.4 L154.1 89.7 L162 91.9 L170.1 94.1 L178.5 96.2 L187.1 98.3 L195.9 100.3 L204.9 102.3 L214.2 104.3 L223.7 106.2 L233.5 108 L243.4 109.8 L253.6 111.6 L264 113.4 L274.6 115.1 L285.5 116.7 L296.6 118.4 L307.8 120 L319.3 121.6 L331.1 123.1 L343 124.6 L355.1 126.1 L367.5 127.6" fill="none" stroke="#000" stroke-width="0.55" stroke-opacity="0.7"/>
<path d="M42 25.3 L42.3 25.8 L43.1 26.9 L44.3 28.6 L45.9 30.7 L47.8 33.2 L50 35.9 L52.6 38.9 L55.4 41.9 L58.6 45.1 L62.1 48.3 L65.8 51.6 L69.9 54.8 L74.2 58 L78.8 61.2 L83.7 64.4 L88.8 67.5 L94.2 70.5 L99.8 73.5 L105.8 76.4 L111.9 79.3 L118.3 82.1 L125 84.8 L131.9 87.5 L139.1 90 L146.5 92.6 L154.1 95.1 L162 97.5 L170.1 99.8 L178.5 102.1 L187.1 104.4 L195.9 106.6 L204.9 108.7 L214.2 110.8 L223.7 112.9 L233.5 114.9 L243.4 116.9 L253.6 118.8 L264 120.7 L274.6 122.5 L285.5 124.4 L296.6 126.1 L307.8 127.9 L319.3 129.6 L331.1 131.3 L343 132.9 L355.1 134.5 L367.5 136.1" fill="none" stroke="#000" stroke-width="0.55" stroke-opacity="0.7"/>
<path d="M42 25.3 L42.3 25.8 L43.1 27.1 L44.3 28.9 L45.9 31.2 L47.8 33.8 L50 36.7 L52.6 39.9 L55.4 43.2 L58.6 46.6 L62.1 50.1 L65.8 53.6 L69.9 57.1 L74.2 60.6 L78.8 64 L83.7 67.4 L88.8 70.7 L94.2 74 L99.8 77.2 L105.8 80.4 L111.9 83.4 L118.3 86.4 L125 89.4 L131.9 92.2 L139.1 95 L146.5 97.8 L154.1 100.4 L162 103 L170.1 105.6 L178.5 108.1 L187.1 110.5 L195.9 112.8 L204.9 115.2 L214.2 117.4 L223.7 119.6 L233.5 121.8 L243.4 123.9 L253.6 126 L264 128 L274.6 130 L285.5 132 L296.6 133.9 L307.8 135.8 L319.3 137.6 L331.1 139.4 L343 141.2 L355.1 142.9 L367.5 144.6" fill="none" stroke="#000" stroke-width="0.55" stroke-opacity="0.7"/>
<path d="M42 25.3 L42.3 25.9 L43.1 27.3 L44.3 29.4 L45.9 32 L47.8 35 L50 38.4 L52.6 42 L55.4 45.8 L58.6 49.7 L62.1 53.6 L65.8 57.6 L69.9 61.6 L74.2 65.6 L78.8 69.5 L83.7 73.4 L88.8 77.2 L94.2 81 L99.8 84.6 L105.8 88.2 L111.9 91.7 L118.3 95.2 L125 98.5 L131.9 101.8 L139.1 105 L146.5 108.1 L154.1 111.2 L162 114.1 L170.1 117 L178.5 119.9 L187.1 122.6 L195.9 125.4 L204.9 128 L214.2 130.6 L223.7 133.1 L233.5 135.6 L243.4 138 L253.6 140.4 L264 142.7 L274.6 145 L285.5 147.2 L296.6 149.4 L307.8 151.5 L319.3 153.6 L331.1 155.7 L343 157.7 L355.1 159.7 L367.5 161.7" fill="none" stroke="#000" stroke-width="0.55" stroke-opacity="0.7"/>
<path d="M42 25.3 L42.3 25.9 L43.1 27.4 L44.3 29.6 L45.9 32.4 L47.8 35.6 L50 39.2 L52.6 43 L55.4 47 L58.6 51.2 L62.1 55.4 L65.8 59.6 L69.9 63.9 L74.2 68.1 L78.8 72.3 L83.7 76.4 L88.8 80.5 L94.2 84.4 L99.8 88.3 L105.8 92.2 L111.9 95.9 L118.3 99.5 L125 103.1 L131.9 106.6 L139.1 110 L146.5 113.3 L154.1 116.5 L162 119.7 L170.1 122.8 L178.5 125.8 L187.1 128.7 L195.9 131.6 L204.9 134.4 L214.2 137.2 L223.7 139.9 L233.5 142.5 L243.4 145.1 L253.6 147.6 L264 150.1 L274.6 152.5 L285.5 154.8 L296.6 157.2 L307.8 159.4 L319.3 161.7 L331.1 163.9 L343 166 L355.1 168.1 L367.5 170.2" fill="none" stroke="#000" stroke-width="0.55" stroke-opacity="0.7"/>
<path d="M42 25.3 L42.3 26 L43.1 27.6 L44.3 29.9 L45.9 32.8 L47.8 36.2 L50 40 L52.6 44.1 L55.4 48.3 L58.6 52.7 L62.1 57.2 L65.8 61.7 L69.9 66.2 L74.2 70.6 L78.8 75 L83.7 79.4 L88.8 83.7 L94.2 87.9 L99.8 92 L105.8 96.1 L111.9 100 L118.3 103.9 L125 107.7 L131.9 111.4 L139.1 115 L146.5 118.5 L154.1 121.9 L162 125.2 L170.1 128.5 L178.5 131.7 L187.1 134.8 L195.9 137.9 L204.9 140.8 L214.2 143.7 L223.7 146.6 L233.5 149.4 L243.4 152.1 L253.6 154.8 L264 157.4 L274.6 160 L285.5 162.5 L296.6 164.9 L307.8 167.3 L319.3 169.7 L331.1 172 L343 174.3 L355.1 176.5 L367.5 178.7" fill="none" stroke="#000" stroke-width="0.55" stroke-opacity="0.7"/>
<path d="M42 25.3 L42.3 26 L43.1 27.7 L44.3 30.2 L45.9 33.2 L47.8 36.8 L50 40.8 L52.6 45.1 L55.4 49.6 L58.6 54.2 L62.1 58.9 L65.8 63.7 L69.9 68.4 L74.2 73.1 L78.8 77.8 L83.7 82.4 L88.8 86.9 L94.2 91.4 L99.8 95.8 L105.8 100 L111.9 104.2 L118.3 108.3 L125 112.2 L131.9 116.1 L139.1 119.9 L146.5 123.6 L154.1 127.3 L162 130.8 L170.1 134.2 L178.5 137.6 L187.1 140.9 L195.9 144.1 L204.9 147.3 L214.2 150.3 L223.7 153.3 L233.5 156.3 L243.4 159.2 L253.6 162 L264 164.7 L274.6 167.4 L285.5 170.1 L296.6 172.7 L307.8 175.2 L319.3 177.7 L331.1 180.2 L343 182.6 L355.1 184.9 L367.5 187.2" fill="none" stroke="#000" stroke-width="0.55" stroke-opacity="0.7"/>
<path d="M42 25.3 L42.3 26 L43.1 27.8 L44.3 30.4 L45.9 33.7 L47.8 37.5 L50 41.7 L52.6 46.2 L55.4 50.9 L58.6 55.7 L62.1 60.7 L65.8 65.7 L69.9 70.7 L74.2 75.7 L78.8 80.6 L83.7 85.4 L88.8 90.2 L94.2 94.9 L99.8 99.5 L105.8 104 L111.9 108.3 L118.3 112.6 L125 116.8 L131.9 120.9 L139.1 124.9 L146.5 128.8 L154.1 132.6 L162 136.3 L170.1 140 L178.5 143.5 L187.1 147 L195.9 150.4 L204.9 153.7 L214.2 156.9 L223.7 160.1 L233.5 163.2 L243.4 166.2 L253.6 169.2 L264 172.1 L274.6 174.9 L285.5 177.7 L296.6 180.4 L307.8 183.1 L319.3 185.7 L331.1 188.3 L343 190.8 L355.1 193.3 L367.5 195.8" fill="none" stroke="#000" stroke-width="0.55" stroke-opacity="0.7"/>
<path d="M42 25.3 L42.3 26.1 L43.1 27.9 L44.3 30.7 L45.9 34.1 L47.8 38.1 L50 42.5 L52.6 47.2 L55.4 52.2 L58.6 57.3 L62.1 62.5 L65.8 67.7 L69.9 73 L74.2 78.2 L78.8 83.3 L83.7 88.4 L88.8 93.4 L94.2 98.4 L99.8 103.2 L105.8 107.9 L111.9 112.5 L118.3 117 L125 121.4 L131.9 125.7 L139.1 129.9 L146.5 134 L154.1 138 L162 141.9 L170.1 145.7 L178.5 149.4 L187.1 153.1 L195.9 156.6 L204.9 160.1 L214.2 163.5 L223.7 166.8 L233.5 170.1 L243.4 173.2 L253.6 176.4 L264 179.4 L274.6 182.4 L285.5 185.3 L296.6 188.2 L307.8 191 L319.3 193.8 L331.1 196.5 L343 199.1 L355.1 201.7 L367.5 204.3" fill="none" stroke="#000" stroke-width="0.55" stroke-opacity="0.7"/>
<path d="M42 25.3 L42.3 26.1 L43.1 28.1 L44.3 30.9 L45.9 34.5 L47.8 38.7 L50 43.3 L52.6 48.2 L55.4 53.4 L58.6 58.8 L62.1 64.2 L65.8 69.7 L69.9 75.2 L74.2 80.7 L78.8 86.1 L83.7 91.4 L88.8 96.7 L94.2 101.8 L99.8 106.9 L105.8 111.8 L111.9 116.6 L118.3 121.4 L125 126 L131.9 130.5 L139.1 134.9 L146.5 139.2 L154.1 143.4 L162 147.4 L170.1 151.4 L178.5 155.3 L187.1 159.1 L195.9 162.9 L204.9 166.5 L214.2 170.1 L223.7 173.6 L233.5 177 L243.4 180.3 L253.6 183.6 L264 186.7 L274.6 189.9 L285.5 192.9 L296.6 195.9 L307.8 198.9 L319.3 201.8 L331.1 204.6 L343 207.4 L355.1 210.1 L367.5 212.8" fill="none" stroke="#000" stroke-width="0.55" stroke-opacity="0.7"/>
<path d="M42 25.3 L42.3 26.1 L43.1 28.2 L44.3 31.2 L45.9 34.9 L47.8 39.3 L50 44.1 L52.6 49.3 L55.4 54.7 L58.6 60.3 L62.1 66 L65.8 71.8 L69.9 77.5 L74.2 83.2 L78.8 88.9 L83.7 94.4 L88.8 99.9 L94.2 105.3 L99.8 110.6 L105.8 115.7 L111.9 120.8 L118.3 125.7 L125 130.6 L131.9 135.3 L139.1 139.9 L146.5 144.3 L154.1 148.7 L162 153 L170.1 157.2 L178.5 161.2 L187.1 165.2 L195.9 169.1 L204.9 172.9 L214.2 176.7 L223.7 180.3 L233.5 183.8 L243.4 187.3 L253.6 190.7 L264 194.1 L274.6 197.4 L285.5 200.6 L296.6 203.7 L307.8 206.8 L319.3 209.8 L331.1 212.8 L343 215.7 L355.1 218.5 L367.5 221.3" fill="none" stroke="#000" stroke-width="0.55" stroke-opacity="0.7"/>
<path d="M42 25.3 L42.3 26.2 L43.1 28.3 L44.3 31.4 L45.9 35.3 L47.8 39.9 L50 44.9 L52.6 50.3 L55.4 56 L58.6 61.8 L62.1 67.8 L65.8 73.8 L69.9 79.8 L74.2 85.7 L78.8 91.6 L83.7 97.4 L88.8 103.2 L94.2 108.8 L99.8 114.3 L105.8 119.7 L111.9 125 L118.3 130.1 L125 135.1 L131.9 140 L139.1 144.8 L146.5 149.5 L154.1 154.1 L162 158.5 L170.1 162.9 L178.5 167.2 L187.1 171.3 L195.9 175.4 L204.9 179.3 L214.2 183.2 L223.7 187 L233.5 190.7 L243.4 194.4 L253.6 197.9 L264 201.4 L274.6 204.8 L285.5 208.2 L296.6 211.5 L307.8 214.7 L319.3 217.8 L331.1 220.9 L343 223.9 L355.1 226.9 L367.5 229.8" fill="none" stroke="#000" stroke-width="0.55" stroke-opacity="0.7"/>
<path d="M42 25.3 L42.3 26.2 L43.1 28.6 L44.3 31.9 L45.9 36.2 L47.8 41.1 L50 46.6 L52.6 52.4 L55.4 58.6 L58.6 64.9 L62.1 71.3 L65.8 77.8 L69.9 84.3 L74.2 90.8 L78.8 97.2 L83.7 103.5 L88.8 109.7 L94.2 115.7 L99.8 121.7 L105.8 127.5 L111.9 133.3 L118.3 138.8 L125 144.3 L131.9 149.6 L139.1 154.8 L146.5 159.9 L154.1 164.8 L162 169.6 L170.1 174.4 L178.5 179 L187.1 183.5 L195.9 187.9 L204.9 192.2 L214.2 196.4 L223.7 200.5 L233.5 204.5 L243.4 208.5 L253.6 212.3 L264 216.1 L274.6 219.8 L285.5 223.4 L296.6 227 L307.8 230.4 L319.3 233.9 L331.1 237.2 L343 240.5 L355.1 243.7 L367.5 246.9" fill="none" stroke="#000" stroke-width="0.55" stroke-opacity="0.7"/>
<path d="M42 25.3 L42.3 26.3 L43.1 28.7 L44.3 32.2 L45.9 36.6 L47.8 41.7 L50 47.4 L52.6 53.5 L55.4 59.8 L58.6 66.4 L62.1 73.1 L65.8 79.8 L69.9 86.6 L74.2 93.3 L78.8 99.9 L83.7 106.5 L88.8 112.9 L94.2 119.2 L99.8 125.4 L105.8 131.5 L111.9 137.4 L118.3 143.2 L125 148.9 L131.9 154.4 L139.1 159.8 L146.5 165 L154.1 170.2 L162 175.2 L170.1 180.1 L178.5 184.9 L187.1 189.6 L195.9 194.1 L204.9 198.6 L214.2 203 L223.7 207.2 L233.5 211.4 L243.4 215.5 L253.6 219.5 L264 223.4 L274.6 227.3 L285.5 231 L296.6 234.7 L307.8 238.3 L319.3 241.9 L331.1 245.4 L343 248.8 L355.1 252.1 L367.5 255.4" fill="none" stroke="#000" stroke-width="0.55" stroke-opacity="0.7"/>
<path d="M42 25.3 L42.3 25.8 L43.1 27.2 L44.3 29.1 L45.9 31.6 L47.8 34.4 L50 37.6 L52.6 40.9 L55.4 44.5 L58.6 48.1 L62.1 51.9 L65.8 55.6 L69.9 59.3 L74.2 63.1 L78.8 66.8 L83.7 70.4 L88.8 74 L94.2 77.5 L99.8 80.9 L105.8 84.3 L111.9 87.6 L118.3 90.8 L125 93.9 L131.9 97 L139.1 100 L146.5 102.9 L154.1 105.8 L162 108.6 L170.1 111.3 L178.5 114 L187.1 116.6 L195.9 119.1 L204.9 121.6 L214.2 124 L223.7 126.4 L233.5 128.7 L243.4 131 L253.6 133.2 L264 135.4 L274.6 137.5 L285.5 139.6 L296.6 141.6 L307.8 143.7 L319.3 145.6 L331.1 147.6 L343 149.5 L355.1 151.3 L367.5 153.1" fill="none" stroke="#000" stroke-width="1.2"/>
<path d="M42 25.3 L42.3 26.2 L43.1 28.5 L44.3 31.7 L45.9 35.8 L47.8 40.6 L50 45.9 L52.6 51.6 L55.4 57.5 L58.6 63.7 L62.1 69.9 L65.8 76.2 L69.9 82.5 L74.2 88.8 L78.8 94.9 L83.7 101.1 L88.8 107.1 L94.2 113 L99.8 118.7 L105.8 124.4 L111.9 129.9 L118.3 135.3 L125 140.6 L131.9 145.8 L139.1 150.8 L146.5 155.7 L154.1 160.5 L162 165.2 L170.1 169.8 L178.5 174.3 L187.1 178.6 L195.9 182.9 L204.9 187.1 L214.2 191.1 L223.7 195.1 L233.5 199 L243.4 202.8 L253.6 206.6 L264 210.2 L274.6 213.8 L285.5 217.3 L296.6 220.8 L307.8 224.1 L319.3 227.4 L331.1 230.7 L343 233.9 L355.1 237 L367.5 240.1" fill="none" stroke="#ff0000" stroke-width="3"/>
<path d="M42 25.3 L42.3 26.3 L43.1 28.7 L44.3 32.3 L45.9 36.7 L47.8 41.9 L50 47.6 L52.6 53.8 L55.4 60.2 L58.6 66.9 L62.1 73.6 L65.8 80.4 L69.9 87.3 L74.2 94 L78.8 100.7 L83.7 107.4 L88.8 113.9 L94.2 120.3 L99.8 126.5 L105.8 132.7 L111.9 138.7 L118.3 144.5 L125 150.2 L131.9 155.8 L139.1 161.3 L146.5 166.6 L154.1 171.8 L162 176.9 L170.1 181.8 L178.5 186.7 L187.1 191.4 L195.9 196 L204.9 200.5 L214.2 204.9 L223.7 209.3 L233.5 213.5 L243.4 217.6 L253.6 221.7 L264 225.6 L274.6 229.5 L285.5 233.3 L296.6 237.1 L307.8 240.7 L319.3 244.3 L331.1 247.8 L343 251.3 L355.1 254.6 L367.5 258" fill="none" stroke="#000" stroke-width="1.9"/>
<path d="M42 25.3 L42.3 25.3 L43.1 25.4 L44.3 25.6 L45.9 25.7 L47.8 25.9 L50 26.1 L52.6 26.3 L55.4 26.6 L58.6 26.8 L62.1 27.1 L65.8 27.3 L69.9 27.6 L74.2 27.8 L78.8 28.1 L83.7 28.3 L88.8 28.5 L94.2 28.8 L99.8 29 L105.8 29.2 L111.9 29.5 L118.3 29.7 L125 29.9 L131.9 30.1 L139.1 30.3 L146.5 30.5 L154.1 30.7 L162 30.9 L170.1 31 L178.5 31.2 L187.1 31.4 L195.9 31.6 L204.9 31.7 L214.2 31.9 L223.7 32 L233.5 32.2 L243.4 32.3 L253.6 32.5 L264 32.6 L274.6 32.8 L285.5 32.9 L296.6 33.1 L307.8 33.2 L319.3 33.3 L331.1 33.5 L343 33.6 L355.1 33.7 L367.5 33.8" fill="none" stroke="#0000ff" stroke-width="3"/>
</g>
<rect x="293" y="27.5" width="43" height="13.899999999999999" fill="#fff"/>
<text x="295" y="37.6" font-size="12.5" fill="#262626" letter-spacing="0.12">T=10 K</text>
<rect x="293.7" y="130" width="49.80000000000001" height="17.599999999999994" fill="#fff"/>
<text x="295.5" y="143.5" font-size="12.5" fill="#262626" letter-spacing="0.12">T=150 K</text>
<rect x="199.3" y="167.8" width="49.69999999999999" height="17.5" fill="#fff"/>
<text x="201" y="181" font-size="12.5" fill="#262626" letter-spacing="0.12">T=250 K</text>
<rect x="293.8" y="221" width="49.19999999999999" height="17.30000000000001" fill="#fff"/>
<text x="295.5" y="234" font-size="12.5" fill="#262626" letter-spacing="0.12">T=273 K</text>
<path d="M279 32.5 L283 30.9 L283 34.1 Z" fill="#000"/>
<path d="M279 140 L283.2 139.1 L282.7 142.3 Z" fill="#000"/>
<path d="M185 177 L189.3 176.9 L188.2 179.9 Z" fill="#000"/>
<path d="M279 231 L283.3 230.9 L282.2 233.9 Z" fill="#000"/>
<rect x="38.8" y="35.5" width="6.5" height="6.5" fill="#ff0000"/>
<rect x="69.7" y="52" width="6.5" height="6.5" fill="#ff0000"/>
<rect x="116.2" y="181.2" width="6.5" height="6.5" fill="#ff0000"/>
<rect x="347.8" y="225.2" width="6.5" height="6.5" fill="#ff0000"/>
<path d="M42.5 41 L46 45.5 L42.5 50 L39 45.5 Z" fill="#0000ff"/>
<path d="M72.9 37.1 L76.4 41.6 L72.9 46.1 L69.4 41.6 Z" fill="#0000ff"/>
<path d="M119.5 19.3 L123 23.8 L119.5 28.3 L116 23.8 Z" fill="#0000ff"/>
<path d="M351.4 48.4 L354.9 52.9 L351.4 57.4 L347.9 52.9 Z" fill="#0000ff"/>
<text x="40" y="47.1" font-size="12.5" text-anchor="end" fill="#262626">1.8</text>
<text x="40" y="81.1" font-size="12.5" text-anchor="end" fill="#262626">1.6</text>
<text x="40" y="115.2" font-size="12.5" text-anchor="end" fill="#262626">1.4</text>
<text x="40" y="149.3" font-size="12.5" text-anchor="end" fill="#262626">1.2</text>
<text x="40" y="183.4" font-size="12.5" text-anchor="end" fill="#262626">1</text>
<text x="40" y="217.5" font-size="12.5" text-anchor="end" fill="#262626">0.8</text>
<text x="40" y="251.5" font-size="12.5" text-anchor="end" fill="#262626">0.6</text>
<text x="40" y="285.6" font-size="12.5" text-anchor="end" fill="#262626">0.4</text>
<text x="40" y="319.7" font-size="12.5" text-anchor="end" fill="#262626">0.2</text>
<text x="42.2" y="329" font-size="12.5" text-anchor="middle" fill="#262626" letter-spacing="0.4">0</text>
<text x="119.7" y="329" font-size="12.5" text-anchor="middle" fill="#262626" letter-spacing="0.4">0.005</text>
<text x="197.2" y="329" font-size="12.5" text-anchor="middle" fill="#262626" letter-spacing="0.4">0.01</text>
<text x="274.7" y="329" font-size="12.5" text-anchor="middle" fill="#262626" letter-spacing="0.4">0.015</text>
<text x="352.2" y="329" font-size="12.5" text-anchor="middle" fill="#262626" letter-spacing="0.4">0.02</text>
<text x="203.5" y="345.5" font-size="13.5" font-style="italic" text-anchor="middle" fill="#262626">C</text>
<text transform="translate(14.5,160.2) rotate(-90)" font-size="13.5" text-anchor="middle" fill="#262626"><tspan font-style="italic">E</tspan>'(kcal/mol)</text>
<text x="-0.3" y="18.8" font-size="23" fill="#262626" style="stroke-width:0" textLength="32" lengthAdjust="spacingAndGlyphs">(a)</text>
<text x="382.6" y="23" font-size="23" fill="#262626" style="stroke-width:0" textLength="32" lengthAdjust="spacingAndGlyphs">(b)</text>
<g clip-path="url(#cb)">
<path d="M623.1 302.4 L625.2 302.5 L627.9 302.7 L630.6 302.8 L633.4 302.9 L636.1 303 L638.8 303.1 L641.5 303.2 L644.2 303.2 L646.9 303.2 L649.6 303.1 L652.4 303 L655.1 302.9 L657.8 302.7 L660.5 302.5 L661.5 302.4 L663.2 302.2 L665.9 301.7 L668.6 301.1 L671.4 300.5 L673.3 299.9 L674.1 299.5 L676.8 298.1 L677.9 297.4 L679.5 295.3 L679.8 294.9 L680.3 292.3 L679.8 289.8 L679.5 288.9 L678.9 287.3 L677.4 284.8 L676.8 283.9 L675.5 282.3 L674.1 280.9 L672.9 279.7 L671.4 278.5 L669.6 277.2 L668.6 276.6 L665.9 275 L665.3 274.7 L663.2 273.7 L660.5 272.5 L659.7 272.2 L657.8 271.5 L655.1 270.5 L652.5 269.7 L652.4 269.6 L649.6 268.9 L646.9 268.1 L644.2 267.4 L643.2 267.1 L641.5 266.8 L638.8 266.2 L636.1 265.6 L633.4 265 L631.5 264.6 L630.6 264.5 L627.9 264 L625.2 263.5 L622.5 263 L619.8 262.6 L617.1 262.1 L617 262.1 L614.4 261.7 L611.6 261.4 L608.9 261.1 L606.2 260.8 L603.5 260.7 L600.8 260.6 L598.1 260.6 L595.4 260.8 L592.6 260.9 L589.9 261.1 L587.2 261.3 L584.5 261.6 L581.8 261.9 L579.5 262.1 L579.1 262.2 L576.4 262.5 L573.6 262.8 L570.9 263.2 L568.2 263.6 L565.5 263.9 L562.8 264.3 L560.9 264.6 L560.1 264.8 L557.4 265.2 L554.6 265.7 L551.9 266.2 L549.2 266.8 L547.3 267.1 L546.5 267.3 L543.8 268 L541.1 268.6 L538.4 269.4 L537.2 269.7 L535.6 270.2 L532.9 271.2 L530.3 272.2 L530.2 272.2 L527.5 273.7 L525.9 274.7 L524.8 275.8 L523.4 277.2 L522.6 279.7 L523.2 282.3 L524.8 284.3 L525.1 284.8 L527.5 286.5 L528.6 287.3 L530.2 288.1 L532.9 289.5 L533.6 289.8 L535.6 290.5 L538.4 291.5 L540.8 292.3 L541.1 292.4 L543.8 293.1 L546.5 293.8 L549.2 294.4 L550.9 294.9 L551.9 295 L554.6 295.5 L557.4 296 L560.1 296.5 L562.8 296.9 L565.5 297.3 L565.8 297.4 L568.2 297.7 L570.9 298 L573.6 298.3 L576.4 298.6 L579.1 298.9 L581.8 299.1 L584.5 299.4 L587.2 299.6 L589.9 299.9 L590 299.9 L592.6 300.1 L595.4 300.3 L598.1 300.5 L600.8 300.7 L603.5 300.9 L606.2 301.1 L608.9 301.3 L611.6 301.5 L614.4 301.7 L617.1 301.9 L619.8 302.2 L622.5 302.4 L623.1 302.4Z" fill="#00805e" stroke="#00805e" stroke-width="0.5" fill-rule="evenodd"/>
<path d="M624.3 310 L625.2 310 L627.9 310.2 L630.6 310.4 L633.4 310.6 L636.1 310.8 L638.8 310.9 L641.5 311.1 L644.2 311.2 L646.9 311.4 L649.6 311.5 L652.4 311.6 L655.1 311.7 L657.8 311.8 L660.5 311.9 L663.2 312 L665.9 312 L668.6 312.1 L671.4 312.1 L674.1 312.1 L676.8 312.1 L679.5 312 L682.2 312 L684.9 311.9 L687.6 311.8 L690.4 311.7 L693.1 311.5 L695.8 311.2 L698.5 310.9 L701.2 310.5 L703.9 310.1 L704.5 310 L706.6 309.4 L709.4 308.4 L711.4 307.4 L712.1 306.9 L714.2 304.9 L714.8 303.8 L715.4 302.4 L715.9 299.9 L715.8 297.4 L715.3 294.9 L714.8 293.2 L714.5 292.3 L713.7 289.8 L712.8 287.3 L712.1 285.3 L711.9 284.8 L710.8 282.3 L709.6 279.7 L709.4 279.3 L708.2 277.2 L706.6 274.9 L706.5 274.7 L704.4 272.2 L703.9 271.6 L702 269.7 L701.2 268.9 L699.1 267.1 L698.5 266.6 L695.8 264.7 L695.7 264.6 L693.1 263 L691.6 262.1 L690.4 261.5 L687.6 260.2 L686.3 259.6 L684.9 259.1 L682.2 258.2 L679.5 257.4 L678.2 257.1 L676.8 256.7 L674.1 256.2 L671.4 255.7 L668.6 255.2 L665.9 254.8 L664.4 254.6 L663.2 254.4 L660.5 254 L657.8 253.7 L655.1 253.3 L652.4 252.9 L649.6 252.6 L646.9 252.3 L645.1 252 L644.2 251.9 L641.5 251.6 L638.8 251.3 L636.1 251 L633.4 250.7 L630.6 250.4 L627.9 250.1 L625.2 249.8 L622.5 249.6 L621.8 249.5 L619.8 249.3 L617.1 249.1 L614.4 248.9 L611.6 248.7 L608.9 248.6 L606.2 248.5 L603.5 248.4 L600.8 248.4 L598.1 248.4 L595.4 248.4 L592.6 248.5 L589.9 248.6 L587.2 248.7 L584.5 248.8 L581.8 249 L579.1 249.2 L576.4 249.4 L574.3 249.5 L573.6 249.6 L570.9 249.8 L568.2 250 L565.5 250.3 L562.8 250.5 L560.1 250.8 L557.4 251.1 L554.6 251.4 L551.9 251.7 L549.2 252 L548.8 252 L546.5 252.3 L543.8 252.7 L541.1 253 L538.4 253.4 L535.6 253.7 L532.9 254.1 L530.2 254.5 L529.5 254.6 L527.5 254.9 L524.8 255.3 L522.1 255.7 L519.4 256.1 L516.6 256.6 L514.5 257.1 L513.9 257.2 L511.2 257.9 L508.5 258.6 L505.8 259.4 L505.1 259.6 L503.1 260.2 L500.4 261.1 L497.6 262 L497.3 262.1 L494.9 263 L492.2 264.1 L490.9 264.6 L489.5 265.3 L486.8 266.6 L485.6 267.1 L484.1 268.1 L481.5 269.7 L481.4 269.8 L478.6 272.1 L478.5 272.2 L476.6 274.7 L475.9 276.7 L475.8 277.2 L475.9 278.7 L476 279.7 L477.4 282.3 L478.6 283.5 L479.9 284.8 L481.4 285.8 L483.5 287.3 L484.1 287.6 L486.8 289.1 L488.2 289.8 L489.5 290.4 L492.2 291.5 L494.1 292.3 L494.9 292.6 L497.6 293.5 L500.4 294.5 L501.5 294.9 L503.1 295.3 L505.8 296.1 L508.5 296.8 L510.7 297.4 L511.2 297.5 L513.9 298.1 L516.6 298.7 L519.4 299.3 L521.8 299.9 L522.1 299.9 L524.8 300.5 L527.5 301 L530.2 301.4 L532.9 301.9 L535.6 302.3 L536.3 302.4 L538.4 302.7 L541.1 303 L543.8 303.4 L546.5 303.7 L549.2 304 L551.9 304.3 L554.6 304.6 L557.4 304.9 L557.7 304.9 L560.1 305.1 L562.8 305.4 L565.5 305.6 L568.2 305.8 L570.9 306 L573.6 306.2 L576.4 306.4 L579.1 306.6 L581.8 306.8 L584.5 307 L587.2 307.2 L589.9 307.3 L591.5 307.4 L592.6 307.5 L595.4 307.7 L598.1 307.8 L600.8 308 L603.5 308.1 L606.2 308.4 L608.9 308.6 L611.6 308.8 L614.4 309.1 L617.1 309.3 L619.8 309.6 L622.5 309.8 L624.3 310ZM625.2 302.5 L623.1 302.4 L622.5 302.4 L619.8 302.2 L617.1 301.9 L614.4 301.7 L611.6 301.5 L608.9 301.3 L606.2 301.1 L603.5 300.9 L600.8 300.7 L598.1 300.5 L595.4 300.3 L592.6 300.1 L590 299.9 L589.9 299.9 L587.2 299.6 L584.5 299.4 L581.8 299.1 L579.1 298.9 L576.4 298.6 L573.6 298.3 L570.9 298 L568.2 297.7 L565.8 297.4 L565.5 297.3 L562.8 296.9 L560.1 296.5 L557.4 296 L554.6 295.5 L551.9 295 L550.9 294.9 L549.2 294.4 L546.5 293.8 L543.8 293.1 L541.1 292.4 L540.8 292.3 L538.4 291.5 L535.6 290.5 L533.6 289.8 L532.9 289.5 L530.2 288.1 L528.6 287.3 L527.5 286.5 L525.1 284.8 L524.8 284.3 L523.2 282.3 L522.6 279.7 L523.4 277.2 L524.8 275.8 L525.9 274.7 L527.5 273.7 L530.2 272.2 L530.3 272.2 L532.9 271.2 L535.6 270.2 L537.2 269.7 L538.4 269.4 L541.1 268.6 L543.8 268 L546.5 267.3 L547.3 267.1 L549.2 266.8 L551.9 266.2 L554.6 265.7 L557.4 265.2 L560.1 264.8 L560.9 264.6 L562.8 264.3 L565.5 263.9 L568.2 263.6 L570.9 263.2 L573.6 262.8 L576.4 262.5 L579.1 262.2 L579.5 262.1 L581.8 261.9 L584.5 261.6 L587.2 261.3 L589.9 261.1 L592.6 260.9 L595.4 260.8 L598.1 260.6 L600.8 260.6 L603.5 260.7 L606.2 260.8 L608.9 261.1 L611.6 261.4 L614.4 261.7 L617 262.1 L617.1 262.1 L619.8 262.6 L622.5 263 L625.2 263.5 L627.9 264 L630.6 264.5 L631.5 264.6 L633.4 265 L636.1 265.6 L638.8 266.2 L641.5 266.8 L643.2 267.1 L644.2 267.4 L646.9 268.1 L649.6 268.9 L652.4 269.6 L652.5 269.7 L655.1 270.5 L657.8 271.5 L659.7 272.2 L660.5 272.5 L663.2 273.7 L665.3 274.7 L665.9 275 L668.6 276.6 L669.6 277.2 L671.4 278.5 L672.9 279.7 L674.1 280.9 L675.5 282.3 L676.8 283.9 L677.4 284.8 L678.9 287.3 L679.5 288.9 L679.8 289.8 L680.3 292.3 L679.8 294.9 L679.5 295.3 L677.9 297.4 L676.8 298.1 L674.1 299.5 L673.3 299.9 L671.4 300.5 L668.6 301.1 L665.9 301.7 L663.2 302.2 L661.5 302.4 L660.5 302.5 L657.8 302.7 L655.1 302.9 L652.4 303 L649.6 303.1 L646.9 303.2 L644.2 303.2 L641.5 303.2 L638.8 303.1 L636.1 303 L633.4 302.9 L630.6 302.8 L627.9 302.7 L625.2 302.5Z" fill="#14895e" stroke="#14895e" stroke-width="0.5" fill-rule="evenodd"/>
<path d="M587.7 312.5 L589.9 312.6 L592.6 312.7 L595.4 312.9 L598.1 313 L600.8 313.2 L603.5 313.3 L606.2 313.5 L608.9 313.8 L611.6 314 L614.4 314.2 L617.1 314.4 L619.8 314.7 L622.5 314.9 L623.9 315 L625.2 315 L627.9 315 L630.6 315 L633.4 315 L636.1 315 L638.8 315 L641.5 315 L644.2 315 L646.9 315 L649.6 315 L652.4 315 L655.1 315 L657.8 315 L660.5 315 L663.2 315 L665.9 315 L668.6 315 L671.4 315 L674.1 315 L676.8 315 L679.5 315 L682.2 315 L684.9 315 L687.6 315 L690.4 315 L693.1 315 L695.8 315 L698.5 315 L701.2 315 L703.9 315 L706.6 315 L709.4 315 L712.1 315 L714.8 315 L717.5 315 L720.2 315 L722.9 315 L725.6 315 L727.7 315 L728.4 314.7 L731.1 313.4 L732.8 312.5 L733.8 311.6 L735.8 310 L736.5 309.1 L738 307.4 L739.2 305.6 L739.8 304.9 L741.8 302.4 L741.9 302.1 L743.3 299.9 L744.2 297.4 L744.6 295.1 L744.7 294.9 L744.8 292.3 L744.6 290.3 L744.6 289.8 L744.3 287.3 L743.9 284.8 L743.5 282.3 L743.1 279.7 L742.5 277.2 L741.9 275.4 L741.7 274.7 L740.8 272.2 L739.6 269.7 L739.2 268.9 L738.3 267.1 L736.6 264.6 L736.5 264.5 L734.4 262.1 L733.8 261.5 L731.3 259.6 L731.1 259.4 L728.4 257.8 L727.2 257.1 L725.6 256.3 L722.9 254.9 L722.1 254.6 L720.2 253.7 L717.5 252.5 L716.4 252 L714.8 251.4 L712.1 250.3 L710 249.5 L709.4 249.3 L706.6 248.3 L703.9 247.4 L702.9 247 L701.2 246.5 L698.5 245.6 L695.8 244.8 L694.8 244.5 L693.1 244 L690.4 243.4 L687.6 242.8 L684.9 242.4 L682.2 242.2 L679.6 242 L679.5 242 L676.8 241.8 L674.1 241.6 L671.4 241.4 L668.6 241.2 L665.9 241 L663.2 240.9 L660.5 240.7 L657.8 240.5 L655.1 240.3 L652.4 240.1 L649.6 239.9 L646.9 239.8 L644.2 239.6 L642 239.4 L641.5 239.4 L638.8 239.2 L636.1 239.1 L633.4 238.9 L630.6 238.8 L627.9 238.6 L625.2 238.5 L622.5 238.4 L619.8 238.2 L617.1 238.2 L614.4 238.1 L611.6 238 L608.9 238 L606.2 237.9 L603.5 237.9 L600.8 237.9 L598.1 237.9 L595.4 237.9 L592.6 237.9 L589.9 237.9 L587.2 238 L584.5 238 L581.8 238.1 L579.1 238.2 L576.4 238.3 L573.6 238.5 L570.9 238.6 L568.2 238.8 L565.5 239 L562.8 239.2 L560.1 239.4 L559.4 239.4 L557.4 239.6 L554.6 239.8 L551.9 240.1 L549.2 240.4 L546.5 240.6 L543.8 240.9 L541.1 241.2 L538.4 241.5 L535.6 241.8 L534.7 242 L532.9 242.2 L530.2 242.5 L527.5 242.9 L524.8 243.3 L522.1 243.7 L519.4 244.1 L516.8 244.5 L516.6 244.5 L513.9 244.8 L511.2 245.2 L508.5 245.6 L505.8 246 L503.1 246.4 L500.4 246.8 L499.2 247 L497.6 247.3 L494.9 247.8 L492.2 248.3 L489.5 248.8 L486.8 249.3 L485.9 249.5 L484.1 249.9 L481.4 250.5 L478.6 251.1 L475.9 251.7 L474.3 252 L473.2 252.3 L470.5 252.9 L467.8 253.6 L465.1 254.3 L463.9 254.6 L462.4 255 L459.6 255.7 L456.9 256.5 L454.8 257.1 L454.2 257.3 L451.5 258.1 L448.8 259.1 L447.3 259.6 L446.1 260.1 L443.4 261.2 L441.3 262.1 L440.6 262.4 L437.9 263.8 L436.5 264.6 L435.2 265.5 L432.7 267.1 L432.5 267.3 L432.5 269.7 L432.5 272.2 L432.5 274.7 L432.5 277.2 L432.5 279.7 L432.5 282.3 L432.5 284.8 L432.5 286.9 L433.2 287.3 L435.2 288.2 L437.9 289.3 L439.4 289.8 L440.6 290.2 L443.4 291 L446.1 291.9 L447.5 292.3 L448.8 292.7 L451.5 293.4 L454.2 294.2 L456.6 294.9 L456.9 294.9 L459.6 295.6 L462.4 296.3 L465.1 297 L466.4 297.4 L467.8 297.7 L470.5 298.3 L473.2 299 L475.9 299.6 L477.1 299.9 L478.6 300.2 L481.4 300.8 L484.1 301.4 L486.8 302 L488.9 302.4 L489.5 302.5 L492.2 303 L494.9 303.5 L497.6 304 L500.4 304.5 L502.6 304.9 L503.1 305 L505.8 305.4 L508.5 305.9 L511.2 306.3 L513.9 306.7 L516.6 307.1 L519.3 307.4 L519.4 307.4 L522.1 307.7 L524.8 308 L527.5 308.3 L530.2 308.5 L532.9 308.8 L535.6 309 L538.4 309.3 L541.1 309.5 L543.8 309.7 L546.5 309.9 L546.8 310 L549.2 310.1 L551.9 310.3 L554.6 310.5 L557.4 310.7 L560.1 310.9 L562.8 311 L565.5 311.2 L568.2 311.4 L570.9 311.5 L573.6 311.7 L576.4 311.9 L579.1 312 L581.8 312.2 L584.5 312.3 L587.2 312.5 L587.7 312.5ZM625.2 310 L624.3 310 L622.5 309.8 L619.8 309.6 L617.1 309.3 L614.4 309.1 L611.6 308.8 L608.9 308.6 L606.2 308.4 L603.5 308.1 L600.8 308 L598.1 307.8 L595.4 307.7 L592.6 307.5 L591.5 307.4 L589.9 307.3 L587.2 307.2 L584.5 307 L581.8 306.8 L579.1 306.6 L576.4 306.4 L573.6 306.2 L570.9 306 L568.2 305.8 L565.5 305.6 L562.8 305.4 L560.1 305.1 L557.7 304.9 L557.4 304.9 L554.6 304.6 L551.9 304.3 L549.2 304 L546.5 303.7 L543.8 303.4 L541.1 303 L538.4 302.7 L536.3 302.4 L535.6 302.3 L532.9 301.9 L530.2 301.4 L527.5 301 L524.8 300.5 L522.1 299.9 L521.8 299.9 L519.4 299.3 L516.6 298.7 L513.9 298.1 L511.2 297.5 L510.7 297.4 L508.5 296.8 L505.8 296.1 L503.1 295.3 L501.5 294.9 L500.4 294.5 L497.6 293.5 L494.9 292.6 L494.1 292.3 L492.2 291.5 L489.5 290.4 L488.2 289.8 L486.8 289.1 L484.1 287.6 L483.5 287.3 L481.4 285.8 L479.9 284.8 L478.6 283.5 L477.4 282.3 L476 279.7 L475.9 278.7 L475.8 277.2 L475.9 276.7 L476.6 274.7 L478.5 272.2 L478.6 272.1 L481.4 269.8 L481.5 269.7 L484.1 268.1 L485.6 267.1 L486.8 266.6 L489.5 265.3 L490.9 264.6 L492.2 264.1 L494.9 263 L497.3 262.1 L497.6 262 L500.4 261.1 L503.1 260.2 L505.1 259.6 L505.8 259.4 L508.5 258.6 L511.2 257.9 L513.9 257.2 L514.5 257.1 L516.6 256.6 L519.4 256.1 L522.1 255.7 L524.8 255.3 L527.5 254.9 L529.5 254.6 L530.2 254.5 L532.9 254.1 L535.6 253.7 L538.4 253.4 L541.1 253 L543.8 252.7 L546.5 252.3 L548.8 252 L549.2 252 L551.9 251.7 L554.6 251.4 L557.4 251.1 L560.1 250.8 L562.8 250.5 L565.5 250.3 L568.2 250 L570.9 249.8 L573.6 249.6 L574.3 249.5 L576.4 249.4 L579.1 249.2 L581.8 249 L584.5 248.8 L587.2 248.7 L589.9 248.6 L592.6 248.5 L595.4 248.4 L598.1 248.4 L600.8 248.4 L603.5 248.4 L606.2 248.5 L608.9 248.6 L611.6 248.7 L614.4 248.9 L617.1 249.1 L619.8 249.3 L621.8 249.5 L622.5 249.6 L625.2 249.8 L627.9 250.1 L630.6 250.4 L633.4 250.7 L636.1 251 L638.8 251.3 L641.5 251.6 L644.2 251.9 L645.1 252 L646.9 252.3 L649.6 252.6 L652.4 252.9 L655.1 253.3 L657.8 253.7 L660.5 254 L663.2 254.4 L664.4 254.6 L665.9 254.8 L668.6 255.2 L671.4 255.7 L674.1 256.2 L676.8 256.7 L678.2 257.1 L679.5 257.4 L682.2 258.2 L684.9 259.1 L686.3 259.6 L687.6 260.2 L690.4 261.5 L691.6 262.1 L693.1 263 L695.7 264.6 L695.8 264.7 L698.5 266.6 L699.1 267.1 L701.2 268.9 L702 269.7 L703.9 271.6 L704.4 272.2 L706.5 274.7 L706.6 274.9 L708.2 277.2 L709.4 279.3 L709.6 279.7 L710.8 282.3 L711.9 284.8 L712.1 285.3 L712.8 287.3 L713.7 289.8 L714.5 292.3 L714.8 293.2 L715.3 294.9 L715.8 297.4 L715.9 299.9 L715.4 302.4 L714.8 303.8 L714.2 304.9 L712.1 306.9 L711.4 307.4 L709.4 308.4 L706.6 309.4 L704.5 310 L703.9 310.1 L701.2 310.5 L698.5 310.9 L695.8 311.2 L693.1 311.5 L690.4 311.7 L687.6 311.8 L684.9 311.9 L682.2 312 L679.5 312 L676.8 312.1 L674.1 312.1 L671.4 312.1 L668.6 312.1 L665.9 312 L663.2 312 L660.5 311.9 L657.8 311.8 L655.1 311.7 L652.4 311.6 L649.6 311.5 L646.9 311.4 L644.2 311.2 L641.5 311.1 L638.8 310.9 L636.1 310.8 L633.4 310.6 L630.6 310.4 L627.9 310.2 L625.2 310Z" fill="#27935e" stroke="#27935e" stroke-width="0.5" fill-rule="evenodd"/>
<path d="M432.5 315 L435.2 315 L437.9 315 L440.6 315 L443.4 315 L445.2 315 L443.4 314.2 L440.6 313.2 L437.9 312.5 L437.8 312.5 L435.2 311.3 L432.5 310.4 L432.5 312.5 L432.5 315ZM505.7 312.5 L505.8 312.5 L508.5 312.7 L511.2 313 L513.9 313.2 L516.6 313.4 L519.4 313.5 L522.1 313.7 L524.8 313.8 L527.5 314 L530.2 314.1 L532.9 314.2 L535.6 314.4 L538.4 314.5 L541.1 314.6 L543.8 314.8 L546.5 314.9 L548.5 315 L549.2 315 L551.9 315 L554.6 315 L557.4 315 L560.1 315 L562.8 315 L565.5 315 L568.2 315 L570.9 315 L573.6 315 L576.4 315 L579.1 315 L581.8 315 L584.5 315 L587.2 315 L589.9 315 L592.6 315 L595.4 315 L598.1 315 L600.8 315 L603.5 315 L606.2 315 L608.9 315 L611.6 315 L614.4 315 L617.1 315 L619.8 315 L622.5 315 L623.9 315 L622.5 314.9 L619.8 314.7 L617.1 314.4 L614.4 314.2 L611.6 314 L608.9 313.8 L606.2 313.5 L603.5 313.3 L600.8 313.2 L598.1 313 L595.4 312.9 L592.6 312.7 L589.9 312.6 L587.7 312.5 L587.2 312.5 L584.5 312.3 L581.8 312.2 L579.1 312 L576.4 311.9 L573.6 311.7 L570.9 311.5 L568.2 311.4 L565.5 311.2 L562.8 311 L560.1 310.9 L557.4 310.7 L554.6 310.5 L551.9 310.3 L549.2 310.1 L546.8 310 L546.5 309.9 L543.8 309.7 L541.1 309.5 L538.4 309.3 L535.6 309 L532.9 308.8 L530.2 308.5 L527.5 308.3 L524.8 308 L522.1 307.7 L519.4 307.4 L519.3 307.4 L516.6 307.1 L513.9 306.7 L511.2 306.3 L508.5 305.9 L505.8 305.4 L503.1 305 L502.6 304.9 L500.4 304.5 L497.6 304 L494.9 303.5 L492.2 303 L489.5 302.5 L488.9 302.4 L486.8 302 L484.1 301.4 L481.4 300.8 L478.6 300.2 L477.1 299.9 L475.9 299.6 L473.2 299 L470.5 298.3 L467.8 297.7 L466.4 297.4 L465.1 297 L462.4 296.3 L459.6 295.6 L456.9 294.9 L456.6 294.9 L454.2 294.2 L451.5 293.4 L448.8 292.7 L447.5 292.3 L446.1 291.9 L443.4 291 L440.6 290.2 L439.4 289.8 L437.9 289.3 L435.2 288.2 L433.2 287.3 L432.5 286.9 L432.5 287.3 L432.5 289.8 L432.5 292.3 L432.5 294.9 L432.5 297.4 L432.5 299.9 L432.5 302.4 L432.5 304.9 L432.5 305.5 L435.2 305.8 L437.9 306.2 L440.6 306.4 L443.4 306.7 L446.1 306.9 L448.8 307.2 L451.5 307.4 L452 307.4 L454.2 307.7 L456.9 307.9 L459.6 308.2 L462.4 308.4 L465.1 308.7 L467.8 308.9 L470.5 309.2 L473.2 309.4 L475.9 309.7 L478.6 309.9 L479.2 310 L481.4 310.2 L484.1 310.4 L486.8 310.7 L489.5 311 L492.2 311.2 L494.9 311.5 L497.6 311.7 L500.4 312 L503.1 312.2 L505.7 312.5ZM727.7 315 L728.4 315 L731.1 315 L733.8 315 L736.5 315 L739.2 315 L741.9 315 L744.6 315 L747.4 315 L750.1 315 L752.8 315 L755.5 315 L755.5 312.5 L755.5 310 L755.5 307.4 L755.5 304.9 L755.5 302.4 L755.5 299.9 L755.5 297.4 L755.5 294.9 L755.5 292.3 L755.5 289.8 L755.5 287.3 L755.5 284.8 L755.5 282.3 L755.5 279.7 L755.5 277.2 L755.5 274.7 L755.5 272.2 L755.5 269.7 L755.5 267.1 L755.5 264.6 L755.5 262.1 L755.5 259.6 L755.5 257.1 L755.5 254.6 L755.5 252 L755.5 249.5 L755.5 247 L755.5 247 L752.8 245.7 L750.1 244.5 L750.1 244.5 L747.4 243.4 L744.6 242.5 L743.1 242 L741.9 241.6 L739.2 240.8 L736.5 240 L734.2 239.4 L733.8 239.3 L731.1 238.7 L728.4 238 L725.6 237.4 L723.4 236.9 L722.9 236.8 L720.2 236.3 L717.5 235.7 L714.8 235.2 L712.1 234.7 L710.6 234.4 L709.4 234.2 L706.6 233.7 L703.9 233.3 L701.2 232.9 L698.5 232.5 L695.8 232.2 L693.3 231.9 L693.1 231.9 L690.4 231.6 L687.6 231.4 L684.9 231 L682.2 230.7 L679.5 230.5 L676.8 230.2 L674.1 230 L671.4 229.8 L668.6 229.6 L665.9 229.4 L665.7 229.4 L663.2 229.2 L660.5 229.1 L657.8 228.9 L655.1 228.8 L652.4 228.6 L649.6 228.5 L646.9 228.4 L644.2 228.3 L641.5 228.2 L638.8 228.1 L636.1 228 L633.4 227.9 L630.6 227.9 L627.9 227.8 L625.2 227.7 L622.5 227.7 L619.8 227.7 L617.1 227.6 L614.4 227.6 L611.6 227.6 L608.9 227.6 L606.2 227.6 L603.5 227.6 L600.8 227.6 L598.1 227.6 L595.4 227.6 L592.6 227.6 L589.9 227.6 L587.2 227.6 L584.5 227.6 L581.8 227.7 L579.1 227.7 L576.4 227.8 L573.6 227.9 L570.9 228 L568.2 228.1 L565.5 228.3 L562.8 228.4 L560.1 228.6 L557.4 228.8 L554.6 229 L551.9 229.2 L550 229.4 L549.2 229.4 L546.5 229.7 L543.8 229.9 L541.1 230.2 L538.4 230.4 L535.6 230.7 L532.9 231 L530.2 231.3 L527.5 231.6 L524.9 231.9 L524.8 231.9 L522.1 232.2 L519.4 232.5 L516.6 232.8 L513.9 233.2 L511.2 233.5 L508.5 233.8 L505.8 234.1 L503.4 234.4 L503.1 234.4 L500.4 234.8 L497.6 235.1 L494.9 235.5 L492.2 235.8 L489.5 236.2 L486.8 236.6 L484.4 236.9 L484.1 237 L481.4 237.4 L478.6 237.8 L475.9 238.2 L473.2 238.6 L470.5 239.1 L468 239.4 L467.8 239.5 L465.1 239.9 L462.4 240.4 L459.6 240.8 L456.9 241.3 L454.2 241.8 L453.1 242 L451.5 242.3 L448.8 242.8 L446.1 243.3 L443.4 243.8 L440.6 244.3 L439.9 244.5 L437.9 244.9 L435.2 245.5 L432.5 246.2 L432.5 247 L432.5 249.5 L432.5 252 L432.5 254.6 L432.5 257.1 L432.5 259.6 L432.5 262.1 L432.5 264.6 L432.5 267.1 L432.5 267.3 L432.7 267.1 L435.2 265.5 L436.5 264.6 L437.9 263.8 L440.6 262.4 L441.3 262.1 L443.4 261.2 L446.1 260.1 L447.3 259.6 L448.8 259.1 L451.5 258.1 L454.2 257.3 L454.8 257.1 L456.9 256.5 L459.6 255.7 L462.4 255 L463.9 254.6 L465.1 254.3 L467.8 253.6 L470.5 252.9 L473.2 252.3 L474.3 252 L475.9 251.7 L478.6 251.1 L481.4 250.5 L484.1 249.9 L485.9 249.5 L486.8 249.3 L489.5 248.8 L492.2 248.3 L494.9 247.8 L497.6 247.3 L499.2 247 L500.4 246.8 L503.1 246.4 L505.8 246 L508.5 245.6 L511.2 245.2 L513.9 244.8 L516.6 244.5 L516.8 244.5 L519.4 244.1 L522.1 243.7 L524.8 243.3 L527.5 242.9 L530.2 242.5 L532.9 242.2 L534.7 242 L535.6 241.8 L538.4 241.5 L541.1 241.2 L543.8 240.9 L546.5 240.6 L549.2 240.4 L551.9 240.1 L554.6 239.8 L557.4 239.6 L559.4 239.4 L560.1 239.4 L562.8 239.2 L565.5 239 L568.2 238.8 L570.9 238.6 L573.6 238.5 L576.4 238.3 L579.1 238.2 L581.8 238.1 L584.5 238 L587.2 238 L589.9 237.9 L592.6 237.9 L595.4 237.9 L598.1 237.9 L600.8 237.9 L603.5 237.9 L606.2 237.9 L608.9 238 L611.6 238 L614.4 238.1 L617.1 238.2 L619.8 238.2 L622.5 238.4 L625.2 238.5 L627.9 238.6 L630.6 238.8 L633.4 238.9 L636.1 239.1 L638.8 239.2 L641.5 239.4 L642 239.4 L644.2 239.6 L646.9 239.8 L649.6 239.9 L652.4 240.1 L655.1 240.3 L657.8 240.5 L660.5 240.7 L663.2 240.9 L665.9 241 L668.6 241.2 L671.4 241.4 L674.1 241.6 L676.8 241.8 L679.5 242 L679.6 242 L682.2 242.2 L684.9 242.4 L687.6 242.8 L690.4 243.4 L693.1 244 L694.8 244.5 L695.8 244.8 L698.5 245.6 L701.2 246.5 L702.9 247 L703.9 247.4 L706.6 248.3 L709.4 249.3 L710 249.5 L712.1 250.3 L714.8 251.4 L716.4 252 L717.5 252.5 L720.2 253.7 L722.1 254.6 L722.9 254.9 L725.6 256.3 L727.2 257.1 L728.4 257.8 L731.1 259.4 L731.3 259.6 L733.8 261.5 L734.4 262.1 L736.5 264.5 L736.6 264.6 L738.3 267.1 L739.2 268.9 L739.6 269.7 L740.8 272.2 L741.7 274.7 L741.9 275.4 L742.5 277.2 L743.1 279.7 L743.5 282.3 L743.9 284.8 L744.3 287.3 L744.6 289.8 L744.6 290.3 L744.8 292.3 L744.7 294.9 L744.6 295.1 L744.2 297.4 L743.3 299.9 L741.9 302.1 L741.8 302.4 L739.8 304.9 L739.2 305.6 L738 307.4 L736.5 309.1 L735.8 310 L733.8 311.6 L732.8 312.5 L731.1 313.4 L728.4 314.7 L727.7 315Z" fill="#3b9d5e" stroke="#3b9d5e" stroke-width="0.5" fill-rule="evenodd"/>
<path d="M437.8 312.5 L437.9 312.5 L440.6 313.2 L443.4 314.2 L445.2 315 L446.1 315 L448.8 315 L451.5 315 L454.2 315 L456.9 315 L459.6 315 L462.4 315 L465.1 315 L467.8 315 L470.5 315 L473.2 315 L475.9 315 L478.6 315 L481.4 315 L484.1 315 L486.8 315 L489.5 315 L492.2 315 L494.9 315 L497.6 315 L500.4 315 L503.1 315 L505.8 315 L508.5 315 L511.2 315 L513.9 315 L516.6 315 L519.4 315 L522.1 315 L524.8 315 L527.5 315 L530.2 315 L532.9 315 L535.6 315 L538.4 315 L541.1 315 L543.8 315 L546.5 315 L548.5 315 L546.5 314.9 L543.8 314.8 L541.1 314.6 L538.4 314.5 L535.6 314.4 L532.9 314.2 L530.2 314.1 L527.5 314 L524.8 313.8 L522.1 313.7 L519.4 313.5 L516.6 313.4 L513.9 313.2 L511.2 313 L508.5 312.7 L505.8 312.5 L505.7 312.5 L503.1 312.2 L500.4 312 L497.6 311.7 L494.9 311.5 L492.2 311.2 L489.5 311 L486.8 310.7 L484.1 310.4 L481.4 310.2 L479.2 310 L478.6 309.9 L475.9 309.7 L473.2 309.4 L470.5 309.2 L467.8 308.9 L465.1 308.7 L462.4 308.4 L459.6 308.2 L456.9 307.9 L454.2 307.7 L452 307.4 L451.5 307.4 L448.8 307.2 L446.1 306.9 L443.4 306.7 L440.6 306.4 L437.9 306.2 L435.2 305.8 L432.5 305.5 L432.5 307.4 L432.5 310 L432.5 310.4 L435.2 311.3 L437.8 312.5ZM432.5 244.5 L432.5 246.2 L435.2 245.5 L437.9 244.9 L439.9 244.5 L440.6 244.3 L443.4 243.8 L446.1 243.3 L448.8 242.8 L451.5 242.3 L453.1 242 L454.2 241.8 L456.9 241.3 L459.6 240.8 L462.4 240.4 L465.1 239.9 L467.8 239.5 L468 239.4 L470.5 239.1 L473.2 238.6 L475.9 238.2 L478.6 237.8 L481.4 237.4 L484.1 237 L484.4 236.9 L486.8 236.6 L489.5 236.2 L492.2 235.8 L494.9 235.5 L497.6 235.1 L500.4 234.8 L503.1 234.4 L503.4 234.4 L505.8 234.1 L508.5 233.8 L511.2 233.5 L513.9 233.2 L516.6 232.8 L519.4 232.5 L522.1 232.2 L524.8 231.9 L524.9 231.9 L527.5 231.6 L530.2 231.3 L532.9 231 L535.6 230.7 L538.4 230.4 L541.1 230.2 L543.8 229.9 L546.5 229.7 L549.2 229.4 L550 229.4 L551.9 229.2 L554.6 229 L557.4 228.8 L560.1 228.6 L562.8 228.4 L565.5 228.3 L568.2 228.1 L570.9 228 L573.6 227.9 L576.4 227.8 L579.1 227.7 L581.8 227.7 L584.5 227.6 L587.2 227.6 L589.9 227.6 L592.6 227.6 L595.4 227.6 L598.1 227.6 L600.8 227.6 L603.5 227.6 L606.2 227.6 L608.9 227.6 L611.6 227.6 L614.4 227.6 L617.1 227.6 L619.8 227.7 L622.5 227.7 L625.2 227.7 L627.9 227.8 L630.6 227.9 L633.4 227.9 L636.1 228 L638.8 228.1 L641.5 228.2 L644.2 228.3 L646.9 228.4 L649.6 228.5 L652.4 228.6 L655.1 228.8 L657.8 228.9 L660.5 229.1 L663.2 229.2 L665.7 229.4 L665.9 229.4 L668.6 229.6 L671.4 229.8 L674.1 230 L676.8 230.2 L679.5 230.5 L682.2 230.7 L684.9 231 L687.6 231.4 L690.4 231.6 L693.1 231.9 L693.3 231.9 L695.8 232.2 L698.5 232.5 L701.2 232.9 L703.9 233.3 L706.6 233.7 L709.4 234.2 L710.6 234.4 L712.1 234.7 L714.8 235.2 L717.5 235.7 L720.2 236.3 L722.9 236.8 L723.4 236.9 L725.6 237.4 L728.4 238 L731.1 238.7 L733.8 239.3 L734.2 239.4 L736.5 240 L739.2 240.8 L741.9 241.6 L743.1 242 L744.6 242.5 L747.4 243.4 L750.1 244.5 L750.1 244.5 L752.8 245.7 L755.5 247 L755.5 244.5 L755.5 242 L755.5 239.4 L755.5 236.9 L755.5 234.4 L755.5 231.9 L755.5 229.4 L755.5 228 L752.8 227.5 L750.1 227 L749.3 226.8 L747.4 226.5 L744.6 226.1 L741.9 225.7 L739.2 225.3 L736.5 224.9 L733.8 224.5 L732.8 224.3 L731.1 224.1 L728.4 223.7 L725.6 223.4 L722.9 223 L720.2 222.7 L717.5 222.4 L714.8 222.1 L712.4 221.8 L712.1 221.8 L709.4 221.5 L706.6 221.2 L703.9 221 L701.2 220.7 L698.5 220.5 L695.8 220.3 L693.1 220.1 L690.4 219.9 L687.6 219.7 L684.9 219.5 L682.8 219.3 L682.2 219.2 L679.5 219 L676.8 218.8 L674.1 218.6 L671.4 218.5 L668.6 218.3 L665.9 218.1 L663.2 218 L660.5 217.8 L657.8 217.7 L655.1 217.6 L652.4 217.5 L649.6 217.4 L646.9 217.3 L644.2 217.2 L641.5 217.1 L638.8 217.1 L636.1 217.1 L633.4 217 L630.6 217 L627.9 217 L625.2 217 L622.5 217 L619.8 217 L617.1 217 L614.4 217 L611.6 217 L608.9 217 L606.2 216.9 L603.5 216.9 L600.8 216.9 L598.1 216.9 L595.4 217 L592.6 217 L589.9 217 L587.2 217 L584.5 217 L581.8 217.1 L579.1 217.1 L576.4 217.2 L573.6 217.2 L570.9 217.3 L568.2 217.4 L565.5 217.5 L562.8 217.7 L560.1 217.8 L557.4 218 L554.6 218.1 L551.9 218.3 L549.2 218.5 L546.5 218.7 L543.8 219 L541.1 219.2 L539.9 219.3 L538.4 219.4 L535.6 219.7 L532.9 219.9 L530.2 220.2 L527.5 220.4 L524.8 220.6 L522.1 220.9 L519.4 221.1 L516.6 221.4 L513.9 221.7 L512.4 221.8 L511.2 221.9 L508.5 222.2 L505.8 222.5 L503.1 222.8 L500.4 223.1 L497.6 223.4 L494.9 223.7 L492.2 224 L489.5 224.3 L489.2 224.3 L486.8 224.6 L484.1 224.9 L481.4 225.3 L478.6 225.6 L475.9 226 L473.2 226.3 L470.5 226.7 L469.1 226.8 L467.8 227 L465.1 227.4 L462.4 227.8 L459.6 228.2 L456.9 228.6 L454.2 228.9 L451.5 229.3 L451.4 229.4 L448.8 229.8 L446.1 230.2 L443.4 230.6 L440.6 231 L437.9 231.3 L435.2 231.7 L434.2 231.9 L432.5 232.2 L432.5 234.4 L432.5 236.9 L432.5 239.4 L432.5 242 L432.5 244.5Z" fill="#4ea75e" stroke="#4ea75e" stroke-width="0.5" fill-rule="evenodd"/>
<path d="M432.5 231.9 L432.5 232.2 L434.2 231.9 L435.2 231.7 L437.9 231.3 L440.6 231 L443.4 230.6 L446.1 230.2 L448.8 229.8 L451.4 229.4 L451.5 229.3 L454.2 228.9 L456.9 228.6 L459.6 228.2 L462.4 227.8 L465.1 227.4 L467.8 227 L469.1 226.8 L470.5 226.7 L473.2 226.3 L475.9 226 L478.6 225.6 L481.4 225.3 L484.1 224.9 L486.8 224.6 L489.2 224.3 L489.5 224.3 L492.2 224 L494.9 223.7 L497.6 223.4 L500.4 223.1 L503.1 222.8 L505.8 222.5 L508.5 222.2 L511.2 221.9 L512.4 221.8 L513.9 221.7 L516.6 221.4 L519.4 221.1 L522.1 220.9 L524.8 220.6 L527.5 220.4 L530.2 220.2 L532.9 219.9 L535.6 219.7 L538.4 219.4 L539.9 219.3 L541.1 219.2 L543.8 219 L546.5 218.7 L549.2 218.5 L551.9 218.3 L554.6 218.1 L557.4 218 L560.1 217.8 L562.8 217.7 L565.5 217.5 L568.2 217.4 L570.9 217.3 L573.6 217.2 L576.4 217.2 L579.1 217.1 L581.8 217.1 L584.5 217 L587.2 217 L589.9 217 L592.6 217 L595.4 217 L598.1 216.9 L600.8 216.9 L603.5 216.9 L606.2 216.9 L608.9 217 L611.6 217 L614.4 217 L617.1 217 L619.8 217 L622.5 217 L625.2 217 L627.9 217 L630.6 217 L633.4 217 L636.1 217.1 L638.8 217.1 L641.5 217.1 L644.2 217.2 L646.9 217.3 L649.6 217.4 L652.4 217.5 L655.1 217.6 L657.8 217.7 L660.5 217.8 L663.2 218 L665.9 218.1 L668.6 218.3 L671.4 218.5 L674.1 218.6 L676.8 218.8 L679.5 219 L682.2 219.2 L682.8 219.3 L684.9 219.5 L687.6 219.7 L690.4 219.9 L693.1 220.1 L695.8 220.3 L698.5 220.5 L701.2 220.7 L703.9 221 L706.6 221.2 L709.4 221.5 L712.1 221.8 L712.4 221.8 L714.8 222.1 L717.5 222.4 L720.2 222.7 L722.9 223 L725.6 223.4 L728.4 223.7 L731.1 224.1 L732.8 224.3 L733.8 224.5 L736.5 224.9 L739.2 225.3 L741.9 225.7 L744.6 226.1 L747.4 226.5 L749.3 226.8 L750.1 227 L752.8 227.5 L755.5 228 L755.5 226.8 L755.5 224.3 L755.5 221.8 L755.5 219.3 L755.5 216.8 L755.5 214.3 L755.5 213.5 L752.8 213.2 L750.1 212.9 L747.4 212.7 L744.6 212.4 L741.9 212.1 L739.2 211.8 L738.5 211.7 L736.5 211.5 L733.8 211.3 L731.1 211 L728.4 210.7 L725.6 210.5 L722.9 210.2 L720.2 210 L717.5 209.8 L714.8 209.5 L712.1 209.3 L710.5 209.2 L709.4 209.1 L706.6 208.9 L703.9 208.7 L701.2 208.6 L698.5 208.4 L695.8 208.2 L693.1 208.1 L690.4 207.9 L687.6 207.7 L684.9 207.6 L682.2 207.4 L679.5 207.3 L676.8 207.1 L674.1 207 L671.4 206.8 L669 206.7 L668.6 206.7 L665.9 206.5 L663.2 206.4 L660.5 206.3 L657.8 206.2 L655.1 206.1 L652.4 206 L649.6 205.9 L646.9 205.9 L644.2 205.8 L641.5 205.8 L638.8 205.7 L636.1 205.7 L633.4 205.7 L630.6 205.7 L627.9 205.7 L625.2 205.7 L622.5 205.8 L619.8 205.8 L617.1 205.8 L614.4 205.9 L611.6 205.9 L608.9 206 L606.2 206 L603.5 206 L600.8 206 L598.1 206 L595.4 205.9 L592.6 205.9 L589.9 205.9 L587.2 205.9 L584.5 205.9 L581.8 205.9 L579.1 206 L576.4 206 L573.6 206.1 L570.9 206.1 L568.2 206.2 L565.5 206.3 L562.8 206.5 L560.1 206.6 L557.9 206.7 L557.4 206.7 L554.6 206.9 L551.9 207 L549.2 207.2 L546.5 207.4 L543.8 207.6 L541.1 207.8 L538.4 208 L535.6 208.3 L532.9 208.5 L530.2 208.7 L527.5 209 L525.2 209.2 L524.8 209.3 L522.1 209.5 L519.4 209.8 L516.6 210 L513.9 210.2 L511.2 210.4 L508.5 210.5 L505.8 210.7 L503.1 211 L500.4 211.2 L497.6 211.4 L494.9 211.7 L494.5 211.7 L492.2 212 L489.5 212.2 L486.8 212.5 L484.1 212.8 L481.4 213.1 L478.6 213.4 L475.9 213.7 L473.2 214 L471.2 214.3 L470.5 214.3 L467.8 214.7 L465.1 215 L462.4 215.3 L459.6 215.7 L456.9 216 L454.2 216.4 L451.9 216.8 L451.5 216.8 L448.8 217.3 L446.1 217.7 L443.4 218.2 L440.6 218.6 L437.9 219.1 L436.9 219.3 L435.2 219.6 L432.5 220 L432.5 221.8 L432.5 224.3 L432.5 226.8 L432.5 229.4 L432.5 231.9Z" fill="#62b15e" stroke="#62b15e" stroke-width="0.5" fill-rule="evenodd"/>
<path d="M432.5 219.3 L432.5 220 L435.2 219.6 L436.9 219.3 L437.9 219.1 L440.6 218.6 L443.4 218.2 L446.1 217.7 L448.8 217.3 L451.5 216.8 L451.9 216.8 L454.2 216.4 L456.9 216 L459.6 215.7 L462.4 215.3 L465.1 215 L467.8 214.7 L470.5 214.3 L471.2 214.3 L473.2 214 L475.9 213.7 L478.6 213.4 L481.4 213.1 L484.1 212.8 L486.8 212.5 L489.5 212.2 L492.2 212 L494.5 211.7 L494.9 211.7 L497.6 211.4 L500.4 211.2 L503.1 211 L505.8 210.7 L508.5 210.5 L511.2 210.4 L513.9 210.2 L516.6 210 L519.4 209.8 L522.1 209.5 L524.8 209.3 L525.2 209.2 L527.5 209 L530.2 208.7 L532.9 208.5 L535.6 208.3 L538.4 208 L541.1 207.8 L543.8 207.6 L546.5 207.4 L549.2 207.2 L551.9 207 L554.6 206.9 L557.4 206.7 L557.9 206.7 L560.1 206.6 L562.8 206.5 L565.5 206.3 L568.2 206.2 L570.9 206.1 L573.6 206.1 L576.4 206 L579.1 206 L581.8 205.9 L584.5 205.9 L587.2 205.9 L589.9 205.9 L592.6 205.9 L595.4 205.9 L598.1 206 L600.8 206 L603.5 206 L606.2 206 L608.9 206 L611.6 205.9 L614.4 205.9 L617.1 205.8 L619.8 205.8 L622.5 205.8 L625.2 205.7 L627.9 205.7 L630.6 205.7 L633.4 205.7 L636.1 205.7 L638.8 205.7 L641.5 205.8 L644.2 205.8 L646.9 205.9 L649.6 205.9 L652.4 206 L655.1 206.1 L657.8 206.2 L660.5 206.3 L663.2 206.4 L665.9 206.5 L668.6 206.7 L669 206.7 L671.4 206.8 L674.1 207 L676.8 207.1 L679.5 207.3 L682.2 207.4 L684.9 207.6 L687.6 207.7 L690.4 207.9 L693.1 208.1 L695.8 208.2 L698.5 208.4 L701.2 208.6 L703.9 208.7 L706.6 208.9 L709.4 209.1 L710.5 209.2 L712.1 209.3 L714.8 209.5 L717.5 209.8 L720.2 210 L722.9 210.2 L725.6 210.5 L728.4 210.7 L731.1 211 L733.8 211.3 L736.5 211.5 L738.5 211.7 L739.2 211.8 L741.9 212.1 L744.6 212.4 L747.4 212.7 L750.1 212.9 L752.8 213.2 L755.5 213.5 L755.5 211.7 L755.5 209.2 L755.5 206.7 L755.5 204.2 L755.5 201.7 L755.5 199.8 L752.8 199.6 L750.1 199.4 L747.4 199.2 L746.3 199.1 L744.6 199 L741.9 198.8 L739.2 198.6 L736.5 198.3 L733.8 198.1 L731.1 197.9 L728.4 197.7 L725.6 197.4 L722.9 197.2 L720.2 197 L717.5 196.8 L714.8 196.6 L714.6 196.6 L712.1 196.4 L709.4 196.3 L706.6 196.1 L703.9 195.9 L701.2 195.7 L698.5 195.6 L695.8 195.5 L693.1 195.3 L690.4 195.2 L687.6 195.1 L684.9 195 L682.2 194.9 L679.5 194.8 L676.8 194.6 L674.1 194.5 L671.4 194.4 L668.6 194.3 L665.9 194.2 L663.9 194.1 L663.2 194.1 L660.5 194 L657.8 193.9 L655.1 193.8 L652.4 193.7 L649.6 193.7 L646.9 193.6 L644.2 193.6 L641.5 193.6 L638.8 193.6 L636.1 193.6 L633.4 193.6 L630.6 193.6 L627.9 193.6 L625.2 193.6 L622.5 193.6 L619.8 193.7 L617.1 193.7 L614.4 193.7 L611.6 193.8 L608.9 193.8 L606.2 193.8 L603.5 193.8 L600.8 193.8 L598.1 193.7 L595.4 193.7 L592.6 193.7 L589.9 193.7 L587.2 193.8 L584.5 193.8 L581.8 193.9 L579.1 193.9 L576.4 194 L573.6 194.1 L572.6 194.1 L570.9 194.2 L568.2 194.3 L565.5 194.4 L562.8 194.5 L560.1 194.6 L557.4 194.7 L554.6 194.8 L551.9 195 L549.2 195.1 L546.5 195.3 L543.8 195.5 L541.1 195.7 L538.4 195.8 L535.6 196 L532.9 196.2 L530.2 196.4 L527.5 196.6 L526.5 196.6 L524.8 196.7 L522.1 196.9 L519.4 197.1 L516.6 197.2 L513.9 197.4 L511.2 197.6 L508.5 197.8 L505.8 198 L503.1 198.2 L500.4 198.4 L497.6 198.7 L494.9 198.9 L492.2 199.1 L492.1 199.1 L489.5 199.4 L486.8 199.6 L484.1 199.9 L481.4 200.1 L478.6 200.4 L475.9 200.7 L473.2 201 L470.5 201.3 L467.8 201.5 L466.2 201.7 L465.1 201.8 L462.4 202 L459.6 202.3 L456.9 202.6 L454.2 202.9 L451.5 203.2 L448.8 203.6 L446.1 203.9 L444.2 204.2 L443.4 204.3 L440.6 204.7 L437.9 205.2 L435.2 205.6 L432.5 206.1 L432.5 206.7 L432.5 209.2 L432.5 211.7 L432.5 214.3 L432.5 216.8 L432.5 219.3Z" fill="#76ba5e" stroke="#76ba5e" stroke-width="0.5" fill-rule="evenodd"/>
<path d="M432.5 204.2 L432.5 206.1 L435.2 205.6 L437.9 205.2 L440.6 204.7 L443.4 204.3 L444.2 204.2 L446.1 203.9 L448.8 203.6 L451.5 203.2 L454.2 202.9 L456.9 202.6 L459.6 202.3 L462.4 202 L465.1 201.8 L466.2 201.7 L467.8 201.5 L470.5 201.3 L473.2 201 L475.9 200.7 L478.6 200.4 L481.4 200.1 L484.1 199.9 L486.8 199.6 L489.5 199.4 L492.1 199.1 L492.2 199.1 L494.9 198.9 L497.6 198.7 L500.4 198.4 L503.1 198.2 L505.8 198 L508.5 197.8 L511.2 197.6 L513.9 197.4 L516.6 197.2 L519.4 197.1 L522.1 196.9 L524.8 196.7 L526.5 196.6 L527.5 196.6 L530.2 196.4 L532.9 196.2 L535.6 196 L538.4 195.8 L541.1 195.7 L543.8 195.5 L546.5 195.3 L549.2 195.1 L551.9 195 L554.6 194.8 L557.4 194.7 L560.1 194.6 L562.8 194.5 L565.5 194.4 L568.2 194.3 L570.9 194.2 L572.6 194.1 L573.6 194.1 L576.4 194 L579.1 193.9 L581.8 193.9 L584.5 193.8 L587.2 193.8 L589.9 193.7 L592.6 193.7 L595.4 193.7 L598.1 193.7 L600.8 193.8 L603.5 193.8 L606.2 193.8 L608.9 193.8 L611.6 193.8 L614.4 193.7 L617.1 193.7 L619.8 193.7 L622.5 193.6 L625.2 193.6 L627.9 193.6 L630.6 193.6 L633.4 193.6 L636.1 193.6 L638.8 193.6 L641.5 193.6 L644.2 193.6 L646.9 193.6 L649.6 193.7 L652.4 193.7 L655.1 193.8 L657.8 193.9 L660.5 194 L663.2 194.1 L663.9 194.1 L665.9 194.2 L668.6 194.3 L671.4 194.4 L674.1 194.5 L676.8 194.6 L679.5 194.8 L682.2 194.9 L684.9 195 L687.6 195.1 L690.4 195.2 L693.1 195.3 L695.8 195.5 L698.5 195.6 L701.2 195.7 L703.9 195.9 L706.6 196.1 L709.4 196.3 L712.1 196.4 L714.6 196.6 L714.8 196.6 L717.5 196.8 L720.2 197 L722.9 197.2 L725.6 197.4 L728.4 197.7 L731.1 197.9 L733.8 198.1 L736.5 198.3 L739.2 198.6 L741.9 198.8 L744.6 199 L746.3 199.1 L747.4 199.2 L750.1 199.4 L752.8 199.6 L755.5 199.8 L755.5 199.1 L755.5 196.6 L755.5 194.1 L755.5 191.6 L755.5 189.1 L755.5 186.6 L755.5 185.4 L752.8 185.3 L750.1 185.2 L747.4 185 L744.6 184.8 L741.9 184.6 L739.2 184.4 L736.5 184.2 L734.8 184 L733.8 183.9 L731.1 183.7 L728.4 183.5 L725.6 183.2 L722.9 183 L720.2 182.8 L717.5 182.6 L714.8 182.4 L712.1 182.2 L709.4 182.1 L706.6 181.9 L703.9 181.8 L701.2 181.6 L698.8 181.5 L698.5 181.5 L695.8 181.4 L693.1 181.3 L690.4 181.2 L687.6 181.1 L684.9 181 L682.2 180.9 L679.5 180.8 L676.8 180.7 L674.1 180.6 L671.4 180.5 L668.6 180.4 L665.9 180.4 L663.2 180.3 L660.5 180.2 L657.8 180.1 L655.1 180.1 L652.4 180.1 L649.6 180 L646.9 180 L644.2 180 L641.5 180 L638.8 180 L636.1 180 L633.4 180 L630.6 180 L627.9 180 L625.2 180 L622.5 180 L619.8 180 L617.1 180.1 L614.4 180.1 L611.6 180.1 L608.9 180.2 L606.2 180.2 L603.5 180.2 L600.8 180.3 L598.1 180.3 L595.4 180.4 L592.6 180.4 L589.9 180.4 L587.2 180.4 L584.5 180.5 L581.8 180.5 L579.1 180.6 L576.4 180.7 L573.6 180.8 L570.9 180.9 L568.2 181 L565.5 181.1 L562.8 181.2 L560.1 181.4 L557.4 181.5 L557.3 181.5 L554.6 181.7 L551.9 181.8 L549.2 181.9 L546.5 182 L543.8 182.2 L541.1 182.3 L538.4 182.4 L535.6 182.6 L532.9 182.7 L530.2 182.9 L527.5 183 L524.8 183.2 L522.1 183.3 L519.4 183.5 L516.6 183.6 L513.9 183.8 L511.2 184 L510.3 184 L508.5 184.2 L505.8 184.4 L503.1 184.6 L500.4 184.8 L497.6 185 L494.9 185.2 L492.2 185.4 L489.5 185.6 L486.8 185.8 L484.1 185.9 L481.4 186.1 L478.6 186.3 L475.9 186.5 L474.9 186.6 L473.2 186.7 L470.5 186.9 L467.8 187.2 L465.1 187.5 L462.4 187.8 L459.6 188.1 L456.9 188.4 L454.2 188.6 L451.5 188.9 L448.8 189.1 L448.7 189.1 L446.1 189.3 L443.4 189.4 L440.6 189.6 L437.9 189.8 L435.2 190 L432.5 190.3 L432.5 191.6 L432.5 194.1 L432.5 196.6 L432.5 199.1 L432.5 201.7 L432.5 204.2Z" fill="#89c45e" stroke="#89c45e" stroke-width="0.5" fill-rule="evenodd"/>
<path d="M432.5 189.1 L432.5 190.3 L435.2 190 L437.9 189.8 L440.6 189.6 L443.4 189.4 L446.1 189.3 L448.7 189.1 L448.8 189.1 L451.5 188.9 L454.2 188.6 L456.9 188.4 L459.6 188.1 L462.4 187.8 L465.1 187.5 L467.8 187.2 L470.5 186.9 L473.2 186.7 L474.9 186.6 L475.9 186.5 L478.6 186.3 L481.4 186.1 L484.1 185.9 L486.8 185.8 L489.5 185.6 L492.2 185.4 L494.9 185.2 L497.6 185 L500.4 184.8 L503.1 184.6 L505.8 184.4 L508.5 184.2 L510.3 184 L511.2 184 L513.9 183.8 L516.6 183.6 L519.4 183.5 L522.1 183.3 L524.8 183.2 L527.5 183 L530.2 182.9 L532.9 182.7 L535.6 182.6 L538.4 182.4 L541.1 182.3 L543.8 182.2 L546.5 182 L549.2 181.9 L551.9 181.8 L554.6 181.7 L557.3 181.5 L557.4 181.5 L560.1 181.4 L562.8 181.2 L565.5 181.1 L568.2 181 L570.9 180.9 L573.6 180.8 L576.4 180.7 L579.1 180.6 L581.8 180.5 L584.5 180.5 L587.2 180.4 L589.9 180.4 L592.6 180.4 L595.4 180.4 L598.1 180.3 L600.8 180.3 L603.5 180.2 L606.2 180.2 L608.9 180.2 L611.6 180.1 L614.4 180.1 L617.1 180.1 L619.8 180 L622.5 180 L625.2 180 L627.9 180 L630.6 180 L633.4 180 L636.1 180 L638.8 180 L641.5 180 L644.2 180 L646.9 180 L649.6 180 L652.4 180.1 L655.1 180.1 L657.8 180.1 L660.5 180.2 L663.2 180.3 L665.9 180.4 L668.6 180.4 L671.4 180.5 L674.1 180.6 L676.8 180.7 L679.5 180.8 L682.2 180.9 L684.9 181 L687.6 181.1 L690.4 181.2 L693.1 181.3 L695.8 181.4 L698.5 181.5 L698.8 181.5 L701.2 181.6 L703.9 181.8 L706.6 181.9 L709.4 182.1 L712.1 182.2 L714.8 182.4 L717.5 182.6 L720.2 182.8 L722.9 183 L725.6 183.2 L728.4 183.5 L731.1 183.7 L733.8 183.9 L734.8 184 L736.5 184.2 L739.2 184.4 L741.9 184.6 L744.6 184.8 L747.4 185 L750.1 185.2 L752.8 185.3 L755.5 185.4 L755.5 184 L755.5 181.5 L755.5 179 L755.5 176.5 L755.5 174 L755.5 171.4 L755.5 168.9 L754.8 168.9 L752.8 168.9 L750.1 168.8 L747.4 168.6 L744.6 168.5 L741.9 168.3 L739.2 168.1 L736.5 167.9 L733.8 167.7 L731.1 167.4 L728.4 167.2 L725.6 167 L722.9 166.8 L720.2 166.6 L717.6 166.4 L717.5 166.4 L714.8 166.2 L712.1 166 L709.4 165.9 L706.6 165.8 L703.9 165.6 L701.2 165.5 L698.5 165.4 L695.8 165.3 L693.1 165.2 L690.4 165.1 L687.6 165 L684.9 164.9 L682.2 164.8 L679.5 164.7 L676.8 164.6 L674.1 164.5 L671.4 164.5 L668.6 164.4 L665.9 164.4 L663.2 164.3 L660.5 164.3 L657.8 164.2 L655.1 164.2 L652.4 164.1 L649.6 164.1 L646.9 164.1 L644.2 164 L641.5 164 L638.8 164 L636.1 164 L633.4 164 L630.6 164 L627.9 164 L625.2 164 L622.5 164.1 L619.8 164.1 L617.1 164.1 L614.4 164.1 L611.6 164.2 L608.9 164.2 L606.2 164.3 L603.5 164.3 L600.8 164.3 L598.1 164.4 L595.4 164.4 L592.6 164.5 L589.9 164.6 L587.2 164.6 L584.5 164.7 L581.8 164.8 L579.1 164.9 L576.4 165 L573.6 165.1 L570.9 165.2 L568.2 165.3 L565.5 165.4 L562.8 165.6 L560.1 165.7 L557.4 165.8 L554.6 166 L551.9 166.1 L549.2 166.3 L546.7 166.4 L546.5 166.4 L543.8 166.6 L541.1 166.7 L538.4 166.9 L535.6 167 L532.9 167.2 L530.2 167.4 L527.5 167.6 L524.8 167.8 L522.1 168 L519.4 168.2 L516.6 168.4 L513.9 168.6 L511.2 168.8 L509.7 168.9 L508.5 169 L505.8 169.2 L503.1 169.4 L500.4 169.6 L497.6 169.8 L494.9 170 L492.2 170.2 L489.5 170.5 L486.8 170.8 L484.1 171.1 L481.4 171.4 L481.1 171.4 L478.6 171.7 L475.9 172 L473.2 172.3 L470.5 172.6 L467.8 172.8 L465.1 173.1 L462.4 173.3 L459.6 173.6 L456.9 173.9 L456.5 174 L454.2 174.2 L451.5 174.5 L448.8 174.9 L446.1 175.2 L443.4 175.6 L440.6 176 L437.9 176.4 L437.3 176.5 L435.2 176.8 L432.5 177.2 L432.5 179 L432.5 181.5 L432.5 184 L432.5 186.6 L432.5 189.1Z" fill="#9dce5e" stroke="#9dce5e" stroke-width="0.5" fill-rule="evenodd"/>
<path d="M432.5 176.5 L432.5 177.2 L435.2 176.8 L437.3 176.5 L437.9 176.4 L440.6 176 L443.4 175.6 L446.1 175.2 L448.8 174.9 L451.5 174.5 L454.2 174.2 L456.5 174 L456.9 173.9 L459.6 173.6 L462.4 173.3 L465.1 173.1 L467.8 172.8 L470.5 172.6 L473.2 172.3 L475.9 172 L478.6 171.7 L481.1 171.4 L481.4 171.4 L484.1 171.1 L486.8 170.8 L489.5 170.5 L492.2 170.2 L494.9 170 L497.6 169.8 L500.4 169.6 L503.1 169.4 L505.8 169.2 L508.5 169 L509.7 168.9 L511.2 168.8 L513.9 168.6 L516.6 168.4 L519.4 168.2 L522.1 168 L524.8 167.8 L527.5 167.6 L530.2 167.4 L532.9 167.2 L535.6 167 L538.4 166.9 L541.1 166.7 L543.8 166.6 L546.5 166.4 L546.7 166.4 L549.2 166.3 L551.9 166.1 L554.6 166 L557.4 165.8 L560.1 165.7 L562.8 165.6 L565.5 165.4 L568.2 165.3 L570.9 165.2 L573.6 165.1 L576.4 165 L579.1 164.9 L581.8 164.8 L584.5 164.7 L587.2 164.6 L589.9 164.6 L592.6 164.5 L595.4 164.4 L598.1 164.4 L600.8 164.3 L603.5 164.3 L606.2 164.3 L608.9 164.2 L611.6 164.2 L614.4 164.1 L617.1 164.1 L619.8 164.1 L622.5 164.1 L625.2 164 L627.9 164 L630.6 164 L633.4 164 L636.1 164 L638.8 164 L641.5 164 L644.2 164 L646.9 164.1 L649.6 164.1 L652.4 164.1 L655.1 164.2 L657.8 164.2 L660.5 164.3 L663.2 164.3 L665.9 164.4 L668.6 164.4 L671.4 164.5 L674.1 164.5 L676.8 164.6 L679.5 164.7 L682.2 164.8 L684.9 164.9 L687.6 165 L690.4 165.1 L693.1 165.2 L695.8 165.3 L698.5 165.4 L701.2 165.5 L703.9 165.6 L706.6 165.8 L709.4 165.9 L712.1 166 L714.8 166.2 L717.5 166.4 L717.6 166.4 L720.2 166.6 L722.9 166.8 L725.6 167 L728.4 167.2 L731.1 167.4 L733.8 167.7 L736.5 167.9 L739.2 168.1 L741.9 168.3 L744.6 168.5 L747.4 168.6 L750.1 168.8 L752.8 168.9 L754.8 168.9 L755.5 168.9 L755.5 168.9 L755.5 166.4 L755.5 163.9 L755.5 161.4 L755.5 158.8 L755.5 156.3 L755.5 153.8 L755.5 151.3 L755.5 148.8 L755.5 148 L752.8 148 L750.1 147.9 L747.4 147.8 L744.6 147.8 L741.9 147.7 L739.2 147.5 L736.5 147.4 L733.8 147.3 L731.1 147.2 L728.4 147.1 L725.6 147 L722.9 146.9 L720.2 146.8 L717.5 146.7 L714.8 146.6 L712.1 146.5 L709.4 146.3 L707.2 146.3 L706.6 146.2 L703.9 146.1 L701.2 146 L698.5 145.9 L695.8 145.8 L693.1 145.8 L690.4 145.7 L687.6 145.6 L684.9 145.6 L682.2 145.5 L679.5 145.4 L676.8 145.4 L674.1 145.3 L671.4 145.3 L668.6 145.2 L665.9 145.1 L663.2 145.1 L660.5 145 L657.8 144.9 L655.1 144.9 L652.4 144.8 L649.6 144.8 L646.9 144.8 L644.2 144.7 L641.5 144.7 L638.8 144.7 L636.1 144.7 L633.4 144.6 L630.6 144.6 L627.9 144.6 L625.2 144.6 L622.5 144.6 L619.8 144.6 L617.1 144.6 L614.4 144.6 L611.6 144.6 L608.9 144.6 L606.2 144.7 L603.5 144.7 L600.8 144.7 L598.1 144.8 L595.4 144.8 L592.6 144.8 L589.9 144.9 L587.2 145 L584.5 145 L581.8 145.1 L579.1 145.2 L576.4 145.3 L573.6 145.3 L570.9 145.4 L568.2 145.5 L565.5 145.6 L562.8 145.8 L560.1 145.9 L557.4 146 L554.6 146.1 L552.6 146.3 L551.9 146.3 L549.2 146.4 L546.5 146.6 L543.8 146.8 L541.1 146.9 L538.4 147.1 L535.6 147.3 L532.9 147.5 L530.2 147.7 L527.5 147.9 L524.8 148.1 L522.1 148.3 L519.4 148.6 L516.8 148.8 L516.6 148.8 L513.9 149 L511.2 149.3 L508.5 149.5 L505.8 149.8 L503.1 150.1 L500.4 150.4 L497.6 150.7 L494.9 151 L492.3 151.3 L492.2 151.3 L489.5 151.6 L486.8 151.9 L484.1 152.3 L481.4 152.7 L478.6 153 L475.9 153.4 L473.3 153.8 L473.2 153.8 L470.5 154.2 L467.8 154.7 L465.1 155.1 L462.4 155.6 L459.6 156.1 L458.1 156.3 L456.9 156.5 L454.2 157 L451.5 157.5 L448.8 157.9 L446.1 158.4 L443.7 158.8 L443.4 158.9 L440.6 159.4 L437.9 159.9 L435.2 160.3 L432.5 160.8 L432.5 161.4 L432.5 163.9 L432.5 166.4 L432.5 168.9 L432.5 171.4 L432.5 174 L432.5 176.5Z" fill="#b1d85e" stroke="#b1d85e" stroke-width="0.5" fill-rule="evenodd"/>
<path d="M432.5 158.8 L432.5 160.8 L435.2 160.3 L437.9 159.9 L440.6 159.4 L443.4 158.9 L443.7 158.8 L446.1 158.4 L448.8 157.9 L451.5 157.5 L454.2 157 L456.9 156.5 L458.1 156.3 L459.6 156.1 L462.4 155.6 L465.1 155.1 L467.8 154.7 L470.5 154.2 L473.2 153.8 L473.3 153.8 L475.9 153.4 L478.6 153 L481.4 152.7 L484.1 152.3 L486.8 151.9 L489.5 151.6 L492.2 151.3 L492.3 151.3 L494.9 151 L497.6 150.7 L500.4 150.4 L503.1 150.1 L505.8 149.8 L508.5 149.5 L511.2 149.3 L513.9 149 L516.6 148.8 L516.8 148.8 L519.4 148.6 L522.1 148.3 L524.8 148.1 L527.5 147.9 L530.2 147.7 L532.9 147.5 L535.6 147.3 L538.4 147.1 L541.1 146.9 L543.8 146.8 L546.5 146.6 L549.2 146.4 L551.9 146.3 L552.6 146.3 L554.6 146.1 L557.4 146 L560.1 145.9 L562.8 145.8 L565.5 145.6 L568.2 145.5 L570.9 145.4 L573.6 145.3 L576.4 145.3 L579.1 145.2 L581.8 145.1 L584.5 145 L587.2 145 L589.9 144.9 L592.6 144.8 L595.4 144.8 L598.1 144.8 L600.8 144.7 L603.5 144.7 L606.2 144.7 L608.9 144.6 L611.6 144.6 L614.4 144.6 L617.1 144.6 L619.8 144.6 L622.5 144.6 L625.2 144.6 L627.9 144.6 L630.6 144.6 L633.4 144.6 L636.1 144.7 L638.8 144.7 L641.5 144.7 L644.2 144.7 L646.9 144.8 L649.6 144.8 L652.4 144.8 L655.1 144.9 L657.8 144.9 L660.5 145 L663.2 145.1 L665.9 145.1 L668.6 145.2 L671.4 145.3 L674.1 145.3 L676.8 145.4 L679.5 145.4 L682.2 145.5 L684.9 145.6 L687.6 145.6 L690.4 145.7 L693.1 145.8 L695.8 145.8 L698.5 145.9 L701.2 146 L703.9 146.1 L706.6 146.2 L707.2 146.3 L709.4 146.3 L712.1 146.5 L714.8 146.6 L717.5 146.7 L720.2 146.8 L722.9 146.9 L725.6 147 L728.4 147.1 L731.1 147.2 L733.8 147.3 L736.5 147.4 L739.2 147.5 L741.9 147.7 L744.6 147.8 L747.4 147.8 L750.1 147.9 L752.8 148 L755.5 148 L755.5 146.3 L755.5 143.7 L755.5 141.2 L755.5 138.7 L755.5 136.2 L755.5 133.7 L755.5 131.1 L755.5 128.6 L755.5 126.1 L755.5 123.6 L755.5 121.1 L755.5 118.9 L752.8 118.9 L750.1 118.9 L747.4 118.9 L744.6 119 L741.9 119.1 L739.2 119.2 L736.5 119.2 L733.8 119.3 L731.1 119.3 L728.4 119.4 L725.6 119.4 L722.9 119.4 L720.2 119.4 L717.5 119.4 L714.8 119.5 L712.1 119.5 L709.4 119.5 L706.6 119.6 L703.9 119.6 L701.2 119.6 L698.5 119.6 L695.8 119.6 L693.1 119.6 L690.4 119.6 L687.6 119.6 L684.9 119.5 L682.2 119.5 L679.5 119.4 L676.8 119.4 L674.1 119.3 L671.4 119.3 L668.6 119.3 L665.9 119.3 L663.2 119.4 L660.5 119.4 L657.8 119.3 L655.1 119.3 L652.4 119.3 L649.6 119.3 L646.9 119.2 L644.2 119.2 L641.5 119.1 L638.8 119.1 L636.1 119.1 L633.4 119 L630.6 119.1 L627.9 119.1 L625.2 119.1 L622.5 119.2 L619.8 119.2 L617.1 119.2 L614.4 119.3 L611.6 119.3 L608.9 119.3 L606.2 119.3 L603.5 119.3 L600.8 119.3 L598.1 119.3 L595.4 119.3 L592.6 119.3 L589.9 119.4 L587.2 119.5 L584.5 119.7 L581.8 119.8 L579.1 119.9 L576.4 120 L573.6 120.1 L570.9 120.2 L568.2 120.3 L565.5 120.4 L562.8 120.4 L560.1 120.5 L557.4 120.6 L554.6 120.7 L551.9 120.9 L549.9 121.1 L549.2 121.1 L546.5 121.4 L543.8 121.6 L541.1 121.9 L538.4 122.1 L535.6 122.3 L532.9 122.6 L530.2 122.8 L527.5 123 L524.8 123.2 L522.1 123.4 L519.7 123.6 L519.4 123.6 L516.6 123.8 L513.9 124.1 L511.2 124.4 L508.5 124.8 L505.8 125.2 L503.1 125.6 L500.4 126 L499.8 126.1 L497.6 126.4 L494.9 126.8 L492.2 127.2 L489.5 127.6 L486.8 128 L484.1 128.4 L482.5 128.6 L481.4 128.8 L478.6 129.2 L475.9 129.6 L473.2 130.1 L470.5 130.6 L468.1 131.1 L467.8 131.2 L465.1 131.8 L462.4 132.5 L459.6 133.1 L457.5 133.7 L456.9 133.8 L454.2 134.4 L451.5 135.1 L448.8 135.7 L446.7 136.2 L446.1 136.3 L443.4 136.9 L440.6 137.5 L437.9 138.1 L435.2 138.6 L435 138.7 L432.5 139.2 L432.5 141.2 L432.5 143.7 L432.5 146.3 L432.5 148.8 L432.5 151.3 L432.5 153.8 L432.5 156.3 L432.5 158.8Z" fill="#c4e25e" stroke="#c4e25e" stroke-width="0.5" fill-rule="evenodd"/>
<path d="M432.5 138.7 L432.5 139.2 L435 138.7 L435.2 138.6 L437.9 138.1 L440.6 137.5 L443.4 136.9 L446.1 136.3 L446.7 136.2 L448.8 135.7 L451.5 135.1 L454.2 134.4 L456.9 133.8 L457.5 133.7 L459.6 133.1 L462.4 132.5 L465.1 131.8 L467.8 131.2 L468.1 131.1 L470.5 130.6 L473.2 130.1 L475.9 129.6 L478.6 129.2 L481.4 128.8 L482.5 128.6 L484.1 128.4 L486.8 128 L489.5 127.6 L492.2 127.2 L494.9 126.8 L497.6 126.4 L499.8 126.1 L500.4 126 L503.1 125.6 L505.8 125.2 L508.5 124.8 L511.2 124.4 L513.9 124.1 L516.6 123.8 L519.4 123.6 L519.7 123.6 L522.1 123.4 L524.8 123.2 L527.5 123 L530.2 122.8 L532.9 122.6 L535.6 122.3 L538.4 122.1 L541.1 121.9 L543.8 121.6 L546.5 121.4 L549.2 121.1 L549.9 121.1 L551.9 120.9 L554.6 120.7 L557.4 120.6 L560.1 120.5 L562.8 120.4 L565.5 120.4 L568.2 120.3 L570.9 120.2 L573.6 120.1 L576.4 120 L579.1 119.9 L581.8 119.8 L584.5 119.7 L587.2 119.5 L589.9 119.4 L592.6 119.3 L595.4 119.3 L598.1 119.3 L600.8 119.3 L603.5 119.3 L606.2 119.3 L608.9 119.3 L611.6 119.3 L614.4 119.3 L617.1 119.2 L619.8 119.2 L622.5 119.2 L625.2 119.1 L627.9 119.1 L630.6 119.1 L633.4 119 L636.1 119.1 L638.8 119.1 L641.5 119.1 L644.2 119.2 L646.9 119.2 L649.6 119.3 L652.4 119.3 L655.1 119.3 L657.8 119.3 L660.5 119.4 L663.2 119.4 L665.9 119.3 L668.6 119.3 L671.4 119.3 L674.1 119.3 L676.8 119.4 L679.5 119.4 L682.2 119.5 L684.9 119.5 L687.6 119.6 L690.4 119.6 L693.1 119.6 L695.8 119.6 L698.5 119.6 L701.2 119.6 L703.9 119.6 L706.6 119.6 L709.4 119.5 L712.1 119.5 L714.8 119.5 L717.5 119.4 L720.2 119.4 L722.9 119.4 L725.6 119.4 L728.4 119.4 L731.1 119.3 L733.8 119.3 L736.5 119.2 L739.2 119.2 L741.9 119.1 L744.6 119 L747.4 118.9 L750.1 118.9 L752.8 118.9 L755.5 118.9 L755.5 118.6 L755.5 116 L755.5 113.5 L755.5 111 L755.5 108.5 L755.5 106 L755.5 103.4 L755.5 100.9 L755.5 98.4 L755.5 95.9 L755.5 93.4 L755.5 90.8 L755.5 88.3 L755.5 85.8 L755.5 83.3 L755.5 80.8 L755.5 79.7 L752.8 79.5 L750.1 79.3 L747.4 79.2 L744.6 79 L741.9 78.9 L739.2 78.8 L736.5 78.7 L733.8 78.6 L731.1 78.5 L728.4 78.5 L725.6 78.5 L722.9 78.5 L720.2 78.5 L717.5 78.5 L714.8 78.5 L712.1 78.5 L709.4 78.5 L706.6 78.4 L703.9 78.4 L701.2 78.4 L698.5 78.3 L695.8 78.4 L693.1 78.4 L690.4 78.4 L687.6 78.5 L684.9 78.6 L682.2 78.6 L679.5 78.7 L676.8 78.8 L674.1 78.9 L671.4 78.9 L668.6 79 L665.9 79 L663.2 79 L660.5 79.1 L657.8 79.2 L655.1 79.3 L652.4 79.4 L649.6 79.6 L646.9 79.8 L644.2 80 L641.5 80.2 L638.8 80.4 L636.1 80.6 L633.8 80.8 L633.4 80.8 L630.6 80.9 L627.9 81 L625.2 81.1 L622.5 81.2 L619.8 81.4 L617.1 81.6 L614.4 81.8 L611.6 82 L608.9 82.3 L606.2 82.6 L603.5 82.9 L600.8 83.3 L600.5 83.3 L598.1 83.6 L595.4 83.9 L592.6 84.1 L589.9 84.3 L587.2 84.5 L584.5 84.7 L581.8 84.9 L579.1 85.2 L576.4 85.4 L573.6 85.8 L573.3 85.8 L570.9 86.1 L568.2 86.5 L565.5 86.9 L562.8 87.3 L560.1 87.8 L557.4 88.2 L556.8 88.3 L554.6 88.6 L551.9 89 L549.2 89.2 L546.5 89.5 L543.8 89.8 L541.1 90.1 L538.4 90.4 L535.6 90.8 L535.5 90.8 L532.9 91.2 L530.2 91.7 L527.5 92.1 L524.8 92.7 L522.1 93.2 L521.3 93.4 L519.4 93.7 L516.6 94.3 L513.9 94.8 L511.2 95.2 L508.5 95.6 L506.4 95.9 L505.8 96 L503.1 96.3 L500.4 96.7 L497.6 97.1 L494.9 97.6 L492.2 98.1 L490.7 98.4 L489.5 98.6 L486.8 99.2 L484.1 99.8 L481.4 100.5 L479.5 100.9 L478.6 101.1 L475.9 101.8 L473.2 102.4 L470.5 102.9 L467.8 103.4 L467.8 103.4 L465.1 103.9 L462.4 104.4 L459.6 105 L456.9 105.5 L455 106 L454.2 106.1 L451.5 106.7 L448.8 107.3 L446.1 108 L444.2 108.5 L443.4 108.7 L440.6 109.3 L437.9 110 L435.2 110.7 L434.1 111 L432.5 111.4 L432.5 113.5 L432.5 116 L432.5 118.6 L432.5 121.1 L432.5 123.6 L432.5 126.1 L432.5 128.6 L432.5 131.1 L432.5 133.7 L432.5 136.2 L432.5 138.7Z" fill="#d8eb5e" stroke="#d8eb5e" stroke-width="0.5" fill-rule="evenodd"/>
<path d="M432.5 111 L432.5 111.4 L434.1 111 L435.2 110.7 L437.9 110 L440.6 109.3 L443.4 108.7 L444.2 108.5 L446.1 108 L448.8 107.3 L451.5 106.7 L454.2 106.1 L455 106 L456.9 105.5 L459.6 105 L462.4 104.4 L465.1 103.9 L467.8 103.4 L467.8 103.4 L470.5 102.9 L473.2 102.4 L475.9 101.8 L478.6 101.1 L479.5 100.9 L481.4 100.5 L484.1 99.8 L486.8 99.2 L489.5 98.6 L490.7 98.4 L492.2 98.1 L494.9 97.6 L497.6 97.1 L500.4 96.7 L503.1 96.3 L505.8 96 L506.4 95.9 L508.5 95.6 L511.2 95.2 L513.9 94.8 L516.6 94.3 L519.4 93.7 L521.3 93.4 L522.1 93.2 L524.8 92.7 L527.5 92.1 L530.2 91.7 L532.9 91.2 L535.5 90.8 L535.6 90.8 L538.4 90.4 L541.1 90.1 L543.8 89.8 L546.5 89.5 L549.2 89.2 L551.9 89 L554.6 88.6 L556.8 88.3 L557.4 88.2 L560.1 87.8 L562.8 87.3 L565.5 86.9 L568.2 86.5 L570.9 86.1 L573.3 85.8 L573.6 85.8 L576.4 85.4 L579.1 85.2 L581.8 84.9 L584.5 84.7 L587.2 84.5 L589.9 84.3 L592.6 84.1 L595.4 83.9 L598.1 83.6 L600.5 83.3 L600.8 83.3 L603.5 82.9 L606.2 82.6 L608.9 82.3 L611.6 82 L614.4 81.8 L617.1 81.6 L619.8 81.4 L622.5 81.2 L625.2 81.1 L627.9 81 L630.6 80.9 L633.4 80.8 L633.8 80.8 L636.1 80.6 L638.8 80.4 L641.5 80.2 L644.2 80 L646.9 79.8 L649.6 79.6 L652.4 79.4 L655.1 79.3 L657.8 79.2 L660.5 79.1 L663.2 79 L665.9 79 L668.6 79 L671.4 78.9 L674.1 78.9 L676.8 78.8 L679.5 78.7 L682.2 78.6 L684.9 78.6 L687.6 78.5 L690.4 78.4 L693.1 78.4 L695.8 78.4 L698.5 78.3 L701.2 78.4 L703.9 78.4 L706.6 78.4 L709.4 78.5 L712.1 78.5 L714.8 78.5 L717.5 78.5 L720.2 78.5 L722.9 78.5 L725.6 78.5 L728.4 78.5 L731.1 78.5 L733.8 78.6 L736.5 78.7 L739.2 78.8 L741.9 78.9 L744.6 79 L747.4 79.2 L750.1 79.3 L752.8 79.5 L755.5 79.7 L755.5 78.3 L755.5 75.7 L755.5 73.2 L755.5 70.7 L755.5 68.2 L755.5 65.7 L755.5 63.1 L755.5 60.6 L755.5 58.1 L755.5 55.6 L755.5 53.1 L755.5 50.5 L755.5 48 L755.5 45.5 L755.5 43 L755.5 40.5 L755.5 38 L755.5 35.4 L755.5 32.9 L755.5 30.4 L755.5 27.9 L755.5 25.4 L755.5 22.8 L755.5 21.8 L752.8 22.1 L750.1 22.3 L747.4 22.6 L744.6 22.8 L743.9 22.8 L741.9 23 L739.2 23.2 L736.5 23.4 L733.8 23.6 L731.1 23.8 L728.4 24 L725.6 24.2 L722.9 24.4 L720.2 24.6 L717.5 24.8 L714.8 25 L712.1 25.2 L709.4 25.4 L709.3 25.4 L706.6 25.6 L703.9 25.8 L701.2 26 L698.5 26.2 L695.8 26.5 L693.1 26.7 L690.4 26.9 L687.6 27.1 L684.9 27.3 L682.2 27.5 L679.5 27.8 L678.1 27.9 L676.8 28 L674.1 28.2 L671.4 28.5 L668.6 28.7 L665.9 29 L663.2 29.2 L660.5 29.5 L657.8 29.7 L655.1 30 L652.4 30.2 L650.5 30.4 L649.6 30.5 L646.9 30.8 L644.2 31 L641.5 31.3 L638.8 31.6 L636.1 31.8 L633.4 32.1 L630.6 32.4 L627.9 32.7 L626 32.9 L625.2 33 L622.5 33.3 L619.8 33.7 L617.1 34 L614.4 34.3 L611.6 34.6 L608.9 34.9 L606.2 35.3 L604.6 35.4 L603.5 35.6 L600.8 35.9 L598.1 36.3 L595.4 36.6 L592.6 37 L589.9 37.4 L587.2 37.7 L585.6 38 L584.5 38.1 L581.8 38.5 L579.1 39 L576.4 39.4 L573.6 39.8 L570.9 40.2 L568.8 40.5 L568.2 40.6 L565.5 41 L562.8 41.4 L560.1 41.9 L557.4 42.3 L554.6 42.7 L553 43 L551.9 43.2 L549.2 43.7 L546.5 44.2 L543.8 44.7 L541.1 45.2 L539.5 45.5 L538.4 45.7 L535.6 46.3 L532.9 46.8 L530.2 47.3 L527.5 47.8 L526.5 48 L524.8 48.4 L522.1 48.9 L519.4 49.5 L516.6 50 L514.1 50.5 L513.9 50.6 L511.2 51.2 L508.5 51.8 L505.8 52.5 L503.2 53.1 L503.1 53.1 L500.4 53.8 L497.6 54.4 L494.9 55.1 L492.9 55.6 L492.2 55.7 L489.5 56.4 L486.8 57.1 L484.1 57.8 L482.7 58.1 L481.4 58.5 L478.6 59.2 L475.9 59.9 L473.2 60.6 L473.1 60.6 L470.5 61.4 L467.8 62.2 L465.1 63 L464.6 63.1 L462.4 63.9 L459.6 64.7 L456.9 65.5 L456.5 65.7 L454.2 66.4 L451.5 67.2 L448.8 68.1 L448.4 68.2 L446.1 68.9 L443.4 69.8 L440.6 70.6 L440.2 70.7 L437.9 71.4 L435.2 72.3 L432.5 73.1 L432.5 73.2 L432.5 75.7 L432.5 78.3 L432.5 80.8 L432.5 83.3 L432.5 85.8 L432.5 88.3 L432.5 90.8 L432.5 93.4 L432.5 95.9 L432.5 98.4 L432.5 100.9 L432.5 103.4 L432.5 106 L432.5 108.5 L432.5 111Z" fill="#ebf55e" stroke="#ebf55e" stroke-width="0.5" fill-rule="evenodd"/>
<path d="M432.5 70.7 L432.5 73.1 L435.2 72.3 L437.9 71.4 L440.2 70.7 L440.6 70.6 L443.4 69.8 L446.1 68.9 L448.4 68.2 L448.8 68.1 L451.5 67.2 L454.2 66.4 L456.5 65.7 L456.9 65.5 L459.6 64.7 L462.4 63.9 L464.6 63.1 L465.1 63 L467.8 62.2 L470.5 61.4 L473.1 60.6 L473.2 60.6 L475.9 59.9 L478.6 59.2 L481.4 58.5 L482.7 58.1 L484.1 57.8 L486.8 57.1 L489.5 56.4 L492.2 55.7 L492.9 55.6 L494.9 55.1 L497.6 54.4 L500.4 53.8 L503.1 53.1 L503.2 53.1 L505.8 52.5 L508.5 51.8 L511.2 51.2 L513.9 50.6 L514.1 50.5 L516.6 50 L519.4 49.5 L522.1 48.9 L524.8 48.4 L526.5 48 L527.5 47.8 L530.2 47.3 L532.9 46.8 L535.6 46.3 L538.4 45.7 L539.5 45.5 L541.1 45.2 L543.8 44.7 L546.5 44.2 L549.2 43.7 L551.9 43.2 L553 43 L554.6 42.7 L557.4 42.3 L560.1 41.9 L562.8 41.4 L565.5 41 L568.2 40.6 L568.8 40.5 L570.9 40.2 L573.6 39.8 L576.4 39.4 L579.1 39 L581.8 38.5 L584.5 38.1 L585.6 38 L587.2 37.7 L589.9 37.4 L592.6 37 L595.4 36.6 L598.1 36.3 L600.8 35.9 L603.5 35.6 L604.6 35.4 L606.2 35.3 L608.9 34.9 L611.6 34.6 L614.4 34.3 L617.1 34 L619.8 33.7 L622.5 33.3 L625.2 33 L626 32.9 L627.9 32.7 L630.6 32.4 L633.4 32.1 L636.1 31.8 L638.8 31.6 L641.5 31.3 L644.2 31 L646.9 30.8 L649.6 30.5 L650.5 30.4 L652.4 30.2 L655.1 30 L657.8 29.7 L660.5 29.5 L663.2 29.2 L665.9 29 L668.6 28.7 L671.4 28.5 L674.1 28.2 L676.8 28 L678.1 27.9 L679.5 27.8 L682.2 27.5 L684.9 27.3 L687.6 27.1 L690.4 26.9 L693.1 26.7 L695.8 26.5 L698.5 26.2 L701.2 26 L703.9 25.8 L706.6 25.6 L709.3 25.4 L709.4 25.4 L712.1 25.2 L714.8 25 L717.5 24.8 L720.2 24.6 L722.9 24.4 L725.6 24.2 L728.4 24 L731.1 23.8 L733.8 23.6 L736.5 23.4 L739.2 23.2 L741.9 23 L743.9 22.8 L744.6 22.8 L747.4 22.6 L750.1 22.3 L752.8 22.1 L755.5 21.8 L755.5 20.3 L755.5 17.8 L755.5 15.3 L752.8 15.3 L750.1 15.3 L747.4 15.3 L744.6 15.3 L741.9 15.3 L739.2 15.3 L736.5 15.3 L733.8 15.3 L731.1 15.3 L728.4 15.3 L725.6 15.3 L722.9 15.3 L720.2 15.3 L717.5 15.3 L714.8 15.3 L712.1 15.3 L709.4 15.3 L706.6 15.3 L703.9 15.3 L701.2 15.3 L698.5 15.3 L695.8 15.3 L693.1 15.3 L690.4 15.3 L687.6 15.3 L684.9 15.3 L682.2 15.3 L679.5 15.3 L676.8 15.3 L674.1 15.3 L671.4 15.3 L668.6 15.3 L665.9 15.3 L663.2 15.3 L660.5 15.3 L657.8 15.3 L655.1 15.3 L652.4 15.3 L649.6 15.3 L646.9 15.3 L644.2 15.3 L641.5 15.3 L638.8 15.3 L636.1 15.3 L633.4 15.3 L630.6 15.3 L627.9 15.3 L625.2 15.3 L622.5 15.3 L619.8 15.3 L617.1 15.3 L614.4 15.3 L611.6 15.3 L608.9 15.3 L606.2 15.3 L603.5 15.3 L600.8 15.3 L598.1 15.3 L595.4 15.3 L592.6 15.3 L589.9 15.3 L587.2 15.3 L584.5 15.3 L581.8 15.3 L579.1 15.3 L576.4 15.3 L573.6 15.3 L570.9 15.3 L568.2 15.3 L565.5 15.3 L562.8 15.3 L560.1 15.3 L557.4 15.3 L554.6 15.3 L551.9 15.3 L549.2 15.3 L546.5 15.3 L543.8 15.3 L541.1 15.3 L538.4 15.3 L535.6 15.3 L532.9 15.3 L530.2 15.3 L527.5 15.3 L524.8 15.3 L522.1 15.3 L519.4 15.3 L516.6 15.3 L513.9 15.3 L511.2 15.3 L508.5 15.3 L505.8 15.3 L503.1 15.3 L500.4 15.3 L497.6 15.3 L494.9 15.3 L492.2 15.3 L489.5 15.3 L486.8 15.3 L484.1 15.3 L481.4 15.3 L478.6 15.3 L475.9 15.3 L473.2 15.3 L470.5 15.3 L467.8 15.3 L465.1 15.3 L462.4 15.3 L459.6 15.3 L456.9 15.3 L454.2 15.3 L451.5 15.3 L448.8 15.3 L446.1 15.3 L443.4 15.3 L440.6 15.3 L437.9 15.3 L435.2 15.3 L432.5 15.3 L432.5 17.8 L432.5 20.3 L432.5 22.8 L432.5 25.4 L432.5 27.9 L432.5 30.4 L432.5 32.9 L432.5 35.4 L432.5 38 L432.5 40.5 L432.5 43 L432.5 45.5 L432.5 48 L432.5 50.5 L432.5 53.1 L432.5 55.6 L432.5 58.1 L432.5 60.6 L432.5 63.1 L432.5 65.7 L432.5 68.2 L432.5 70.7Z" fill="#ffff5e" stroke="#ffff5e" stroke-width="0.5" fill-rule="evenodd"/>
<path d="M625.2 302.5 L623.1 302.4 L622.5 302.4 L619.8 302.2 L617.1 301.9 L614.4 301.7 L611.6 301.5 L608.9 301.3 L606.2 301.1 L603.5 300.9 L600.8 300.7 L598.1 300.5 L595.4 300.3 L592.6 300.1 L590 299.9 L589.9 299.9 L587.2 299.6 L584.5 299.4 L581.8 299.1 L579.1 298.9 L576.4 298.6 L573.6 298.3 L570.9 298 L568.2 297.7 L565.8 297.4 L565.5 297.3 L562.8 296.9 L560.1 296.5 L557.4 296 L554.6 295.5 L551.9 295 L550.9 294.9 L549.2 294.4 L546.5 293.8 L543.8 293.1 L541.1 292.4 L540.8 292.3 L538.4 291.5 L535.6 290.5 L533.6 289.8 L532.9 289.5 L530.2 288.1 L528.6 287.3 L527.5 286.5 L525.1 284.8 L524.8 284.3 L523.2 282.3 L522.6 279.7 L523.4 277.2 L524.8 275.8 L525.9 274.7 L527.5 273.7 L530.2 272.2 L530.3 272.2 L532.9 271.2 L535.6 270.2 L537.2 269.7 L538.4 269.4 L541.1 268.6 L543.8 268 L546.5 267.3 L547.3 267.1 L549.2 266.8 L551.9 266.2 L554.6 265.7 L557.4 265.2 L560.1 264.8 L560.9 264.6 L562.8 264.3 L565.5 263.9 L568.2 263.6 L570.9 263.2 L573.6 262.8 L576.4 262.5 L579.1 262.2 L579.5 262.1 L581.8 261.9 L584.5 261.6 L587.2 261.3 L589.9 261.1 L592.6 260.9 L595.4 260.8 L598.1 260.6 L600.8 260.6 L603.5 260.7 L606.2 260.8 L608.9 261.1 L611.6 261.4 L614.4 261.7 L617 262.1 L617.1 262.1 L619.8 262.6 L622.5 263 L625.2 263.5 L627.9 264 L630.6 264.5 L631.5 264.6 L633.4 265 L636.1 265.6 L638.8 266.2 L641.5 266.8 L643.2 267.1 L644.2 267.4 L646.9 268.1 L649.6 268.9 L652.4 269.6 L652.5 269.7 L655.1 270.5 L657.8 271.5 L659.7 272.2 L660.5 272.5 L663.2 273.7 L665.3 274.7 L665.9 275 L668.6 276.6 L669.6 277.2 L671.4 278.5 L672.9 279.7 L674.1 280.9 L675.5 282.3 L676.8 283.9 L677.4 284.8 L678.9 287.3 L679.5 288.9 L679.8 289.8 L680.3 292.3 L679.8 294.9 L679.5 295.3 L677.9 297.4 L676.8 298.1 L674.1 299.5 L673.3 299.9 L671.4 300.5 L668.6 301.1 L665.9 301.7 L663.2 302.2 L661.5 302.4 L660.5 302.5 L657.8 302.7 L655.1 302.9 L652.4 303 L649.6 303.1 L646.9 303.2 L644.2 303.2 L641.5 303.2 L638.8 303.1 L636.1 303 L633.4 302.9 L630.6 302.8 L627.9 302.7 L625.2 302.5 " fill="none" stroke="#1a1a1a" stroke-width="0.8"/>
<path d="M625.2 310 L624.3 310 L622.5 309.8 L619.8 309.6 L617.1 309.3 L614.4 309.1 L611.6 308.8 L608.9 308.6 L606.2 308.4 L603.5 308.1 L600.8 308 L598.1 307.8 L595.4 307.7 L592.6 307.5 L591.5 307.4 L589.9 307.3 L587.2 307.2 L584.5 307 L581.8 306.8 L579.1 306.6 L576.4 306.4 L573.6 306.2 L570.9 306 L568.2 305.8 L565.5 305.6 L562.8 305.4 L560.1 305.1 L557.7 304.9 L557.4 304.9 L554.6 304.6 L551.9 304.3 L549.2 304 L546.5 303.7 L543.8 303.4 L541.1 303 L538.4 302.7 L536.3 302.4 L535.6 302.3 L532.9 301.9 L530.2 301.4 L527.5 301 L524.8 300.5 L522.1 299.9 L521.8 299.9 L519.4 299.3 L516.6 298.7 L513.9 298.1 L511.2 297.5 L510.7 297.4 L508.5 296.8 L505.8 296.1 L503.1 295.3 L501.5 294.9 L500.4 294.5 L497.6 293.5 L494.9 292.6 L494.1 292.3 L492.2 291.5 L489.5 290.4 L488.2 289.8 L486.8 289.1 L484.1 287.6 L483.5 287.3 L481.4 285.8 L479.9 284.8 L478.6 283.5 L477.4 282.3 L476 279.7 L475.9 278.7 L475.8 277.2 L475.9 276.7 L476.6 274.7 L478.5 272.2 L478.6 272.1 L481.4 269.8 L481.5 269.7 L484.1 268.1 L485.6 267.1 L486.8 266.6 L489.5 265.3 L490.9 264.6 L492.2 264.1 L494.9 263 L497.3 262.1 L497.6 262 L500.4 261.1 L503.1 260.2 L505.1 259.6 L505.8 259.4 L508.5 258.6 L511.2 257.9 L513.9 257.2 L514.5 257.1 L516.6 256.6 L519.4 256.1 L522.1 255.7 L524.8 255.3 L527.5 254.9 L529.5 254.6 L530.2 254.5 L532.9 254.1 L535.6 253.7 L538.4 253.4 L541.1 253 L543.8 252.7 L546.5 252.3 L548.8 252 L549.2 252 L551.9 251.7 L554.6 251.4 L557.4 251.1 L560.1 250.8 L562.8 250.5 L565.5 250.3 L568.2 250 L570.9 249.8 L573.6 249.6 L574.3 249.5 L576.4 249.4 L579.1 249.2 L581.8 249 L584.5 248.8 L587.2 248.7 L589.9 248.6 L592.6 248.5 L595.4 248.4 L598.1 248.4 L600.8 248.4 L603.5 248.4 L606.2 248.5 L608.9 248.6 L611.6 248.7 L614.4 248.9 L617.1 249.1 L619.8 249.3 L621.8 249.5 L622.5 249.6 L625.2 249.8 L627.9 250.1 L630.6 250.4 L633.4 250.7 L636.1 251 L638.8 251.3 L641.5 251.6 L644.2 251.9 L645.1 252 L646.9 252.3 L649.6 252.6 L652.4 252.9 L655.1 253.3 L657.8 253.7 L660.5 254 L663.2 254.4 L664.4 254.6 L665.9 254.8 L668.6 255.2 L671.4 255.7 L674.1 256.2 L676.8 256.7 L678.2 257.1 L679.5 257.4 L682.2 258.2 L684.9 259.1 L686.3 259.6 L687.6 260.2 L690.4 261.5 L691.6 262.1 L693.1 263 L695.7 264.6 L695.8 264.7 L698.5 266.6 L699.1 267.1 L701.2 268.9 L702 269.7 L703.9 271.6 L704.4 272.2 L706.5 274.7 L706.6 274.9 L708.2 277.2 L709.4 279.3 L709.6 279.7 L710.8 282.3 L711.9 284.8 L712.1 285.3 L712.8 287.3 L713.7 289.8 L714.5 292.3 L714.8 293.2 L715.3 294.9 L715.8 297.4 L715.9 299.9 L715.4 302.4 L714.8 303.8 L714.2 304.9 L712.1 306.9 L711.4 307.4 L709.4 308.4 L706.6 309.4 L704.5 310 L703.9 310.1 L701.2 310.5 L698.5 310.9 L695.8 311.2 L693.1 311.5 L690.4 311.7 L687.6 311.8 L684.9 311.9 L682.2 312 L679.5 312 L676.8 312.1 L674.1 312.1 L671.4 312.1 L668.6 312.1 L665.9 312 L663.2 312 L660.5 311.9 L657.8 311.8 L655.1 311.7 L652.4 311.6 L649.6 311.5 L646.9 311.4 L644.2 311.2 L641.5 311.1 L638.8 310.9 L636.1 310.8 L633.4 310.6 L630.6 310.4 L627.9 310.2 L625.2 310 " fill="none" stroke="#1a1a1a" stroke-width="0.8"/>
<path d="M623.9 315 L622.5 314.9 L619.8 314.7 L617.1 314.4 L614.4 314.2 L611.6 314 L608.9 313.8 L606.2 313.5 L603.5 313.3 L600.8 313.2 L598.1 313 L595.4 312.9 L592.6 312.7 L589.9 312.6 L587.7 312.5 L587.2 312.5 L584.5 312.3 L581.8 312.2 L579.1 312 L576.4 311.9 L573.6 311.7 L570.9 311.5 L568.2 311.4 L565.5 311.2 L562.8 311 L560.1 310.9 L557.4 310.7 L554.6 310.5 L551.9 310.3 L549.2 310.1 L546.8 310 L546.5 309.9 L543.8 309.7 L541.1 309.5 L538.4 309.3 L535.6 309 L532.9 308.8 L530.2 308.5 L527.5 308.3 L524.8 308 L522.1 307.7 L519.4 307.4 L519.3 307.4 L516.6 307.1 L513.9 306.7 L511.2 306.3 L508.5 305.9 L505.8 305.4 L503.1 305 L502.6 304.9 L500.4 304.5 L497.6 304 L494.9 303.5 L492.2 303 L489.5 302.5 L488.9 302.4 L486.8 302 L484.1 301.4 L481.4 300.8 L478.6 300.2 L477.1 299.9 L475.9 299.6 L473.2 299 L470.5 298.3 L467.8 297.7 L466.4 297.4 L465.1 297 L462.4 296.3 L459.6 295.6 L456.9 294.9 L456.6 294.9 L454.2 294.2 L451.5 293.4 L448.8 292.7 L447.5 292.3 L446.1 291.9 L443.4 291 L440.6 290.2 L439.4 289.8 L437.9 289.3 L435.2 288.2 L433.2 287.3 L432.5 286.9 M432.5 267.3 L432.7 267.1 L435.2 265.5 L436.5 264.6 L437.9 263.8 L440.6 262.4 L441.3 262.1 L443.4 261.2 L446.1 260.1 L447.3 259.6 L448.8 259.1 L451.5 258.1 L454.2 257.3 L454.8 257.1 L456.9 256.5 L459.6 255.7 L462.4 255 L463.9 254.6 L465.1 254.3 L467.8 253.6 L470.5 252.9 L473.2 252.3 L474.3 252 L475.9 251.7 L478.6 251.1 L481.4 250.5 L484.1 249.9 L485.9 249.5 L486.8 249.3 L489.5 248.8 L492.2 248.3 L494.9 247.8 L497.6 247.3 L499.2 247 L500.4 246.8 L503.1 246.4 L505.8 246 L508.5 245.6 L511.2 245.2 L513.9 244.8 L516.6 244.5 L516.8 244.5 L519.4 244.1 L522.1 243.7 L524.8 243.3 L527.5 242.9 L530.2 242.5 L532.9 242.2 L534.7 242 L535.6 241.8 L538.4 241.5 L541.1 241.2 L543.8 240.9 L546.5 240.6 L549.2 240.4 L551.9 240.1 L554.6 239.8 L557.4 239.6 L559.4 239.4 L560.1 239.4 L562.8 239.2 L565.5 239 L568.2 238.8 L570.9 238.6 L573.6 238.5 L576.4 238.3 L579.1 238.2 L581.8 238.1 L584.5 238 L587.2 238 L589.9 237.9 L592.6 237.9 L595.4 237.9 L598.1 237.9 L600.8 237.9 L603.5 237.9 L606.2 237.9 L608.9 238 L611.6 238 L614.4 238.1 L617.1 238.2 L619.8 238.2 L622.5 238.4 L625.2 238.5 L627.9 238.6 L630.6 238.8 L633.4 238.9 L636.1 239.1 L638.8 239.2 L641.5 239.4 L642 239.4 L644.2 239.6 L646.9 239.8 L649.6 239.9 L652.4 240.1 L655.1 240.3 L657.8 240.5 L660.5 240.7 L663.2 240.9 L665.9 241 L668.6 241.2 L671.4 241.4 L674.1 241.6 L676.8 241.8 L679.5 242 L679.6 242 L682.2 242.2 L684.9 242.4 L687.6 242.8 L690.4 243.4 L693.1 244 L694.8 244.5 L695.8 244.8 L698.5 245.6 L701.2 246.5 L702.9 247 L703.9 247.4 L706.6 248.3 L709.4 249.3 L710 249.5 L712.1 250.3 L714.8 251.4 L716.4 252 L717.5 252.5 L720.2 253.7 L722.1 254.6 L722.9 254.9 L725.6 256.3 L727.2 257.1 L728.4 257.8 L731.1 259.4 L731.3 259.6 L733.8 261.5 L734.4 262.1 L736.5 264.5 L736.6 264.6 L738.3 267.1 L739.2 268.9 L739.6 269.7 L740.8 272.2 L741.7 274.7 L741.9 275.4 L742.5 277.2 L743.1 279.7 L743.5 282.3 L743.9 284.8 L744.3 287.3 L744.6 289.8 L744.6 290.3 L744.8 292.3 L744.7 294.9 L744.6 295.1 L744.2 297.4 L743.3 299.9 L741.9 302.1 L741.8 302.4 L739.8 304.9 L739.2 305.6 L738 307.4 L736.5 309.1 L735.8 310 L733.8 311.6 L732.8 312.5 L731.1 313.4 L728.4 314.7 L727.7 315 " fill="none" stroke="#1a1a1a" stroke-width="0.8"/>
<path d="M548.5 315 L546.5 314.9 L543.8 314.8 L541.1 314.6 L538.4 314.5 L535.6 314.4 L532.9 314.2 L530.2 314.1 L527.5 314 L524.8 313.8 L522.1 313.7 L519.4 313.5 L516.6 313.4 L513.9 313.2 L511.2 313 L508.5 312.7 L505.8 312.5 L505.7 312.5 L503.1 312.2 L500.4 312 L497.6 311.7 L494.9 311.5 L492.2 311.2 L489.5 311 L486.8 310.7 L484.1 310.4 L481.4 310.2 L479.2 310 L478.6 309.9 L475.9 309.7 L473.2 309.4 L470.5 309.2 L467.8 308.9 L465.1 308.7 L462.4 308.4 L459.6 308.2 L456.9 307.9 L454.2 307.7 L452 307.4 L451.5 307.4 L448.8 307.2 L446.1 306.9 L443.4 306.7 L440.6 306.4 L437.9 306.2 L435.2 305.8 L432.5 305.5 M432.5 310.4 L435.2 311.3 L437.8 312.5 L437.9 312.5 L440.6 313.2 L443.4 314.2 L445.2 315 M432.5 246.2 L435.2 245.5 L437.9 244.9 L439.9 244.5 L440.6 244.3 L443.4 243.8 L446.1 243.3 L448.8 242.8 L451.5 242.3 L453.1 242 L454.2 241.8 L456.9 241.3 L459.6 240.8 L462.4 240.4 L465.1 239.9 L467.8 239.5 L468 239.4 L470.5 239.1 L473.2 238.6 L475.9 238.2 L478.6 237.8 L481.4 237.4 L484.1 237 L484.4 236.9 L486.8 236.6 L489.5 236.2 L492.2 235.8 L494.9 235.5 L497.6 235.1 L500.4 234.8 L503.1 234.4 L503.4 234.4 L505.8 234.1 L508.5 233.8 L511.2 233.5 L513.9 233.2 L516.6 232.8 L519.4 232.5 L522.1 232.2 L524.8 231.9 L524.9 231.9 L527.5 231.6 L530.2 231.3 L532.9 231 L535.6 230.7 L538.4 230.4 L541.1 230.2 L543.8 229.9 L546.5 229.7 L549.2 229.4 L550 229.4 L551.9 229.2 L554.6 229 L557.4 228.8 L560.1 228.6 L562.8 228.4 L565.5 228.3 L568.2 228.1 L570.9 228 L573.6 227.9 L576.4 227.8 L579.1 227.7 L581.8 227.7 L584.5 227.6 L587.2 227.6 L589.9 227.6 L592.6 227.6 L595.4 227.6 L598.1 227.6 L600.8 227.6 L603.5 227.6 L606.2 227.6 L608.9 227.6 L611.6 227.6 L614.4 227.6 L617.1 227.6 L619.8 227.7 L622.5 227.7 L625.2 227.7 L627.9 227.8 L630.6 227.9 L633.4 227.9 L636.1 228 L638.8 228.1 L641.5 228.2 L644.2 228.3 L646.9 228.4 L649.6 228.5 L652.4 228.6 L655.1 228.8 L657.8 228.9 L660.5 229.1 L663.2 229.2 L665.7 229.4 L665.9 229.4 L668.6 229.6 L671.4 229.8 L674.1 230 L676.8 230.2 L679.5 230.5 L682.2 230.7 L684.9 231 L687.6 231.4 L690.4 231.6 L693.1 231.9 L693.3 231.9 L695.8 232.2 L698.5 232.5 L701.2 232.9 L703.9 233.3 L706.6 233.7 L709.4 234.2 L710.6 234.4 L712.1 234.7 L714.8 235.2 L717.5 235.7 L720.2 236.3 L722.9 236.8 L723.4 236.9 L725.6 237.4 L728.4 238 L731.1 238.7 L733.8 239.3 L734.2 239.4 L736.5 240 L739.2 240.8 L741.9 241.6 L743.1 242 L744.6 242.5 L747.4 243.4 L750.1 244.5 L750.1 244.5 L752.8 245.7 L755.5 247 " fill="none" stroke="#1a1a1a" stroke-width="0.8"/>
<path d="M432.5 232.2 L434.2 231.9 L435.2 231.7 L437.9 231.3 L440.6 231 L443.4 230.6 L446.1 230.2 L448.8 229.8 L451.4 229.4 L451.5 229.3 L454.2 228.9 L456.9 228.6 L459.6 228.2 L462.4 227.8 L465.1 227.4 L467.8 227 L469.1 226.8 L470.5 226.7 L473.2 226.3 L475.9 226 L478.6 225.6 L481.4 225.3 L484.1 224.9 L486.8 224.6 L489.2 224.3 L489.5 224.3 L492.2 224 L494.9 223.7 L497.6 223.4 L500.4 223.1 L503.1 222.8 L505.8 222.5 L508.5 222.2 L511.2 221.9 L512.4 221.8 L513.9 221.7 L516.6 221.4 L519.4 221.1 L522.1 220.9 L524.8 220.6 L527.5 220.4 L530.2 220.2 L532.9 219.9 L535.6 219.7 L538.4 219.4 L539.9 219.3 L541.1 219.2 L543.8 219 L546.5 218.7 L549.2 218.5 L551.9 218.3 L554.6 218.1 L557.4 218 L560.1 217.8 L562.8 217.7 L565.5 217.5 L568.2 217.4 L570.9 217.3 L573.6 217.2 L576.4 217.2 L579.1 217.1 L581.8 217.1 L584.5 217 L587.2 217 L589.9 217 L592.6 217 L595.4 217 L598.1 216.9 L600.8 216.9 L603.5 216.9 L606.2 216.9 L608.9 217 L611.6 217 L614.4 217 L617.1 217 L619.8 217 L622.5 217 L625.2 217 L627.9 217 L630.6 217 L633.4 217 L636.1 217.1 L638.8 217.1 L641.5 217.1 L644.2 217.2 L646.9 217.3 L649.6 217.4 L652.4 217.5 L655.1 217.6 L657.8 217.7 L660.5 217.8 L663.2 218 L665.9 218.1 L668.6 218.3 L671.4 218.5 L674.1 218.6 L676.8 218.8 L679.5 219 L682.2 219.2 L682.8 219.3 L684.9 219.5 L687.6 219.7 L690.4 219.9 L693.1 220.1 L695.8 220.3 L698.5 220.5 L701.2 220.7 L703.9 221 L706.6 221.2 L709.4 221.5 L712.1 221.8 L712.4 221.8 L714.8 222.1 L717.5 222.4 L720.2 222.7 L722.9 223 L725.6 223.4 L728.4 223.7 L731.1 224.1 L732.8 224.3 L733.8 224.5 L736.5 224.9 L739.2 225.3 L741.9 225.7 L744.6 226.1 L747.4 226.5 L749.3 226.8 L750.1 227 L752.8 227.5 L755.5 228 " fill="none" stroke="#1a1a1a" stroke-width="0.8"/>
<path d="M432.5 220 L435.2 219.6 L436.9 219.3 L437.9 219.1 L440.6 218.6 L443.4 218.2 L446.1 217.7 L448.8 217.3 L451.5 216.8 L451.9 216.8 L454.2 216.4 L456.9 216 L459.6 215.7 L462.4 215.3 L465.1 215 L467.8 214.7 L470.5 214.3 L471.2 214.3 L473.2 214 L475.9 213.7 L478.6 213.4 L481.4 213.1 L484.1 212.8 L486.8 212.5 L489.5 212.2 L492.2 212 L494.5 211.7 L494.9 211.7 L497.6 211.4 L500.4 211.2 L503.1 211 L505.8 210.7 L508.5 210.5 L511.2 210.4 L513.9 210.2 L516.6 210 L519.4 209.8 L522.1 209.5 L524.8 209.3 L525.2 209.2 L527.5 209 L530.2 208.7 L532.9 208.5 L535.6 208.3 L538.4 208 L541.1 207.8 L543.8 207.6 L546.5 207.4 L549.2 207.2 L551.9 207 L554.6 206.9 L557.4 206.7 L557.9 206.7 L560.1 206.6 L562.8 206.5 L565.5 206.3 L568.2 206.2 L570.9 206.1 L573.6 206.1 L576.4 206 L579.1 206 L581.8 205.9 L584.5 205.9 L587.2 205.9 L589.9 205.9 L592.6 205.9 L595.4 205.9 L598.1 206 L600.8 206 L603.5 206 L606.2 206 L608.9 206 L611.6 205.9 L614.4 205.9 L617.1 205.8 L619.8 205.8 L622.5 205.8 L625.2 205.7 L627.9 205.7 L630.6 205.7 L633.4 205.7 L636.1 205.7 L638.8 205.7 L641.5 205.8 L644.2 205.8 L646.9 205.9 L649.6 205.9 L652.4 206 L655.1 206.1 L657.8 206.2 L660.5 206.3 L663.2 206.4 L665.9 206.5 L668.6 206.7 L669 206.7 L671.4 206.8 L674.1 207 L676.8 207.1 L679.5 207.3 L682.2 207.4 L684.9 207.6 L687.6 207.7 L690.4 207.9 L693.1 208.1 L695.8 208.2 L698.5 208.4 L701.2 208.6 L703.9 208.7 L706.6 208.9 L709.4 209.1 L710.5 209.2 L712.1 209.3 L714.8 209.5 L717.5 209.8 L720.2 210 L722.9 210.2 L725.6 210.5 L728.4 210.7 L731.1 211 L733.8 211.3 L736.5 211.5 L738.5 211.7 L739.2 211.8 L741.9 212.1 L744.6 212.4 L747.4 212.7 L750.1 212.9 L752.8 213.2 L755.5 213.5 " fill="none" stroke="#1a1a1a" stroke-width="0.8"/>
<path d="M432.5 206.1 L435.2 205.6 L437.9 205.2 L440.6 204.7 L443.4 204.3 L444.2 204.2 L446.1 203.9 L448.8 203.6 L451.5 203.2 L454.2 202.9 L456.9 202.6 L459.6 202.3 L462.4 202 L465.1 201.8 L466.2 201.7 L467.8 201.5 L470.5 201.3 L473.2 201 L475.9 200.7 L478.6 200.4 L481.4 200.1 L484.1 199.9 L486.8 199.6 L489.5 199.4 L492.1 199.1 L492.2 199.1 L494.9 198.9 L497.6 198.7 L500.4 198.4 L503.1 198.2 L505.8 198 L508.5 197.8 L511.2 197.6 L513.9 197.4 L516.6 197.2 L519.4 197.1 L522.1 196.9 L524.8 196.7 L526.5 196.6 L527.5 196.6 L530.2 196.4 L532.9 196.2 L535.6 196 L538.4 195.8 L541.1 195.7 L543.8 195.5 L546.5 195.3 L549.2 195.1 L551.9 195 L554.6 194.8 L557.4 194.7 L560.1 194.6 L562.8 194.5 L565.5 194.4 L568.2 194.3 L570.9 194.2 L572.6 194.1 L573.6 194.1 L576.4 194 L579.1 193.9 L581.8 193.9 L584.5 193.8 L587.2 193.8 L589.9 193.7 L592.6 193.7 L595.4 193.7 L598.1 193.7 L600.8 193.8 L603.5 193.8 L606.2 193.8 L608.9 193.8 L611.6 193.8 L614.4 193.7 L617.1 193.7 L619.8 193.7 L622.5 193.6 L625.2 193.6 L627.9 193.6 L630.6 193.6 L633.4 193.6 L636.1 193.6 L638.8 193.6 L641.5 193.6 L644.2 193.6 L646.9 193.6 L649.6 193.7 L652.4 193.7 L655.1 193.8 L657.8 193.9 L660.5 194 L663.2 194.1 L663.9 194.1 L665.9 194.2 L668.6 194.3 L671.4 194.4 L674.1 194.5 L676.8 194.6 L679.5 194.8 L682.2 194.9 L684.9 195 L687.6 195.1 L690.4 195.2 L693.1 195.3 L695.8 195.5 L698.5 195.6 L701.2 195.7 L703.9 195.9 L706.6 196.1 L709.4 196.3 L712.1 196.4 L714.6 196.6 L714.8 196.6 L717.5 196.8 L720.2 197 L722.9 197.2 L725.6 197.4 L728.4 197.7 L731.1 197.9 L733.8 198.1 L736.5 198.3 L739.2 198.6 L741.9 198.8 L744.6 199 L746.3 199.1 L747.4 199.2 L750.1 199.4 L752.8 199.6 L755.5 199.8 " fill="none" stroke="#1a1a1a" stroke-width="0.8"/>
<path d="M432.5 190.3 L435.2 190 L437.9 189.8 L440.6 189.6 L443.4 189.4 L446.1 189.3 L448.7 189.1 L448.8 189.1 L451.5 188.9 L454.2 188.6 L456.9 188.4 L459.6 188.1 L462.4 187.8 L465.1 187.5 L467.8 187.2 L470.5 186.9 L473.2 186.7 L474.9 186.6 L475.9 186.5 L478.6 186.3 L481.4 186.1 L484.1 185.9 L486.8 185.8 L489.5 185.6 L492.2 185.4 L494.9 185.2 L497.6 185 L500.4 184.8 L503.1 184.6 L505.8 184.4 L508.5 184.2 L510.3 184 L511.2 184 L513.9 183.8 L516.6 183.6 L519.4 183.5 L522.1 183.3 L524.8 183.2 L527.5 183 L530.2 182.9 L532.9 182.7 L535.6 182.6 L538.4 182.4 L541.1 182.3 L543.8 182.2 L546.5 182 L549.2 181.9 L551.9 181.8 L554.6 181.7 L557.3 181.5 L557.4 181.5 L560.1 181.4 L562.8 181.2 L565.5 181.1 L568.2 181 L570.9 180.9 L573.6 180.8 L576.4 180.7 L579.1 180.6 L581.8 180.5 L584.5 180.5 L587.2 180.4 L589.9 180.4 L592.6 180.4 L595.4 180.4 L598.1 180.3 L600.8 180.3 L603.5 180.2 L606.2 180.2 L608.9 180.2 L611.6 180.1 L614.4 180.1 L617.1 180.1 L619.8 180 L622.5 180 L625.2 180 L627.9 180 L630.6 180 L633.4 180 L636.1 180 L638.8 180 L641.5 180 L644.2 180 L646.9 180 L649.6 180 L652.4 180.1 L655.1 180.1 L657.8 180.1 L660.5 180.2 L663.2 180.3 L665.9 180.4 L668.6 180.4 L671.4 180.5 L674.1 180.6 L676.8 180.7 L679.5 180.8 L682.2 180.9 L684.9 181 L687.6 181.1 L690.4 181.2 L693.1 181.3 L695.8 181.4 L698.5 181.5 L698.8 181.5 L701.2 181.6 L703.9 181.8 L706.6 181.9 L709.4 182.1 L712.1 182.2 L714.8 182.4 L717.5 182.6 L720.2 182.8 L722.9 183 L725.6 183.2 L728.4 183.5 L731.1 183.7 L733.8 183.9 L734.8 184 L736.5 184.2 L739.2 184.4 L741.9 184.6 L744.6 184.8 L747.4 185 L750.1 185.2 L752.8 185.3 L755.5 185.4 " fill="none" stroke="#1a1a1a" stroke-width="0.8"/>
<path d="M432.5 177.2 L435.2 176.8 L437.3 176.5 L437.9 176.4 L440.6 176 L443.4 175.6 L446.1 175.2 L448.8 174.9 L451.5 174.5 L454.2 174.2 L456.5 174 L456.9 173.9 L459.6 173.6 L462.4 173.3 L465.1 173.1 L467.8 172.8 L470.5 172.6 L473.2 172.3 L475.9 172 L478.6 171.7 L481.1 171.4 L481.4 171.4 L484.1 171.1 L486.8 170.8 L489.5 170.5 L492.2 170.2 L494.9 170 L497.6 169.8 L500.4 169.6 L503.1 169.4 L505.8 169.2 L508.5 169 L509.7 168.9 L511.2 168.8 L513.9 168.6 L516.6 168.4 L519.4 168.2 L522.1 168 L524.8 167.8 L527.5 167.6 L530.2 167.4 L532.9 167.2 L535.6 167 L538.4 166.9 L541.1 166.7 L543.8 166.6 L546.5 166.4 L546.7 166.4 L549.2 166.3 L551.9 166.1 L554.6 166 L557.4 165.8 L560.1 165.7 L562.8 165.6 L565.5 165.4 L568.2 165.3 L570.9 165.2 L573.6 165.1 L576.4 165 L579.1 164.9 L581.8 164.8 L584.5 164.7 L587.2 164.6 L589.9 164.6 L592.6 164.5 L595.4 164.4 L598.1 164.4 L600.8 164.3 L603.5 164.3 L606.2 164.3 L608.9 164.2 L611.6 164.2 L614.4 164.1 L617.1 164.1 L619.8 164.1 L622.5 164.1 L625.2 164 L627.9 164 L630.6 164 L633.4 164 L636.1 164 L638.8 164 L641.5 164 L644.2 164 L646.9 164.1 L649.6 164.1 L652.4 164.1 L655.1 164.2 L657.8 164.2 L660.5 164.3 L663.2 164.3 L665.9 164.4 L668.6 164.4 L671.4 164.5 L674.1 164.5 L676.8 164.6 L679.5 164.7 L682.2 164.8 L684.9 164.9 L687.6 165 L690.4 165.1 L693.1 165.2 L695.8 165.3 L698.5 165.4 L701.2 165.5 L703.9 165.6 L706.6 165.8 L709.4 165.9 L712.1 166 L714.8 166.2 L717.5 166.4 L717.6 166.4 L720.2 166.6 L722.9 166.8 L725.6 167 L728.4 167.2 L731.1 167.4 L733.8 167.7 L736.5 167.9 L739.2 168.1 L741.9 168.3 L744.6 168.5 L747.4 168.6 L750.1 168.8 L752.8 168.9 L754.8 168.9 L755.5 168.9 " fill="none" stroke="#1a1a1a" stroke-width="0.8"/>
<path d="M432.5 160.8 L435.2 160.3 L437.9 159.9 L440.6 159.4 L443.4 158.9 L443.7 158.8 L446.1 158.4 L448.8 157.9 L451.5 157.5 L454.2 157 L456.9 156.5 L458.1 156.3 L459.6 156.1 L462.4 155.6 L465.1 155.1 L467.8 154.7 L470.5 154.2 L473.2 153.8 L473.3 153.8 L475.9 153.4 L478.6 153 L481.4 152.7 L484.1 152.3 L486.8 151.9 L489.5 151.6 L492.2 151.3 L492.3 151.3 L494.9 151 L497.6 150.7 L500.4 150.4 L503.1 150.1 L505.8 149.8 L508.5 149.5 L511.2 149.3 L513.9 149 L516.6 148.8 L516.8 148.8 L519.4 148.6 L522.1 148.3 L524.8 148.1 L527.5 147.9 L530.2 147.7 L532.9 147.5 L535.6 147.3 L538.4 147.1 L541.1 146.9 L543.8 146.8 L546.5 146.6 L549.2 146.4 L551.9 146.3 L552.6 146.3 L554.6 146.1 L557.4 146 L560.1 145.9 L562.8 145.8 L565.5 145.6 L568.2 145.5 L570.9 145.4 L573.6 145.3 L576.4 145.3 L579.1 145.2 L581.8 145.1 L584.5 145 L587.2 145 L589.9 144.9 L592.6 144.8 L595.4 144.8 L598.1 144.8 L600.8 144.7 L603.5 144.7 L606.2 144.7 L608.9 144.6 L611.6 144.6 L614.4 144.6 L617.1 144.6 L619.8 144.6 L622.5 144.6 L625.2 144.6 L627.9 144.6 L630.6 144.6 L633.4 144.6 L636.1 144.7 L638.8 144.7 L641.5 144.7 L644.2 144.7 L646.9 144.8 L649.6 144.8 L652.4 144.8 L655.1 144.9 L657.8 144.9 L660.5 145 L663.2 145.1 L665.9 145.1 L668.6 145.2 L671.4 145.3 L674.1 145.3 L676.8 145.4 L679.5 145.4 L682.2 145.5 L684.9 145.6 L687.6 145.6 L690.4 145.7 L693.1 145.8 L695.8 145.8 L698.5 145.9 L701.2 146 L703.9 146.1 L706.6 146.2 L707.2 146.3 L709.4 146.3 L712.1 146.5 L714.8 146.6 L717.5 146.7 L720.2 146.8 L722.9 146.9 L725.6 147 L728.4 147.1 L731.1 147.2 L733.8 147.3 L736.5 147.4 L739.2 147.5 L741.9 147.7 L744.6 147.8 L747.4 147.8 L750.1 147.9 L752.8 148 L755.5 148 " fill="none" stroke="#1a1a1a" stroke-width="0.8"/>
<path d="M432.5 139.2 L435 138.7 L435.2 138.6 L437.9 138.1 L440.6 137.5 L443.4 136.9 L446.1 136.3 L446.7 136.2 L448.8 135.7 L451.5 135.1 L454.2 134.4 L456.9 133.8 L457.5 133.7 L459.6 133.1 L462.4 132.5 L465.1 131.8 L467.8 131.2 L468.1 131.1 L470.5 130.6 L473.2 130.1 L475.9 129.6 L478.6 129.2 L481.4 128.8 L482.5 128.6 L484.1 128.4 L486.8 128 L489.5 127.6 L492.2 127.2 L494.9 126.8 L497.6 126.4 L499.8 126.1 L500.4 126 L503.1 125.6 L505.8 125.2 L508.5 124.8 L511.2 124.4 L513.9 124.1 L516.6 123.8 L519.4 123.6 L519.7 123.6 L522.1 123.4 L524.8 123.2 L527.5 123 L530.2 122.8 L532.9 122.6 L535.6 122.3 L538.4 122.1 L541.1 121.9 L543.8 121.6 L546.5 121.4 L549.2 121.1 L549.9 121.1 L551.9 120.9 L554.6 120.7 L557.4 120.6 L560.1 120.5 L562.8 120.4 L565.5 120.4 L568.2 120.3 L570.9 120.2 L573.6 120.1 L576.4 120 L579.1 119.9 L581.8 119.8 L584.5 119.7 L587.2 119.5 L589.9 119.4 L592.6 119.3 L595.4 119.3 L598.1 119.3 L600.8 119.3 L603.5 119.3 L606.2 119.3 L608.9 119.3 L611.6 119.3 L614.4 119.3 L617.1 119.2 L619.8 119.2 L622.5 119.2 L625.2 119.1 L627.9 119.1 L630.6 119.1 L633.4 119 L636.1 119.1 L638.8 119.1 L641.5 119.1 L644.2 119.2 L646.9 119.2 L649.6 119.3 L652.4 119.3 L655.1 119.3 L657.8 119.3 L660.5 119.4 L663.2 119.4 L665.9 119.3 L668.6 119.3 L671.4 119.3 L674.1 119.3 L676.8 119.4 L679.5 119.4 L682.2 119.5 L684.9 119.5 L687.6 119.6 L690.4 119.6 L693.1 119.6 L695.8 119.6 L698.5 119.6 L701.2 119.6 L703.9 119.6 L706.6 119.6 L709.4 119.5 L712.1 119.5 L714.8 119.5 L717.5 119.4 L720.2 119.4 L722.9 119.4 L725.6 119.4 L728.4 119.4 L731.1 119.3 L733.8 119.3 L736.5 119.2 L739.2 119.2 L741.9 119.1 L744.6 119 L747.4 118.9 L750.1 118.9 L752.8 118.9 L755.5 118.9 " fill="none" stroke="#1a1a1a" stroke-width="0.8"/>
<path d="M432.5 111.4 L434.1 111 L435.2 110.7 L437.9 110 L440.6 109.3 L443.4 108.7 L444.2 108.5 L446.1 108 L448.8 107.3 L451.5 106.7 L454.2 106.1 L455 106 L456.9 105.5 L459.6 105 L462.4 104.4 L465.1 103.9 L467.8 103.4 L467.8 103.4 L470.5 102.9 L473.2 102.4 L475.9 101.8 L478.6 101.1 L479.5 100.9 L481.4 100.5 L484.1 99.8 L486.8 99.2 L489.5 98.6 L490.7 98.4 L492.2 98.1 L494.9 97.6 L497.6 97.1 L500.4 96.7 L503.1 96.3 L505.8 96 L506.4 95.9 L508.5 95.6 L511.2 95.2 L513.9 94.8 L516.6 94.3 L519.4 93.7 L521.3 93.4 L522.1 93.2 L524.8 92.7 L527.5 92.1 L530.2 91.7 L532.9 91.2 L535.5 90.8 L535.6 90.8 L538.4 90.4 L541.1 90.1 L543.8 89.8 L546.5 89.5 L549.2 89.2 L551.9 89 L554.6 88.6 L556.8 88.3 L557.4 88.2 L560.1 87.8 L562.8 87.3 L565.5 86.9 L568.2 86.5 L570.9 86.1 L573.3 85.8 L573.6 85.8 L576.4 85.4 L579.1 85.2 L581.8 84.9 L584.5 84.7 L587.2 84.5 L589.9 84.3 L592.6 84.1 L595.4 83.9 L598.1 83.6 L600.5 83.3 L600.8 83.3 L603.5 82.9 L606.2 82.6 L608.9 82.3 L611.6 82 L614.4 81.8 L617.1 81.6 L619.8 81.4 L622.5 81.2 L625.2 81.1 L627.9 81 L630.6 80.9 L633.4 80.8 L633.8 80.8 L636.1 80.6 L638.8 80.4 L641.5 80.2 L644.2 80 L646.9 79.8 L649.6 79.6 L652.4 79.4 L655.1 79.3 L657.8 79.2 L660.5 79.1 L663.2 79 L665.9 79 L668.6 79 L671.4 78.9 L674.1 78.9 L676.8 78.8 L679.5 78.7 L682.2 78.6 L684.9 78.6 L687.6 78.5 L690.4 78.4 L693.1 78.4 L695.8 78.4 L698.5 78.3 L701.2 78.4 L703.9 78.4 L706.6 78.4 L709.4 78.5 L712.1 78.5 L714.8 78.5 L717.5 78.5 L720.2 78.5 L722.9 78.5 L725.6 78.5 L728.4 78.5 L731.1 78.5 L733.8 78.6 L736.5 78.7 L739.2 78.8 L741.9 78.9 L744.6 79 L747.4 79.2 L750.1 79.3 L752.8 79.5 L755.5 79.7 " fill="none" stroke="#1a1a1a" stroke-width="0.8"/>
<path d="M432.5 73.1 L435.2 72.3 L437.9 71.4 L440.2 70.7 L440.6 70.6 L443.4 69.8 L446.1 68.9 L448.4 68.2 L448.8 68.1 L451.5 67.2 L454.2 66.4 L456.5 65.7 L456.9 65.5 L459.6 64.7 L462.4 63.9 L464.6 63.1 L465.1 63 L467.8 62.2 L470.5 61.4 L473.1 60.6 L473.2 60.6 L475.9 59.9 L478.6 59.2 L481.4 58.5 L482.7 58.1 L484.1 57.8 L486.8 57.1 L489.5 56.4 L492.2 55.7 L492.9 55.6 L494.9 55.1 L497.6 54.4 L500.4 53.8 L503.1 53.1 L503.2 53.1 L505.8 52.5 L508.5 51.8 L511.2 51.2 L513.9 50.6 L514.1 50.5 L516.6 50 L519.4 49.5 L522.1 48.9 L524.8 48.4 L526.5 48 L527.5 47.8 L530.2 47.3 L532.9 46.8 L535.6 46.3 L538.4 45.7 L539.5 45.5 L541.1 45.2 L543.8 44.7 L546.5 44.2 L549.2 43.7 L551.9 43.2 L553 43 L554.6 42.7 L557.4 42.3 L560.1 41.9 L562.8 41.4 L565.5 41 L568.2 40.6 L568.8 40.5 L570.9 40.2 L573.6 39.8 L576.4 39.4 L579.1 39 L581.8 38.5 L584.5 38.1 L585.6 38 L587.2 37.7 L589.9 37.4 L592.6 37 L595.4 36.6 L598.1 36.3 L600.8 35.9 L603.5 35.6 L604.6 35.4 L606.2 35.3 L608.9 34.9 L611.6 34.6 L614.4 34.3 L617.1 34 L619.8 33.7 L622.5 33.3 L625.2 33 L626 32.9 L627.9 32.7 L630.6 32.4 L633.4 32.1 L636.1 31.8 L638.8 31.6 L641.5 31.3 L644.2 31 L646.9 30.8 L649.6 30.5 L650.5 30.4 L652.4 30.2 L655.1 30 L657.8 29.7 L660.5 29.5 L663.2 29.2 L665.9 29 L668.6 28.7 L671.4 28.5 L674.1 28.2 L676.8 28 L678.1 27.9 L679.5 27.8 L682.2 27.5 L684.9 27.3 L687.6 27.1 L690.4 26.9 L693.1 26.7 L695.8 26.5 L698.5 26.2 L701.2 26 L703.9 25.8 L706.6 25.6 L709.3 25.4 L709.4 25.4 L712.1 25.2 L714.8 25 L717.5 24.8 L720.2 24.6 L722.9 24.4 L725.6 24.2 L728.4 24 L731.1 23.8 L733.8 23.6 L736.5 23.4 L739.2 23.2 L741.9 23 L743.9 22.8 L744.6 22.8 L747.4 22.6 L750.1 22.3 L752.8 22.1 L755.5 21.8 " fill="none" stroke="#1a1a1a" stroke-width="0.8"/>
</g>
<rect x="433.5" y="17.5" width="321" height="297" fill="none" stroke="#262626" stroke-width="1"/>
<line x1="433.5" y1="283.8" x2="436.5" y2="283.8" stroke="#262626"/><line x1="751.5" y1="283.8" x2="754.5" y2="283.8" stroke="#262626"/>
<line x1="433.5" y1="252.6" x2="436.5" y2="252.6" stroke="#262626"/><line x1="751.5" y1="252.6" x2="754.5" y2="252.6" stroke="#262626"/>
<line x1="433.5" y1="221.3" x2="436.5" y2="221.3" stroke="#262626"/><line x1="751.5" y1="221.3" x2="754.5" y2="221.3" stroke="#262626"/>
<line x1="433.5" y1="190.1" x2="436.5" y2="190.1" stroke="#262626"/><line x1="751.5" y1="190.1" x2="754.5" y2="190.1" stroke="#262626"/>
<line x1="433.5" y1="158.9" x2="436.5" y2="158.9" stroke="#262626"/><line x1="751.5" y1="158.9" x2="754.5" y2="158.9" stroke="#262626"/>
<line x1="433.5" y1="127.7" x2="436.5" y2="127.7" stroke="#262626"/><line x1="751.5" y1="127.7" x2="754.5" y2="127.7" stroke="#262626"/>
<line x1="433.5" y1="96.5" x2="436.5" y2="96.5" stroke="#262626"/><line x1="751.5" y1="96.5" x2="754.5" y2="96.5" stroke="#262626"/>
<line x1="433.5" y1="65.2" x2="436.5" y2="65.2" stroke="#262626"/><line x1="751.5" y1="65.2" x2="754.5" y2="65.2" stroke="#262626"/>
<line x1="433.5" y1="34" x2="436.5" y2="34" stroke="#262626"/><line x1="751.5" y1="34" x2="754.5" y2="34" stroke="#262626"/>
<line x1="518.4" y1="17.5" x2="518.4" y2="20.5" stroke="#262626"/><line x1="518.4" y1="311.5" x2="518.4" y2="314.5" stroke="#262626"/>
<line x1="602.3" y1="17.5" x2="602.3" y2="20.5" stroke="#262626"/><line x1="602.3" y1="311.5" x2="602.3" y2="314.5" stroke="#262626"/>
<line x1="686.7" y1="17.5" x2="686.7" y2="20.5" stroke="#262626"/><line x1="686.7" y1="311.5" x2="686.7" y2="314.5" stroke="#262626"/>
<text x="431" y="319.1" font-size="12.5" text-anchor="end" fill="#262626">0</text>
<text x="431" y="287.9" font-size="12.5" text-anchor="end" fill="#262626">0.2</text>
<text x="431" y="256.7" font-size="12.5" text-anchor="end" fill="#262626">0.4</text>
<text x="431" y="225.4" font-size="12.5" text-anchor="end" fill="#262626">0.6</text>
<text x="431" y="194.2" font-size="12.5" text-anchor="end" fill="#262626">0.8</text>
<text x="431" y="163" font-size="12.5" text-anchor="end" fill="#262626">1</text>
<text x="431" y="131.8" font-size="12.5" text-anchor="end" fill="#262626">1.2</text>
<text x="431" y="100.6" font-size="12.5" text-anchor="end" fill="#262626">1.4</text>
<text x="431" y="69.3" font-size="12.5" text-anchor="end" fill="#262626">1.6</text>
<text x="431" y="38.1" font-size="12.5" text-anchor="end" fill="#262626">1.8</text>
<text x="432.5" y="330" font-size="12.5" text-anchor="middle" fill="#262626">0</text>
<text x="517.5" y="330" font-size="12.5" text-anchor="middle" fill="#262626">0.5</text>
<text x="602.5" y="330" font-size="12.5" text-anchor="middle" fill="#262626">1</text>
<text x="687.5" y="330" font-size="12.5" text-anchor="middle" fill="#262626">1.5</text>
<text x="606" y="343" font-size="12.5" text-anchor="middle" fill="#262626" xml:space="preserve" textLength="149" lengthAdjust="spacingAndGlyphs">Perpendicular direction  (Å)</text>
<text transform="translate(406.5,157) rotate(-90)" font-size="12.5" text-anchor="middle" fill="#262626">Tensile direction (Å)</text>
<defs><linearGradient id="cbg" x1="0" y1="1" x2="0" y2="0"><stop offset="0.0" stop-color="#00805e"/><stop offset="0.1" stop-color="#1a8c5e"/><stop offset="0.2" stop-color="#33995e"/><stop offset="0.3" stop-color="#4ca65e"/><stop offset="0.4" stop-color="#66b25e"/><stop offset="0.5" stop-color="#80bf5e"/><stop offset="0.6" stop-color="#99cc5e"/><stop offset="0.7" stop-color="#b2d95e"/><stop offset="0.8" stop-color="#cce65e"/><stop offset="0.9" stop-color="#e6f25e"/><stop offset="1.0" stop-color="#ffff5e"/></linearGradient></defs>
<rect x="761.5" y="17.0" width="15" height="178.0" fill="url(#cbg)" stroke="#262626" stroke-width="1"/>
<line x1="774.5" y1="37.1" x2="776.5" y2="37.1" stroke="#262626"/><line x1="761.5" y1="37.1" x2="763.5" y2="37.1" stroke="#262626"/>
<text x="778" y="41.6" font-size="12.5" fill="#262626">3</text>
<line x1="774.5" y1="66.6" x2="776.5" y2="66.6" stroke="#262626"/><line x1="761.5" y1="66.6" x2="763.5" y2="66.6" stroke="#262626"/>
<text x="778" y="71.1" font-size="12.5" fill="#262626">2</text>
<line x1="774.5" y1="96.1" x2="776.5" y2="96.1" stroke="#262626"/><line x1="761.5" y1="96.1" x2="763.5" y2="96.1" stroke="#262626"/>
<text x="778" y="100.6" font-size="12.5" fill="#262626">1</text>
<line x1="774.5" y1="125.6" x2="776.5" y2="125.6" stroke="#262626"/><line x1="761.5" y1="125.6" x2="763.5" y2="125.6" stroke="#262626"/>
<text x="778" y="130.1" font-size="12.5" fill="#262626">0</text>
<line x1="774.5" y1="155.1" x2="776.5" y2="155.1" stroke="#262626"/><line x1="761.5" y1="155.1" x2="763.5" y2="155.1" stroke="#262626"/>
<text x="778" y="159.6" font-size="12.5" fill="#262626">-1</text>
<line x1="774.5" y1="184.7" x2="776.5" y2="184.7" stroke="#262626"/><line x1="761.5" y1="184.7" x2="763.5" y2="184.7" stroke="#262626"/>
<text x="778" y="189.2" font-size="12.5" fill="#262626">-2</text>
<text transform="translate(800.2,108.8) rotate(-90)" font-size="12.5" text-anchor="middle" fill="#262626" textLength="83" lengthAdjust="spacing"><tspan font-style="italic">E</tspan><tspan font-size="8" dy="2">hb</tspan><tspan dy="-2">(kcal/mol)</tspan></text>
<defs><radialGradient id="gO" cx="0.4" cy="0.4" r="0.6" fx="0.35" fy="0.3"><stop offset="0" stop-color="#ff7070"/><stop offset="0.45" stop-color="#e00000"/><stop offset="1" stop-color="#7a0000"/></radialGradient><radialGradient id="gH" cx="0.4" cy="0.4" r="0.6" fx="0.35" fy="0.3"><stop offset="0" stop-color="#ffffff"/><stop offset="0.5" stop-color="#e8e8e8"/><stop offset="1" stop-color="#8a8a8a"/></radialGradient><radialGradient id="gC" cx="0.4" cy="0.4" r="0.6" fx="0.35" fy="0.3"><stop offset="0" stop-color="#c8ffff"/><stop offset="0.5" stop-color="#5cc8d0"/><stop offset="1" stop-color="#1e6e78"/></radialGradient></defs>
<line x1="488.4" y1="35.3" x2="493.1" y2="35.1" stroke="#b00000" stroke-width="1.6"/>
<line x1="493.1" y1="35.1" x2="497.8" y2="34.9" stroke="#b8b8b8" stroke-width="1.6"/>
<line x1="488.4" y1="35.3" x2="488.6" y2="41" stroke="#b00000" stroke-width="1.6"/>
<line x1="488.6" y1="41" x2="488.8" y2="46.6" stroke="#b8b8b8" stroke-width="1.6"/>
<circle cx="488.4" cy="35.3" r="3.6" fill="url(#gO)"/>
<circle cx="497.8" cy="34.9" r="2.3" fill="url(#gH)"/>
<circle cx="488.8" cy="46.6" r="2.3" fill="url(#gH)"/>
<line x1="486.1" y1="80.1" x2="483.1" y2="80.8" stroke="#b00000" stroke-width="1.6"/>
<line x1="483.1" y1="80.8" x2="480.1" y2="81.6" stroke="#b8b8b8" stroke-width="1.6"/>
<line x1="486.1" y1="80.1" x2="484.4" y2="83.7" stroke="#b00000" stroke-width="1.6"/>
<line x1="484.4" y1="83.7" x2="482.6" y2="87.3" stroke="#b8b8b8" stroke-width="1.6"/>
<circle cx="486.1" cy="80.1" r="3.1" fill="url(#gO)"/>
<circle cx="480.1" cy="81.6" r="2.1" fill="url(#gH)"/>
<circle cx="482.6" cy="87.3" r="2.1" fill="url(#gH)"/>
<line x1="502.7" y1="78.6" x2="502.5" y2="83.4" stroke="#d03000" stroke-width="1.6"/>
<line x1="502.5" y1="83.4" x2="502.4" y2="88.3" stroke="#40a0a8" stroke-width="1.6"/>
<line x1="502.4" y1="88.3" x2="502.4" y2="93.3" stroke="#40a0a8" stroke-width="1.6"/>
<line x1="502.4" y1="93.3" x2="502.4" y2="98.4" stroke="#d03000" stroke-width="1.6"/>
<circle cx="502.7" cy="78.6" r="2.8" fill="url(#gO)"/>
<circle cx="502.4" cy="88.3" r="2.8" fill="url(#gC)"/>
<circle cx="502.4" cy="98.4" r="2.8" fill="url(#gO)"/>
<line x1="460.9" y1="265.1" x2="460.9" y2="282.3" stroke="#8a3020" stroke-width="0.7"/>
<line x1="460.3" y1="253.4" x2="465.5" y2="252.9" stroke="#b00000" stroke-width="1.6"/>
<line x1="465.5" y1="252.9" x2="470.7" y2="252.5" stroke="#b8b8b8" stroke-width="1.6"/>
<line x1="460.3" y1="253.4" x2="460.6" y2="259.2" stroke="#b00000" stroke-width="1.6"/>
<line x1="460.6" y1="259.2" x2="460.9" y2="265.1" stroke="#b8b8b8" stroke-width="1.6"/>
<circle cx="460.3" cy="253.4" r="3.7" fill="url(#gO)"/>
<circle cx="470.7" cy="252.5" r="2.3" fill="url(#gH)"/>
<circle cx="460.9" cy="265.1" r="2.3" fill="url(#gH)"/>
<line x1="460.9" y1="282.3" x2="457.8" y2="283.1" stroke="#b00000" stroke-width="1.6"/>
<line x1="457.8" y1="283.1" x2="454.7" y2="283.8" stroke="#b8b8b8" stroke-width="1.6"/>
<line x1="460.9" y1="282.3" x2="458.8" y2="285.8" stroke="#b00000" stroke-width="1.6"/>
<line x1="458.8" y1="285.8" x2="456.6" y2="289.2" stroke="#b8b8b8" stroke-width="1.6"/>
<circle cx="460.9" cy="282.3" r="3.4" fill="url(#gO)"/>
<circle cx="454.7" cy="283.8" r="2.2" fill="url(#gH)"/>
<circle cx="456.6" cy="289.2" r="2.2" fill="url(#gH)"/>
<line x1="478.2" y1="281.9" x2="477.9" y2="286.8" stroke="#d03000" stroke-width="1.6"/>
<line x1="477.9" y1="286.8" x2="477.6" y2="291.6" stroke="#40a0a8" stroke-width="1.6"/>
<line x1="477.6" y1="291.6" x2="477.1" y2="297.1" stroke="#40a0a8" stroke-width="1.6"/>
<line x1="477.1" y1="297.1" x2="476.7" y2="302.5" stroke="#d03000" stroke-width="1.6"/>
<circle cx="478.2" cy="281.9" r="3.1" fill="url(#gO)"/>
<circle cx="477.6" cy="291.6" r="3.1" fill="url(#gC)"/>
<circle cx="476.7" cy="302.5" r="3.1" fill="url(#gO)"/>
<line x1="624.3" y1="264.2" x2="616.4" y2="283.2" stroke="#8a3020" stroke-width="0.7"/>
<line x1="624.3" y1="264.2" x2="633.6" y2="281.9" stroke="#8a3020" stroke-width="0.7"/>
<line x1="626.5" y1="254.3" x2="630.5" y2="254.8" stroke="#b00000" stroke-width="1.6"/>
<line x1="630.5" y1="254.8" x2="634.5" y2="255.3" stroke="#b8b8b8" stroke-width="1.6"/>
<line x1="626.5" y1="254.3" x2="625.4" y2="259.2" stroke="#b00000" stroke-width="1.6"/>
<line x1="625.4" y1="259.2" x2="624.3" y2="264.2" stroke="#b8b8b8" stroke-width="1.6"/>
<circle cx="626.5" cy="254.3" r="3.5" fill="url(#gO)"/>
<circle cx="634.5" cy="255.3" r="2.2" fill="url(#gH)"/>
<circle cx="624.3" cy="264.2" r="2.2" fill="url(#gH)"/>
<line x1="616.4" y1="283.2" x2="613" y2="283.9" stroke="#b00000" stroke-width="1.6"/>
<line x1="613" y1="283.9" x2="609.7" y2="284.7" stroke="#b8b8b8" stroke-width="1.6"/>
<line x1="616.4" y1="283.2" x2="614.7" y2="286.5" stroke="#b00000" stroke-width="1.6"/>
<line x1="614.7" y1="286.5" x2="613" y2="289.8" stroke="#b8b8b8" stroke-width="1.6"/>
<circle cx="616.4" cy="283.2" r="3.6" fill="url(#gO)"/>
<circle cx="609.7" cy="284.7" r="2.2" fill="url(#gH)"/>
<circle cx="613" cy="289.8" r="2.2" fill="url(#gH)"/>
<line x1="633.6" y1="281.9" x2="633.4" y2="287.2" stroke="#d03000" stroke-width="1.6"/>
<line x1="633.4" y1="287.2" x2="633.2" y2="292.6" stroke="#40a0a8" stroke-width="1.6"/>
<line x1="633.2" y1="292.6" x2="632.9" y2="298.2" stroke="#40a0a8" stroke-width="1.6"/>
<line x1="632.9" y1="298.2" x2="632.6" y2="303.8" stroke="#d03000" stroke-width="1.6"/>
<circle cx="633.6" cy="281.9" r="3.1" fill="url(#gO)"/>
<circle cx="633.2" cy="292.6" r="3.1" fill="url(#gC)"/>
<circle cx="632.6" cy="303.8" r="3.1" fill="url(#gO)"/>
</svg>
</body></html>
